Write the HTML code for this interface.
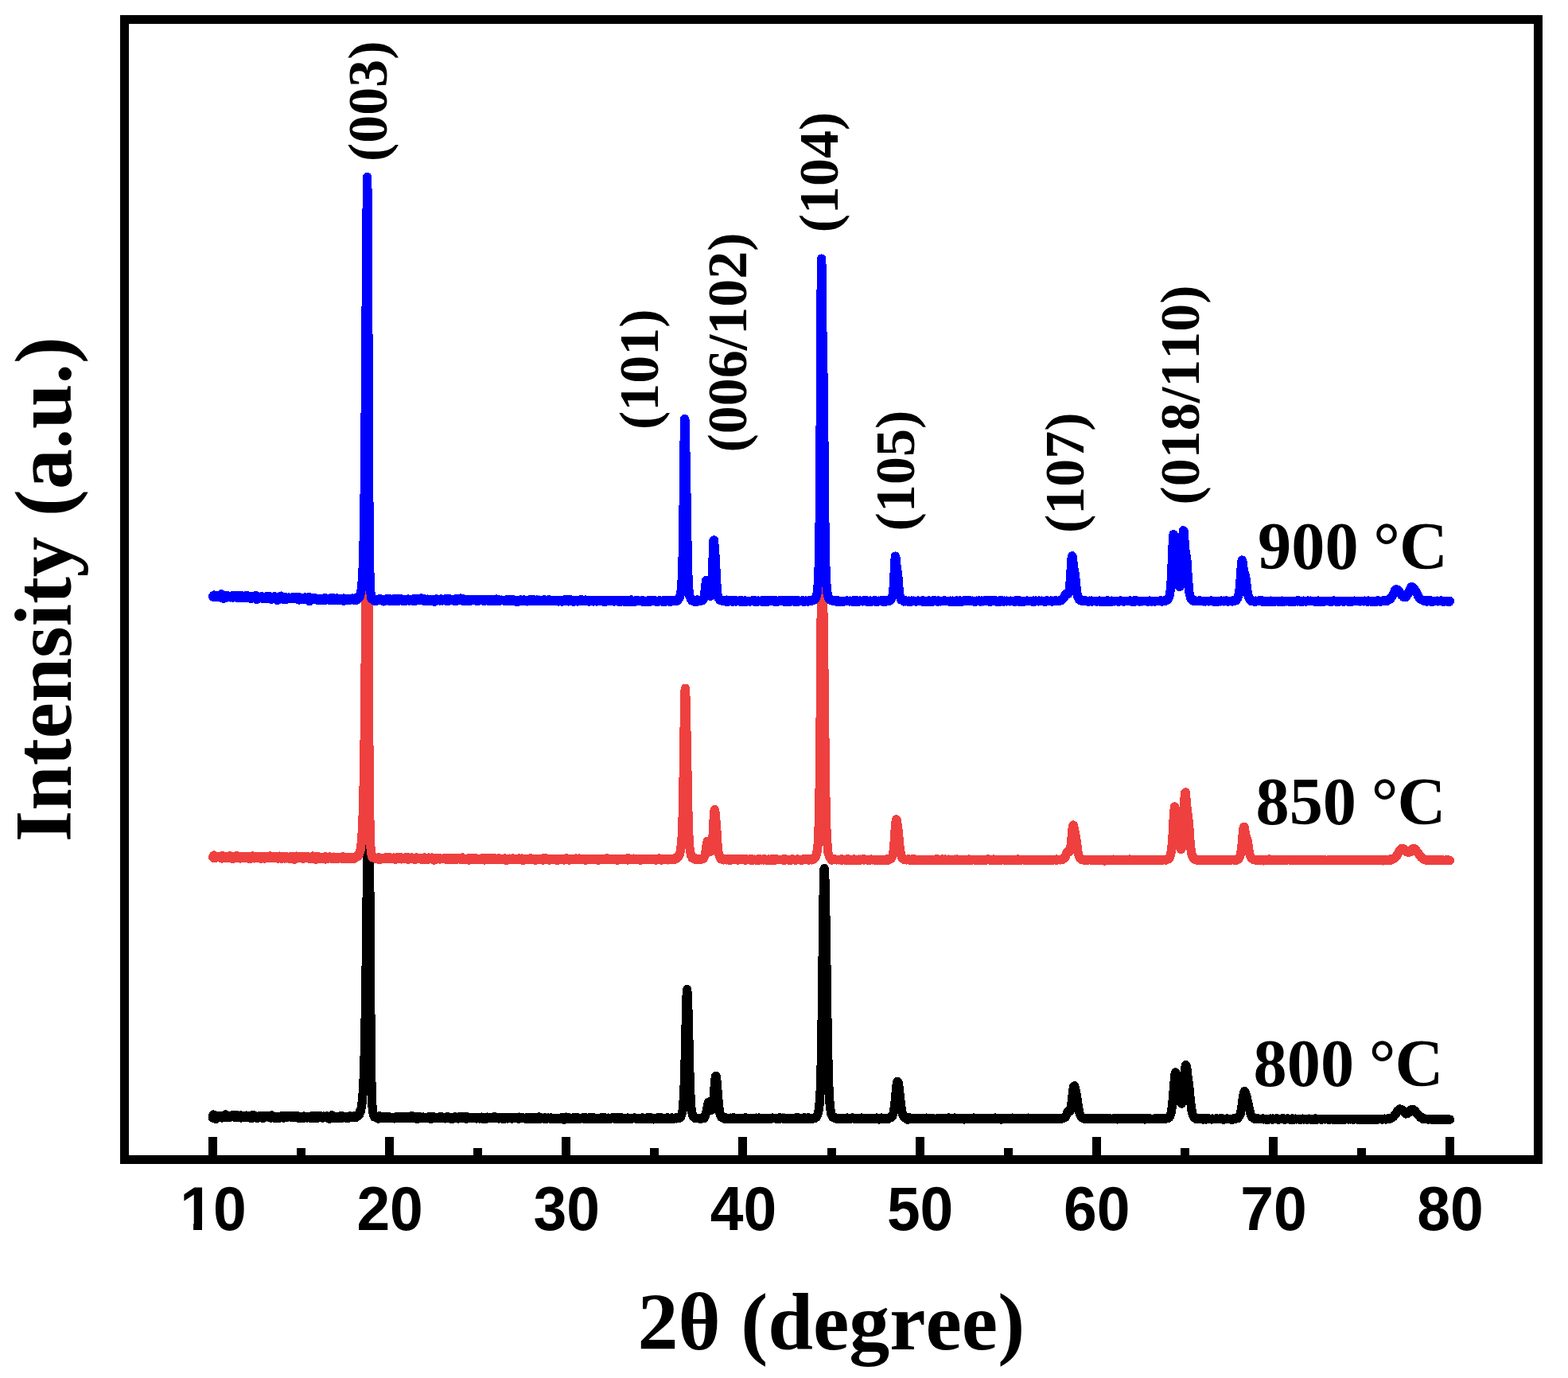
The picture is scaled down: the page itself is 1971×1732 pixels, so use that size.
<!DOCTYPE html>
<html lang="en">
<head>
<meta charset="utf-8">
<title>XRD patterns</title>
<style>
html,body{margin:0;padding:0;background:#fff;}
body{width:1971px;height:1732px;overflow:hidden;}
svg{display:block;}
.s{font-family:"Liberation Serif","Times New Roman",Times,serif;font-weight:bold;fill:#000;font-kerning:none;font-variant-ligatures:none;}
.a{font-family:"Liberation Sans",Arial,Helvetica,sans-serif;font-weight:bold;fill:#000;font-kerning:none;}
.c{fill:none;stroke-linejoin:round;stroke-linecap:round;shape-rendering:crispEdges;}
</style>
</head>
<body>
<svg width="1971" height="1732" viewBox="0 0 1971 1732">
<rect x="0" y="0" width="1971" height="1732" fill="#fff"/>
<defs>
<clipPath id="clip-black"><rect x="0" y="1079" width="1971" height="1732"/><rect x="456.1" y="1039" width="11" height="41"/></clipPath>
<clipPath id="clip-red"><rect x="0" y="754" width="1971" height="1732"/><rect x="455.3" y="714" width="11" height="41"/><rect x="1027.1" y="714" width="11" height="41"/></clipPath>
</defs>
<g clip-path="url(#clip-black)"><path class="c" stroke="#000000" stroke-width="11.2" d="M267.5,1405.1 267.9,1401.0 268.4,1403.7 268.8,1402.8 269.3,1402.9 269.7,1403.1 270.2,1401.5 270.6,1403.1 271.1,1402.5 271.5,1406.3 271.9,1403.5 272.4,1403.0 272.8,1403.1 273.3,1402.7 273.7,1402.4 274.2,1403.0 274.6,1403.8 275.1,1403.1 275.5,1404.2 275.9,1403.2 276.4,1403.4 276.8,1404.7 277.3,1403.8 277.7,1402.9 278.2,1403.2 278.6,1403.8 279.1,1405.1 279.5,1403.1 279.9,1403.2 280.4,1404.3 280.8,1402.6 281.3,1403.1 281.7,1404.2 282.2,1403.9 282.6,1403.5 283.1,1404.0 283.5,1400.9 283.9,1404.3 284.4,1402.5 284.8,1401.9 285.3,1403.6 285.7,1404.0 286.2,1403.0 286.6,1402.5 287.0,1403.4 287.5,1403.4 287.9,1404.7 288.4,1404.1 288.8,1403.6 289.3,1404.4 289.7,1403.2 290.2,1402.6 290.6,1403.9 291.0,1403.9 291.5,1403.2 291.9,1402.7 292.4,1403.6 292.8,1401.2 293.3,1404.0 293.7,1403.9 294.2,1402.0 294.6,1403.5 295.0,1402.6 295.5,1404.1 295.9,1401.7 296.4,1402.7 296.8,1404.1 297.3,1404.5 297.7,1401.6 298.2,1403.0 298.6,1403.8 299.0,1402.9 299.5,1404.9 299.9,1402.4 300.4,1403.8 300.8,1402.6 301.3,1404.7 301.7,1403.5 302.2,1403.2 302.6,1402.0 303.0,1405.0 303.5,1404.1 303.9,1404.2 304.4,1404.5 304.8,1403.8 305.3,1402.9 305.7,1402.8 306.2,1402.8 306.6,1404.7 307.0,1402.2 307.5,1403.0 307.9,1403.2 308.4,1403.7 308.8,1404.0 309.3,1402.4 309.7,1402.0 310.2,1403.5 310.6,1404.6 311.0,1404.2 311.5,1403.7 311.9,1403.3 312.4,1403.8 312.8,1403.3 313.3,1404.3 313.7,1402.9 314.2,1403.7 314.6,1403.5 315.0,1404.0 315.5,1403.8 315.9,1405.8 316.4,1404.9 316.8,1404.9 317.3,1401.8 317.7,1403.3 318.1,1403.0 318.6,1404.0 319.0,1401.6 319.5,1404.6 319.9,1404.5 320.4,1402.5 320.8,1402.7 321.3,1402.9 321.7,1403.6 322.1,1404.1 322.6,1405.3 323.0,1403.4 323.5,1404.3 323.9,1403.7 324.4,1405.1 324.8,1404.2 325.3,1404.8 325.7,1402.7 326.1,1403.4 326.6,1402.9 327.0,1404.9 327.5,1404.2 327.9,1403.4 328.4,1403.2 328.8,1404.0 329.3,1403.0 329.7,1402.8 330.1,1404.0 330.6,1405.7 331.0,1403.4 331.5,1403.2 331.9,1402.6 332.4,1402.5 332.8,1404.1 333.3,1404.4 333.7,1403.7 334.1,1403.9 334.6,1403.8 335.0,1403.8 335.5,1402.4 335.9,1403.3 336.4,1403.8 336.8,1403.0 337.3,1403.3 337.7,1403.0 338.1,1403.4 338.6,1404.4 339.0,1403.3 339.5,1403.6 339.9,1404.4 340.4,1404.2 340.8,1405.1 341.3,1401.9 341.7,1404.4 342.1,1403.3 342.6,1403.8 343.0,1404.4 343.5,1404.6 343.9,1404.6 344.4,1403.8 344.8,1405.1 345.3,1403.5 345.7,1403.6 346.1,1404.4 346.6,1403.3 347.0,1405.5 347.5,1404.6 347.9,1405.6 348.4,1403.7 348.8,1403.4 349.2,1403.9 349.7,1404.4 350.1,1403.3 350.6,1404.1 351.0,1403.7 351.5,1405.1 351.9,1403.2 352.4,1404.6 352.8,1403.2 353.2,1403.0 353.7,1403.2 354.1,1402.8 354.6,1403.9 355.0,1404.6 355.5,1403.9 355.9,1404.3 356.4,1405.1 356.8,1404.0 357.2,1403.9 357.7,1403.6 358.1,1402.5 358.6,1404.4 359.0,1402.3 359.5,1404.3 359.9,1403.8 360.4,1404.7 360.8,1403.7 361.2,1403.1 361.7,1404.1 362.1,1403.3 362.6,1403.7 363.0,1403.8 363.5,1403.7 363.9,1403.7 364.4,1403.1 364.8,1403.7 365.2,1402.1 365.7,1403.7 366.1,1402.8 366.6,1404.8 367.0,1404.9 367.5,1402.2 367.9,1404.0 368.4,1403.7 368.8,1403.0 369.2,1404.3 369.7,1403.5 370.1,1402.4 370.6,1403.6 371.0,1403.7 371.5,1403.9 371.9,1402.8 372.4,1404.4 372.8,1404.5 373.2,1402.9 373.7,1403.3 374.1,1403.8 374.6,1403.4 375.0,1405.3 375.5,1404.0 375.9,1403.1 376.4,1403.2 376.8,1403.8 377.2,1405.8 377.7,1403.7 378.1,1404.0 378.6,1404.3 379.0,1403.9 379.5,1405.8 379.9,1403.5 380.3,1404.5 380.8,1404.0 381.2,1404.4 381.7,1403.0 382.1,1405.3 382.6,1403.8 383.0,1403.9 383.5,1403.2 383.9,1403.3 384.3,1404.4 384.8,1404.7 385.2,1404.5 385.7,1404.9 386.1,1404.5 386.6,1404.0 387.0,1404.6 387.5,1404.4 387.9,1403.9 388.3,1404.5 388.8,1405.0 389.2,1404.1 389.7,1403.7 390.1,1404.5 390.6,1405.5 391.0,1403.8 391.5,1403.9 391.9,1403.9 392.3,1404.9 392.8,1402.5 393.2,1404.3 393.7,1404.9 394.1,1403.3 394.6,1405.2 395.0,1404.4 395.5,1403.5 395.9,1404.1 396.3,1402.8 396.8,1403.5 397.2,1405.5 397.7,1403.3 398.1,1405.5 398.6,1403.9 399.0,1404.8 399.5,1404.0 399.9,1402.2 400.3,1403.6 400.8,1404.2 401.2,1403.1 401.7,1402.9 402.1,1404.3 402.6,1403.5 403.0,1402.7 403.5,1403.5 403.9,1404.7 404.3,1403.7 404.8,1404.8 405.2,1405.2 405.7,1404.1 406.1,1403.1 406.6,1403.0 407.0,1404.0 407.5,1404.7 407.9,1404.3 408.3,1404.5 408.8,1403.7 409.2,1404.3 409.7,1403.7 410.1,1403.8 410.6,1403.0 411.0,1402.8 411.4,1403.7 411.9,1403.2 412.3,1403.3 412.8,1404.6 413.2,1404.0 413.7,1406.4 414.1,1404.8 414.6,1403.6 415.0,1404.7 415.4,1404.4 415.9,1403.6 416.3,1405.0 416.8,1403.5 417.2,1401.7 417.7,1404.7 418.1,1403.6 418.6,1405.3 419.0,1403.6 419.4,1403.2 419.9,1405.3 420.3,1403.3 420.8,1404.3 421.2,1405.2 421.7,1404.2 422.1,1404.1 422.6,1404.2 423.0,1404.8 423.4,1403.5 423.9,1404.6 424.3,1404.6 424.8,1405.9 425.2,1403.9 425.7,1403.4 426.1,1404.7 426.6,1403.8 427.0,1404.4 427.4,1404.2 427.9,1405.0 428.3,1403.6 428.8,1404.1 429.2,1402.2 429.7,1403.5 430.1,1405.3 430.6,1403.6 431.0,1403.6 431.4,1403.2 431.9,1404.6 432.3,1404.3 432.8,1403.2 433.2,1404.7 433.7,1404.4 434.1,1404.7 434.6,1403.7 435.0,1405.5 435.4,1404.5 435.9,1404.1 436.3,1403.7 436.8,1404.0 437.2,1404.8 437.7,1403.9 438.1,1405.0 438.6,1404.6 439.0,1405.1 439.4,1404.7 439.9,1404.0 440.3,1402.6 440.8,1404.3 441.2,1404.7 441.7,1404.2 442.1,1404.4 442.5,1403.6 443.0,1403.7 443.4,1403.2 443.9,1404.9 444.3,1404.0 444.8,1403.4 445.2,1402.7 445.7,1403.6 446.1,1404.7 446.5,1403.9 447.0,1402.9 447.4,1404.4 447.9,1404.2 448.3,1403.7 448.8,1403.4 449.2,1403.4 449.7,1402.6 450.1,1402.4 450.5,1400.8 451.0,1402.1 451.4,1400.5 451.9,1401.1 452.3,1397.1 452.8,1398.0 453.2,1396.9 453.7,1394.2 454.1,1392.7 454.5,1390.3 455.0,1386.9 455.4,1382.1 455.9,1377.4 456.3,1372.1 456.8,1364.6 457.2,1354.1 457.7,1342.2 458.1,1327.7 458.5,1310.5 459.0,1287.4 459.4,1261.5 459.9,1232.7 460.3,1197.6 460.8,1160.1 461.2,1120.4 461.7,1079.9 462.1,1040.0 462.5,1007.5 463.0,979.7 463.4,966.0 463.9,979.0 464.3,1030.7 464.8,1100.2 465.2,1176.6 465.7,1246.7 466.1,1301.7 466.5,1340.2 467.0,1364.3 467.4,1379.5 467.9,1389.5 468.3,1393.9 468.8,1397.5 469.2,1399.7 469.7,1402.3 470.1,1403.1 470.5,1403.9 471.0,1403.4 471.4,1403.5 471.9,1404.5 472.3,1403.7 472.8,1404.7 473.2,1404.7 473.6,1403.7 474.1,1404.2 474.5,1404.2 475.0,1405.6 475.4,1406.2 475.9,1404.3 476.3,1404.4 476.8,1402.7 477.2,1404.5 477.6,1404.4 478.1,1403.6 478.5,1405.0 479.0,1403.3 479.4,1404.3 479.9,1404.5 480.3,1403.5 480.8,1405.1 481.2,1405.2 481.6,1403.4 482.1,1403.4 482.5,1404.9 483.0,1404.4 483.4,1403.6 483.9,1404.2 484.3,1404.4 484.8,1404.4 485.2,1405.1 485.6,1404.7 486.1,1405.7 486.5,1405.5 487.0,1405.0 487.4,1405.2 487.9,1405.4 488.3,1405.0 488.8,1403.6 489.2,1405.1 489.6,1404.5 490.1,1405.6 490.5,1404.6 491.0,1404.9 491.4,1404.7 491.9,1405.7 492.3,1404.6 492.8,1404.3 493.2,1404.7 493.6,1404.2 494.1,1404.6 494.5,1404.5 495.0,1404.7 495.4,1405.9 495.9,1404.2 496.3,1404.5 496.8,1404.4 497.2,1405.0 497.6,1403.7 498.1,1404.0 498.5,1404.5 499.0,1404.9 499.4,1404.5 499.9,1404.2 500.3,1403.9 500.8,1404.9 501.2,1405.6 501.6,1404.8 502.1,1404.7 502.5,1404.9 503.0,1403.9 503.4,1404.3 503.9,1404.4 504.3,1404.8 504.7,1404.5 505.2,1403.7 505.6,1405.4 506.1,1405.8 506.5,1404.4 507.0,1404.9 507.4,1404.8 507.9,1405.1 508.3,1403.5 508.7,1405.7 509.2,1404.3 509.6,1405.5 510.1,1404.6 510.5,1404.3 511.0,1404.5 511.4,1405.2 511.9,1404.0 512.3,1404.3 512.7,1404.3 513.2,1403.4 513.6,1405.5 514.1,1405.0 514.5,1404.6 515.0,1405.4 515.4,1404.0 515.9,1404.6 516.3,1405.8 516.7,1405.3 517.2,1403.1 517.6,1402.3 518.1,1403.9 518.5,1405.4 519.0,1404.3 519.4,1404.5 519.9,1405.1 520.3,1404.0 520.7,1404.8 521.2,1405.2 521.6,1405.0 522.1,1404.9 522.5,1404.2 523.0,1405.0 523.4,1404.4 523.9,1405.6 524.3,1406.4 524.7,1404.2 525.2,1403.2 525.6,1404.4 526.1,1404.9 526.5,1405.4 527.0,1405.4 527.4,1404.2 527.9,1404.1 528.3,1405.5 528.7,1404.0 529.2,1405.4 529.6,1404.5 530.1,1405.2 530.5,1405.2 531.0,1405.2 531.4,1405.3 531.9,1404.0 532.3,1404.9 532.7,1404.7 533.2,1404.9 533.6,1405.5 534.1,1404.5 534.5,1404.2 535.0,1404.2 535.4,1404.5 535.8,1405.2 536.3,1404.2 536.7,1405.5 537.2,1404.9 537.6,1404.6 538.1,1403.9 538.5,1404.9 539.0,1405.2 539.4,1403.6 539.8,1405.5 540.3,1405.8 540.7,1405.0 541.2,1405.1 541.6,1406.4 542.1,1405.6 542.5,1404.2 543.0,1404.8 543.4,1404.7 543.8,1404.7 544.3,1403.2 544.7,1405.3 545.2,1404.4 545.6,1404.9 546.1,1404.7 546.5,1405.4 547.0,1404.6 547.4,1404.3 547.8,1405.1 548.3,1405.7 548.7,1404.6 549.2,1405.7 549.6,1405.0 550.1,1404.5 550.5,1405.8 551.0,1404.3 551.4,1405.5 551.8,1404.5 552.3,1405.1 552.7,1404.0 553.2,1404.3 553.6,1405.5 554.1,1404.9 554.5,1404.9 555.0,1404.5 555.4,1405.1 555.8,1403.9 556.3,1404.1 556.7,1404.7 557.2,1404.3 557.6,1404.4 558.1,1404.8 558.5,1404.8 559.0,1404.7 559.4,1405.9 559.8,1405.5 560.3,1405.7 560.7,1404.8 561.2,1404.5 561.6,1403.9 562.1,1404.6 562.5,1403.5 563.0,1404.5 563.4,1405.4 563.8,1405.9 564.3,1405.5 564.7,1404.3 565.2,1405.2 565.6,1404.4 566.1,1405.4 566.5,1404.8 566.9,1405.4 567.4,1406.5 567.8,1405.5 568.3,1406.4 568.7,1405.0 569.2,1404.7 569.6,1405.8 570.1,1406.0 570.5,1404.6 570.9,1405.0 571.4,1404.0 571.8,1404.8 572.3,1405.5 572.7,1404.9 573.2,1404.6 573.6,1404.0 574.1,1405.2 574.5,1405.4 574.9,1405.3 575.4,1405.1 575.8,1404.1 576.3,1406.0 576.7,1404.9 577.2,1404.9 577.6,1405.4 578.1,1403.6 578.5,1404.9 578.9,1404.9 579.4,1405.2 579.8,1405.8 580.3,1405.3 580.7,1403.8 581.2,1404.8 581.6,1405.1 582.1,1405.1 582.5,1404.2 582.9,1403.9 583.4,1405.3 583.8,1405.2 584.3,1405.0 584.7,1403.9 585.2,1406.1 585.6,1403.2 586.1,1404.8 586.5,1406.3 586.9,1404.9 587.4,1405.1 587.8,1404.3 588.3,1405.8 588.7,1404.2 589.2,1405.2 589.6,1405.1 590.1,1404.4 590.5,1405.6 590.9,1404.2 591.4,1404.6 591.8,1405.0 592.3,1404.8 592.7,1405.3 593.2,1405.6 593.6,1404.9 594.1,1404.7 594.5,1404.7 594.9,1404.8 595.4,1405.5 595.8,1404.9 596.3,1405.3 596.7,1405.0 597.2,1404.5 597.6,1405.6 598.0,1404.4 598.5,1405.1 598.9,1406.0 599.4,1404.4 599.8,1405.0 600.3,1404.1 600.7,1404.8 601.2,1404.2 601.6,1404.9 602.0,1404.8 602.5,1405.2 602.9,1406.0 603.4,1405.3 603.8,1405.5 604.3,1405.1 604.7,1404.9 605.2,1404.6 605.6,1404.0 606.0,1405.1 606.5,1406.1 606.9,1405.4 607.4,1404.8 607.8,1406.1 608.3,1404.9 608.7,1404.7 609.2,1404.4 609.6,1404.5 610.0,1405.0 610.5,1406.3 610.9,1405.0 611.4,1404.5 611.8,1404.8 612.3,1405.0 612.7,1404.1 613.2,1405.2 613.6,1405.6 614.0,1405.3 614.5,1405.5 614.9,1404.4 615.4,1404.2 615.8,1405.9 616.3,1405.8 616.7,1404.3 617.2,1405.3 617.6,1405.2 618.0,1405.5 618.5,1405.3 618.9,1404.9 619.4,1405.3 619.8,1405.3 620.3,1405.1 620.7,1404.1 621.2,1403.4 621.6,1404.7 622.0,1404.2 622.5,1405.3 622.9,1405.6 623.4,1405.3 623.8,1405.0 624.3,1405.2 624.7,1405.9 625.2,1404.8 625.6,1405.7 626.0,1405.6 626.5,1405.4 626.9,1406.0 627.4,1404.8 627.8,1405.8 628.3,1404.7 628.7,1404.8 629.1,1404.6 629.6,1405.5 630.0,1404.7 630.5,1405.3 630.9,1404.6 631.4,1405.8 631.8,1406.3 632.3,1405.4 632.7,1406.2 633.1,1405.6 633.6,1406.5 634.0,1405.3 634.5,1404.4 634.9,1406.1 635.4,1405.2 635.8,1404.7 636.3,1404.9 636.7,1404.3 637.1,1405.2 637.6,1404.7 638.0,1406.1 638.5,1405.6 638.9,1404.3 639.4,1404.4 639.8,1405.0 640.3,1404.2 640.7,1405.2 641.1,1405.3 641.6,1404.9 642.0,1405.0 642.5,1405.6 642.9,1406.1 643.4,1406.1 643.8,1405.3 644.3,1405.8 644.7,1404.9 645.1,1405.5 645.6,1404.8 646.0,1405.7 646.5,1404.6 646.9,1404.8 647.4,1405.3 647.8,1405.6 648.3,1404.5 648.7,1405.0 649.1,1405.4 649.6,1405.5 650.0,1404.9 650.5,1405.4 650.9,1405.2 651.4,1406.1 651.8,1405.7 652.3,1404.6 652.7,1404.1 653.1,1405.4 653.6,1406.0 654.0,1405.5 654.5,1405.8 654.9,1405.1 655.4,1404.6 655.8,1405.8 656.3,1405.4 656.7,1405.7 657.1,1404.6 657.6,1405.5 658.0,1405.0 658.5,1405.8 658.9,1405.1 659.4,1405.1 659.8,1405.1 660.2,1406.1 660.7,1405.4 661.1,1405.0 661.6,1404.8 662.0,1404.8 662.5,1406.2 662.9,1404.4 663.4,1404.9 663.8,1405.8 664.2,1406.1 664.7,1405.3 665.1,1405.8 665.6,1405.8 666.0,1406.0 666.5,1405.4 666.9,1406.3 667.4,1405.5 667.8,1406.3 668.2,1404.8 668.7,1406.0 669.1,1404.8 669.6,1404.6 670.0,1405.7 670.5,1405.0 670.9,1405.7 671.4,1404.9 671.8,1406.3 672.2,1405.5 672.7,1404.9 673.1,1405.6 673.6,1406.0 674.0,1405.1 674.5,1405.8 674.9,1406.6 675.4,1406.0 675.8,1405.5 676.2,1405.2 676.7,1405.8 677.1,1404.7 677.6,1403.9 678.0,1405.2 678.5,1404.9 678.9,1406.5 679.4,1405.6 679.8,1405.0 680.2,1404.9 680.7,1405.8 681.1,1405.1 681.6,1405.2 682.0,1405.5 682.5,1405.6 682.9,1405.6 683.4,1405.6 683.8,1406.3 684.2,1406.5 684.7,1404.7 685.1,1406.9 685.6,1405.6 686.0,1406.2 686.5,1405.2 686.9,1405.7 687.4,1405.7 687.8,1405.6 688.2,1406.0 688.7,1405.9 689.1,1405.0 689.6,1405.5 690.0,1406.0 690.5,1406.0 690.9,1405.4 691.3,1405.4 691.8,1405.5 692.2,1405.0 692.7,1404.9 693.1,1406.4 693.6,1405.4 694.0,1405.7 694.5,1405.2 694.9,1406.3 695.3,1406.6 695.8,1405.5 696.2,1405.9 696.7,1405.2 697.1,1406.6 697.6,1406.1 698.0,1405.2 698.5,1406.3 698.9,1405.8 699.3,1405.9 699.8,1405.8 700.2,1405.3 700.7,1405.4 701.1,1406.0 701.6,1405.6 702.0,1405.1 702.5,1406.7 702.9,1405.5 703.3,1405.3 703.8,1405.3 704.2,1406.0 704.7,1406.2 705.1,1405.8 705.6,1406.1 706.0,1404.8 706.5,1405.4 706.9,1405.4 707.3,1405.6 707.8,1405.9 708.2,1404.6 708.7,1407.3 709.1,1405.2 709.6,1405.8 710.0,1406.1 710.5,1406.1 710.9,1405.8 711.3,1404.1 711.8,1405.1 712.2,1406.0 712.7,1405.1 713.1,1405.1 713.6,1404.4 714.0,1406.3 714.5,1405.9 714.9,1405.2 715.3,1405.6 715.8,1405.6 716.2,1405.0 716.7,1405.5 717.1,1405.8 717.6,1405.9 718.0,1406.3 718.5,1405.6 718.9,1405.4 719.3,1405.8 719.8,1405.3 720.2,1405.0 720.7,1406.2 721.1,1405.4 721.6,1405.7 722.0,1406.0 722.4,1405.0 722.9,1406.0 723.3,1405.9 723.8,1405.6 724.2,1405.8 724.7,1405.2 725.1,1404.5 725.6,1405.5 726.0,1405.1 726.4,1406.1 726.9,1405.8 727.3,1405.3 727.8,1405.7 728.2,1406.3 728.7,1406.2 729.1,1405.8 729.6,1405.9 730.0,1405.5 730.4,1405.6 730.9,1405.9 731.3,1405.6 731.8,1405.8 732.2,1405.0 732.7,1404.8 733.1,1404.7 733.6,1405.4 734.0,1406.3 734.4,1406.3 734.9,1405.1 735.3,1404.8 735.8,1406.0 736.2,1405.9 736.7,1404.9 737.1,1406.2 737.6,1405.7 738.0,1406.3 738.4,1405.8 738.9,1406.1 739.3,1405.8 739.8,1405.1 740.2,1405.5 740.7,1405.3 741.1,1406.1 741.6,1405.1 742.0,1404.8 742.4,1406.0 742.9,1406.2 743.3,1406.4 743.8,1406.2 744.2,1404.8 744.7,1405.3 745.1,1405.4 745.6,1405.6 746.0,1404.5 746.4,1405.6 746.9,1405.8 747.3,1405.1 747.8,1405.7 748.2,1406.3 748.7,1405.7 749.1,1406.2 749.6,1406.2 750.0,1405.9 750.4,1405.8 750.9,1405.4 751.3,1406.3 751.8,1405.4 752.2,1405.3 752.7,1406.0 753.1,1405.3 753.5,1405.9 754.0,1406.2 754.4,1405.7 754.9,1405.7 755.3,1406.1 755.8,1406.0 756.2,1404.8 756.7,1405.0 757.1,1406.3 757.5,1405.8 758.0,1404.6 758.4,1404.9 758.9,1405.7 759.3,1405.1 759.8,1405.9 760.2,1405.7 760.7,1405.9 761.1,1405.0 761.5,1406.0 762.0,1406.7 762.4,1405.2 762.9,1406.3 763.3,1406.2 763.8,1406.0 764.2,1405.6 764.7,1405.1 765.1,1405.2 765.5,1406.1 766.0,1406.2 766.4,1406.3 766.9,1406.2 767.3,1406.1 767.8,1405.4 768.2,1405.0 768.7,1405.8 769.1,1405.9 769.5,1405.7 770.0,1404.9 770.4,1405.4 770.9,1404.9 771.3,1405.7 771.8,1405.1 772.2,1405.6 772.7,1405.8 773.1,1405.7 773.5,1406.4 774.0,1405.1 774.4,1404.5 774.9,1406.1 775.3,1406.4 775.8,1406.4 776.2,1405.8 776.7,1405.9 777.1,1405.7 777.5,1405.0 778.0,1405.4 778.4,1405.9 778.9,1405.4 779.3,1406.6 779.8,1404.9 780.2,1405.4 780.7,1406.2 781.1,1405.4 781.5,1405.1 782.0,1405.0 782.4,1405.3 782.9,1406.4 783.3,1405.9 783.8,1405.9 784.2,1405.4 784.6,1406.1 785.1,1405.7 785.5,1405.2 786.0,1405.4 786.4,1405.8 786.9,1406.3 787.3,1405.6 787.8,1405.9 788.2,1406.7 788.6,1405.3 789.1,1405.0 789.5,1406.2 790.0,1405.9 790.4,1405.6 790.9,1405.8 791.3,1405.5 791.8,1405.9 792.2,1405.5 792.6,1406.1 793.1,1405.1 793.5,1405.3 794.0,1405.7 794.4,1405.4 794.9,1406.0 795.3,1405.7 795.8,1405.4 796.2,1405.8 796.6,1405.4 797.1,1404.9 797.5,1405.1 798.0,1405.3 798.4,1405.4 798.9,1405.7 799.3,1406.1 799.8,1406.0 800.2,1406.6 800.6,1406.3 801.1,1405.6 801.5,1406.5 802.0,1406.3 802.4,1405.5 802.9,1405.8 803.3,1406.2 803.8,1405.8 804.2,1406.2 804.6,1405.9 805.1,1406.0 805.5,1405.5 806.0,1405.9 806.4,1405.5 806.9,1406.0 807.3,1404.8 807.8,1405.9 808.2,1406.3 808.6,1406.0 809.1,1405.7 809.5,1406.0 810.0,1405.3 810.4,1405.3 810.9,1405.5 811.3,1405.6 811.8,1406.2 812.2,1405.2 812.6,1406.2 813.1,1404.9 813.5,1405.3 814.0,1405.7 814.4,1406.3 814.9,1405.4 815.3,1404.6 815.7,1405.9 816.2,1405.7 816.6,1405.2 817.1,1405.2 817.5,1405.4 818.0,1405.8 818.4,1406.0 818.9,1405.0 819.3,1406.9 819.7,1405.7 820.2,1405.5 820.6,1406.0 821.1,1405.8 821.5,1406.9 822.0,1406.3 822.4,1405.5 822.9,1405.5 823.3,1405.5 823.7,1405.5 824.2,1406.0 824.6,1405.4 825.1,1406.5 825.5,1405.7 826.0,1405.6 826.4,1406.2 826.9,1404.7 827.3,1405.2 827.7,1406.0 828.2,1405.7 828.6,1405.7 829.1,1405.9 829.5,1405.4 830.0,1405.6 830.4,1405.0 830.9,1404.8 831.3,1406.3 831.7,1405.2 832.2,1405.4 832.6,1406.4 833.1,1406.2 833.5,1405.4 834.0,1405.4 834.4,1405.7 834.9,1405.2 835.3,1406.0 835.7,1405.8 836.2,1405.8 836.6,1406.1 837.1,1406.1 837.5,1406.6 838.0,1406.5 838.4,1404.9 838.9,1406.2 839.3,1405.2 839.7,1405.0 840.2,1406.1 840.6,1405.4 841.1,1405.5 841.5,1406.2 842.0,1405.4 842.4,1405.3 842.9,1405.9 843.3,1406.3 843.7,1406.0 844.2,1404.9 844.6,1405.4 845.1,1405.6 845.5,1406.6 846.0,1406.1 846.4,1406.1 846.8,1406.3 847.3,1405.5 847.7,1405.9 848.2,1405.9 848.6,1405.1 849.1,1405.6 849.5,1405.9 850.0,1405.0 850.4,1405.9 850.8,1405.9 851.3,1405.9 851.7,1405.0 852.2,1405.3 852.6,1405.9 853.1,1405.5 853.5,1404.5 854.0,1404.8 854.4,1405.2 854.8,1404.1 855.3,1403.9 855.7,1404.4 856.2,1402.3 856.6,1401.2 857.1,1399.4 857.5,1397.7 858.0,1396.2 858.4,1392.0 858.8,1386.8 859.3,1380.7 859.7,1372.8 860.2,1362.4 860.6,1348.1 861.1,1332.4 861.5,1312.9 862.0,1293.3 862.4,1274.1 862.8,1258.0 863.3,1246.5 863.7,1243.5 864.2,1249.2 864.6,1259.7 865.1,1275.3 865.5,1291.9 866.0,1310.0 866.4,1327.7 866.8,1344.9 867.3,1360.0 867.7,1371.8 868.2,1381.4 868.6,1388.7 869.1,1393.6 869.5,1396.5 870.0,1399.3 870.4,1400.2 870.8,1402.8 871.3,1403.0 871.7,1404.0 872.2,1403.8 872.6,1404.6 873.1,1405.1 873.5,1405.6 874.0,1404.6 874.4,1405.7 874.8,1405.3 875.3,1405.1 875.7,1405.7 876.2,1405.4 876.6,1405.4 877.1,1405.2 877.5,1405.7 877.9,1405.6 878.4,1405.5 878.8,1405.2 879.3,1405.4 879.7,1405.8 880.2,1406.2 880.6,1405.6 881.1,1406.2 881.5,1405.5 881.9,1405.0 882.4,1405.7 882.8,1404.9 883.3,1405.5 883.7,1405.7 884.2,1404.8 884.6,1404.7 885.1,1405.6 885.5,1404.1 885.9,1403.6 886.4,1403.1 886.8,1401.6 887.3,1400.3 887.7,1398.9 888.2,1395.5 888.6,1395.1 889.1,1391.4 889.5,1389.1 889.9,1387.9 890.4,1386.2 890.8,1385.0 891.3,1385.8 891.7,1385.9 892.2,1387.3 892.6,1388.3 893.1,1390.3 893.5,1392.4 893.9,1393.6 894.4,1394.5 894.8,1395.1 895.3,1394.1 895.7,1392.3 896.2,1389.9 896.6,1387.1 897.1,1381.5 897.5,1375.7 897.9,1368.9 898.4,1362.7 898.8,1357.4 899.3,1353.6 899.7,1352.2 900.2,1352.7 900.6,1355.3 901.1,1359.8 901.5,1364.8 901.9,1370.4 902.4,1375.7 902.8,1380.9 903.3,1386.7 903.7,1391.1 904.2,1393.8 904.6,1397.7 905.1,1399.8 905.5,1401.9 905.9,1401.8 906.4,1402.6 906.8,1404.2 907.3,1403.5 907.7,1404.3 908.2,1404.4 908.6,1404.6 909.0,1404.3 909.5,1405.2 909.9,1405.9 910.4,1405.7 910.8,1405.8 911.3,1405.4 911.7,1406.3 912.2,1405.9 912.6,1406.2 913.0,1404.9 913.5,1405.8 913.9,1405.1 914.4,1405.9 914.8,1405.8 915.3,1405.2 915.7,1405.8 916.2,1406.3 916.6,1406.0 917.0,1406.0 917.5,1405.3 917.9,1405.4 918.4,1405.2 918.8,1405.8 919.3,1406.3 919.7,1405.9 920.2,1405.7 920.6,1405.2 921.0,1406.0 921.5,1405.6 921.9,1404.8 922.4,1404.9 922.8,1405.6 923.3,1405.3 923.7,1406.5 924.2,1405.8 924.6,1405.3 925.0,1405.5 925.5,1406.5 925.9,1405.3 926.4,1406.1 926.8,1406.0 927.3,1406.4 927.7,1406.0 928.2,1405.6 928.6,1406.0 929.0,1405.8 929.5,1406.2 929.9,1405.7 930.4,1406.7 930.8,1405.7 931.3,1406.0 931.7,1405.5 932.2,1405.8 932.6,1405.8 933.0,1405.8 933.5,1406.2 933.9,1405.5 934.4,1405.4 934.8,1406.3 935.3,1405.6 935.7,1405.5 936.2,1406.3 936.6,1406.1 937.0,1404.5 937.5,1405.6 937.9,1406.1 938.4,1406.2 938.8,1405.5 939.3,1406.5 939.7,1405.4 940.1,1405.7 940.6,1405.8 941.0,1405.8 941.5,1406.1 941.9,1406.2 942.4,1405.8 942.8,1406.4 943.3,1405.5 943.7,1405.7 944.1,1406.6 944.6,1405.8 945.0,1406.3 945.5,1405.6 945.9,1405.7 946.4,1405.7 946.8,1405.9 947.3,1405.6 947.7,1405.8 948.1,1406.1 948.6,1406.3 949.0,1405.8 949.5,1406.1 949.9,1406.2 950.4,1405.3 950.8,1405.1 951.3,1406.5 951.7,1406.4 952.1,1405.8 952.6,1405.9 953.0,1405.3 953.5,1405.1 953.9,1405.9 954.4,1405.1 954.8,1406.2 955.3,1405.5 955.7,1405.9 956.1,1406.7 956.6,1406.7 957.0,1405.7 957.5,1406.3 957.9,1405.3 958.4,1405.5 958.8,1406.0 959.3,1406.4 959.7,1405.5 960.1,1406.0 960.6,1405.8 961.0,1405.2 961.5,1405.7 961.9,1406.5 962.4,1405.7 962.8,1406.0 963.3,1406.2 963.7,1405.5 964.1,1406.4 964.6,1406.5 965.0,1406.5 965.5,1406.4 965.9,1405.6 966.4,1405.5 966.8,1405.4 967.3,1405.4 967.7,1405.4 968.1,1406.2 968.6,1406.5 969.0,1405.5 969.5,1406.2 969.9,1405.2 970.4,1405.6 970.8,1405.3 971.2,1405.0 971.7,1405.8 972.1,1405.8 972.6,1405.6 973.0,1405.6 973.5,1405.3 973.9,1405.7 974.4,1405.5 974.8,1405.9 975.2,1405.2 975.7,1405.9 976.1,1406.0 976.6,1406.4 977.0,1406.3 977.5,1405.9 977.9,1405.5 978.4,1405.0 978.8,1405.8 979.2,1406.4 979.7,1406.5 980.1,1404.6 980.6,1405.4 981.0,1405.6 981.5,1405.3 981.9,1405.9 982.4,1405.8 982.8,1405.6 983.2,1405.8 983.7,1405.1 984.1,1405.4 984.6,1405.4 985.0,1406.2 985.5,1405.1 985.9,1405.7 986.4,1406.1 986.8,1405.8 987.2,1406.2 987.7,1405.5 988.1,1406.0 988.6,1406.2 989.0,1406.8 989.5,1406.1 989.9,1406.4 990.4,1405.8 990.8,1405.8 991.2,1406.5 991.7,1406.1 992.1,1406.4 992.6,1406.1 993.0,1406.8 993.5,1406.9 993.9,1405.4 994.4,1406.6 994.8,1406.0 995.2,1406.0 995.7,1405.8 996.1,1406.1 996.6,1405.3 997.0,1405.5 997.5,1405.5 997.9,1405.9 998.4,1406.2 998.8,1406.1 999.2,1406.0 999.7,1405.5 1000.1,1405.0 1000.6,1406.0 1001.0,1405.9 1001.5,1406.0 1001.9,1406.5 1002.3,1405.7 1002.8,1405.7 1003.2,1404.8 1003.7,1406.1 1004.1,1405.8 1004.6,1405.5 1005.0,1406.0 1005.5,1405.3 1005.9,1405.6 1006.3,1406.7 1006.8,1406.1 1007.2,1406.2 1007.7,1406.1 1008.1,1406.1 1008.6,1405.9 1009.0,1406.8 1009.5,1405.8 1009.9,1406.1 1010.3,1405.7 1010.8,1405.7 1011.2,1404.7 1011.7,1404.9 1012.1,1406.5 1012.6,1406.5 1013.0,1405.6 1013.5,1405.8 1013.9,1406.1 1014.3,1405.3 1014.8,1406.6 1015.2,1405.3 1015.7,1405.5 1016.1,1404.5 1016.6,1406.4 1017.0,1405.8 1017.5,1406.5 1017.9,1405.3 1018.3,1405.9 1018.8,1405.8 1019.2,1405.8 1019.7,1406.6 1020.1,1406.7 1020.6,1406.3 1021.0,1405.4 1021.5,1406.0 1021.9,1406.1 1022.3,1405.7 1022.8,1405.7 1023.2,1405.5 1023.7,1404.8 1024.1,1405.2 1024.6,1405.6 1025.0,1404.3 1025.5,1404.5 1025.9,1404.5 1026.3,1403.1 1026.8,1403.2 1027.2,1401.8 1027.7,1401.3 1028.1,1399.8 1028.6,1398.4 1029.0,1396.5 1029.5,1393.7 1029.9,1389.9 1030.3,1383.8 1030.8,1378.6 1031.2,1368.4 1031.7,1355.5 1032.1,1339.2 1032.6,1318.3 1033.0,1291.1 1033.4,1259.3 1033.9,1222.9 1034.3,1185.1 1034.8,1148.3 1035.2,1119.1 1035.7,1099.5 1036.1,1091.6 1036.6,1095.8 1037.0,1107.6 1037.4,1125.7 1037.9,1149.4 1038.3,1175.7 1038.8,1204.5 1039.2,1234.8 1039.7,1265.6 1040.1,1292.3 1040.6,1316.8 1041.0,1336.8 1041.4,1353.9 1041.9,1366.2 1042.3,1375.7 1042.8,1382.9 1043.2,1389.2 1043.7,1393.4 1044.1,1395.4 1044.6,1398.1 1045.0,1400.4 1045.4,1401.9 1045.9,1401.8 1046.3,1402.9 1046.8,1404.0 1047.2,1403.9 1047.7,1404.3 1048.1,1404.5 1048.6,1404.4 1049.0,1405.1 1049.4,1405.4 1049.9,1404.7 1050.3,1405.5 1050.8,1406.0 1051.2,1405.6 1051.7,1406.0 1052.1,1405.4 1052.6,1406.3 1053.0,1405.3 1053.4,1406.5 1053.9,1405.5 1054.3,1405.4 1054.8,1405.4 1055.2,1405.6 1055.7,1405.6 1056.1,1405.5 1056.6,1405.6 1057.0,1406.1 1057.4,1406.2 1057.9,1405.7 1058.3,1406.3 1058.8,1405.4 1059.2,1405.4 1059.7,1405.3 1060.1,1406.1 1060.6,1405.2 1061.0,1405.2 1061.4,1406.4 1061.9,1406.6 1062.3,1406.4 1062.8,1405.2 1063.2,1405.8 1063.7,1406.2 1064.1,1405.9 1064.5,1405.1 1065.0,1405.7 1065.4,1405.1 1065.9,1405.3 1066.3,1406.8 1066.8,1406.1 1067.2,1405.2 1067.7,1405.2 1068.1,1406.0 1068.5,1405.6 1069.0,1406.1 1069.4,1405.6 1069.9,1405.8 1070.3,1405.9 1070.8,1405.4 1071.2,1405.0 1071.7,1405.3 1072.1,1405.5 1072.5,1405.8 1073.0,1405.8 1073.4,1405.8 1073.9,1406.1 1074.3,1405.5 1074.8,1406.4 1075.2,1406.7 1075.7,1406.0 1076.1,1405.9 1076.5,1406.4 1077.0,1406.1 1077.4,1405.9 1077.9,1405.8 1078.3,1405.5 1078.8,1405.3 1079.2,1406.1 1079.7,1406.4 1080.1,1405.4 1080.5,1405.8 1081.0,1405.9 1081.4,1405.7 1081.9,1405.5 1082.3,1405.7 1082.8,1405.0 1083.2,1405.8 1083.7,1405.7 1084.1,1406.7 1084.5,1406.2 1085.0,1405.7 1085.4,1405.8 1085.9,1406.6 1086.3,1406.5 1086.8,1405.9 1087.2,1405.8 1087.7,1405.2 1088.1,1405.7 1088.5,1405.8 1089.0,1405.5 1089.4,1406.6 1089.9,1405.1 1090.3,1405.8 1090.8,1406.0 1091.2,1406.0 1091.7,1406.6 1092.1,1405.3 1092.5,1405.5 1093.0,1405.9 1093.4,1405.9 1093.9,1405.7 1094.3,1405.5 1094.8,1406.3 1095.2,1405.4 1095.6,1405.6 1096.1,1406.5 1096.5,1406.6 1097.0,1406.2 1097.4,1405.5 1097.9,1405.5 1098.3,1405.5 1098.8,1405.4 1099.2,1405.7 1099.6,1406.4 1100.1,1406.0 1100.5,1405.5 1101.0,1405.5 1101.4,1405.4 1101.9,1406.4 1102.3,1405.0 1102.8,1406.0 1103.2,1405.3 1103.6,1405.4 1104.1,1405.2 1104.5,1406.3 1105.0,1405.8 1105.4,1407.0 1105.9,1405.4 1106.3,1405.4 1106.8,1406.1 1107.2,1406.1 1107.6,1405.7 1108.1,1405.0 1108.5,1406.4 1109.0,1406.1 1109.4,1406.0 1109.9,1405.6 1110.3,1406.1 1110.8,1405.6 1111.2,1405.8 1111.6,1405.7 1112.1,1406.3 1112.5,1405.6 1113.0,1405.7 1113.4,1406.2 1113.9,1405.9 1114.3,1405.7 1114.8,1405.6 1115.2,1406.1 1115.6,1405.4 1116.1,1405.8 1116.5,1406.5 1117.0,1405.7 1117.4,1405.2 1117.9,1404.9 1118.3,1405.4 1118.8,1404.7 1119.2,1404.3 1119.6,1404.5 1120.1,1404.0 1120.5,1404.5 1121.0,1403.0 1121.4,1403.7 1121.9,1401.9 1122.3,1401.2 1122.8,1400.0 1123.2,1398.1 1123.6,1396.1 1124.1,1392.6 1124.5,1388.7 1125.0,1385.5 1125.4,1380.3 1125.9,1375.9 1126.3,1371.6 1126.7,1366.6 1127.2,1362.7 1127.6,1360.0 1128.1,1359.2 1128.5,1359.5 1129.0,1360.2 1129.4,1363.1 1129.9,1365.4 1130.3,1369.2 1130.7,1372.5 1131.2,1377.0 1131.6,1381.0 1132.1,1384.6 1132.5,1388.2 1133.0,1391.7 1133.4,1395.0 1133.9,1397.2 1134.3,1398.8 1134.7,1400.4 1135.2,1402.2 1135.6,1401.8 1136.1,1403.5 1136.5,1403.5 1137.0,1404.8 1137.4,1404.4 1137.9,1404.8 1138.3,1404.6 1138.7,1405.2 1139.2,1405.7 1139.6,1406.1 1140.1,1405.0 1140.5,1405.4 1141.0,1407.3 1141.4,1406.1 1141.9,1405.7 1142.3,1406.0 1142.7,1404.7 1143.2,1406.5 1143.6,1405.9 1144.1,1405.2 1144.5,1406.3 1145.0,1405.6 1145.4,1405.4 1145.9,1406.1 1146.3,1406.0 1146.7,1405.7 1147.2,1405.8 1147.6,1405.3 1148.1,1405.3 1148.5,1406.2 1149.0,1406.4 1149.4,1406.1 1149.9,1406.0 1150.3,1405.7 1150.7,1405.8 1151.2,1405.5 1151.6,1406.6 1152.1,1405.7 1152.5,1406.1 1153.0,1405.9 1153.4,1405.3 1153.9,1406.7 1154.3,1405.7 1154.7,1405.6 1155.2,1405.9 1155.6,1405.5 1156.1,1405.9 1156.5,1405.5 1157.0,1406.1 1157.4,1405.9 1157.8,1405.4 1158.3,1406.3 1158.7,1406.0 1159.2,1405.5 1159.6,1406.1 1160.1,1406.1 1160.5,1406.7 1161.0,1405.6 1161.4,1406.3 1161.8,1405.9 1162.3,1406.2 1162.7,1405.8 1163.2,1405.9 1163.6,1406.1 1164.1,1405.4 1164.5,1405.1 1165.0,1405.9 1165.4,1405.7 1165.8,1405.9 1166.3,1406.2 1166.7,1405.8 1167.2,1406.4 1167.6,1405.9 1168.1,1406.0 1168.5,1406.3 1169.0,1406.2 1169.4,1405.9 1169.8,1406.0 1170.3,1405.6 1170.7,1405.7 1171.2,1406.0 1171.6,1406.3 1172.1,1405.8 1172.5,1406.3 1173.0,1406.7 1173.4,1406.8 1173.8,1405.9 1174.3,1406.4 1174.7,1406.2 1175.2,1406.2 1175.6,1406.3 1176.1,1406.1 1176.5,1406.3 1177.0,1406.0 1177.4,1405.8 1177.8,1406.0 1178.3,1406.1 1178.7,1406.4 1179.2,1406.1 1179.6,1406.2 1180.1,1406.5 1180.5,1405.6 1181.0,1405.8 1181.4,1406.2 1181.8,1406.0 1182.3,1405.5 1182.7,1406.3 1183.2,1405.9 1183.6,1405.5 1184.1,1406.7 1184.5,1405.4 1185.0,1405.9 1185.4,1405.7 1185.8,1406.0 1186.3,1406.2 1186.7,1405.6 1187.2,1405.9 1187.6,1405.9 1188.1,1405.5 1188.5,1406.4 1188.9,1406.0 1189.4,1405.8 1189.8,1405.7 1190.3,1405.8 1190.7,1406.0 1191.2,1405.8 1191.6,1406.4 1192.1,1404.9 1192.5,1405.1 1192.9,1405.8 1193.4,1405.2 1193.8,1405.9 1194.3,1405.7 1194.7,1406.2 1195.2,1406.1 1195.6,1406.5 1196.1,1406.3 1196.5,1406.4 1196.9,1406.2 1197.4,1406.4 1197.8,1406.1 1198.3,1405.7 1198.7,1405.5 1199.2,1405.5 1199.6,1406.1 1200.1,1405.0 1200.5,1406.0 1200.9,1405.7 1201.4,1406.2 1201.8,1406.0 1202.3,1405.7 1202.7,1406.0 1203.2,1405.1 1203.6,1406.1 1204.1,1406.1 1204.5,1405.2 1204.9,1406.3 1205.4,1405.9 1205.8,1406.0 1206.3,1405.4 1206.7,1406.2 1207.2,1406.2 1207.6,1406.0 1208.1,1405.6 1208.5,1406.3 1208.9,1406.4 1209.4,1406.1 1209.8,1406.3 1210.3,1405.7 1210.7,1406.0 1211.2,1406.1 1211.6,1406.0 1212.1,1407.1 1212.5,1406.1 1212.9,1405.8 1213.4,1406.3 1213.8,1405.6 1214.3,1406.1 1214.7,1406.3 1215.2,1405.8 1215.6,1405.9 1216.1,1405.6 1216.5,1406.0 1216.9,1405.7 1217.4,1406.6 1217.8,1406.2 1218.3,1405.9 1218.7,1405.4 1219.2,1406.8 1219.6,1406.5 1220.0,1406.2 1220.5,1406.1 1220.9,1406.1 1221.4,1405.8 1221.8,1406.7 1222.3,1406.1 1222.7,1405.4 1223.2,1405.7 1223.6,1405.0 1224.0,1406.2 1224.5,1406.3 1224.9,1406.7 1225.4,1406.8 1225.8,1405.7 1226.3,1406.2 1226.7,1406.4 1227.2,1406.3 1227.6,1405.8 1228.0,1406.3 1228.5,1406.2 1228.9,1406.5 1229.4,1406.0 1229.8,1405.9 1230.3,1405.8 1230.7,1405.8 1231.2,1405.7 1231.6,1405.9 1232.0,1406.2 1232.5,1406.2 1232.9,1406.5 1233.4,1406.4 1233.8,1406.2 1234.3,1405.6 1234.7,1406.2 1235.2,1406.4 1235.6,1405.5 1236.0,1405.6 1236.5,1405.6 1236.9,1405.6 1237.4,1405.9 1237.8,1405.6 1238.3,1406.1 1238.7,1405.5 1239.2,1405.9 1239.6,1405.8 1240.0,1405.6 1240.5,1406.4 1240.9,1406.0 1241.4,1406.2 1241.8,1405.9 1242.3,1406.2 1242.7,1406.2 1243.2,1405.9 1243.6,1405.3 1244.0,1406.3 1244.5,1406.2 1244.9,1406.1 1245.4,1406.1 1245.8,1406.0 1246.3,1406.1 1246.7,1405.6 1247.2,1406.0 1247.6,1406.1 1248.0,1405.8 1248.5,1405.6 1248.9,1406.7 1249.4,1406.2 1249.8,1405.9 1250.3,1405.8 1250.7,1405.0 1251.1,1405.5 1251.6,1405.9 1252.0,1406.5 1252.5,1405.2 1252.9,1405.7 1253.4,1406.7 1253.8,1406.2 1254.3,1406.1 1254.7,1406.4 1255.1,1405.9 1255.6,1405.9 1256.0,1406.3 1256.5,1406.3 1256.9,1405.6 1257.4,1406.6 1257.8,1405.3 1258.3,1405.7 1258.7,1407.1 1259.1,1405.8 1259.6,1406.2 1260.0,1405.6 1260.5,1405.9 1260.9,1405.7 1261.4,1405.8 1261.8,1406.2 1262.3,1406.6 1262.7,1406.3 1263.1,1406.6 1263.6,1405.8 1264.0,1406.5 1264.5,1406.2 1264.9,1406.5 1265.4,1405.8 1265.8,1405.9 1266.3,1406.5 1266.7,1406.2 1267.1,1406.0 1267.6,1405.7 1268.0,1406.0 1268.5,1406.2 1268.9,1406.3 1269.4,1405.8 1269.8,1405.9 1270.3,1406.2 1270.7,1405.6 1271.1,1406.3 1271.6,1406.0 1272.0,1405.9 1272.5,1405.1 1272.9,1405.4 1273.4,1405.6 1273.8,1405.8 1274.3,1405.6 1274.7,1406.1 1275.1,1406.0 1275.6,1405.9 1276.0,1405.2 1276.5,1406.5 1276.9,1405.9 1277.4,1406.2 1277.8,1405.7 1278.3,1406.0 1278.7,1406.2 1279.1,1406.1 1279.6,1406.3 1280.0,1405.9 1280.5,1406.7 1280.9,1405.3 1281.4,1405.8 1281.8,1406.3 1282.2,1405.9 1282.7,1405.8 1283.1,1405.3 1283.6,1406.4 1284.0,1405.3 1284.5,1406.2 1284.9,1406.1 1285.4,1406.3 1285.8,1406.5 1286.2,1405.7 1286.7,1405.7 1287.1,1405.9 1287.6,1405.4 1288.0,1406.3 1288.5,1405.8 1288.9,1406.0 1289.4,1405.6 1289.8,1406.0 1290.2,1405.8 1290.7,1406.0 1291.1,1405.6 1291.6,1406.4 1292.0,1405.7 1292.5,1405.1 1292.9,1406.2 1293.4,1405.9 1293.8,1405.7 1294.2,1406.9 1294.7,1406.0 1295.1,1405.5 1295.6,1405.8 1296.0,1406.1 1296.5,1405.9 1296.9,1406.4 1297.4,1406.4 1297.8,1405.7 1298.2,1406.0 1298.7,1406.2 1299.1,1405.8 1299.6,1405.8 1300.0,1406.3 1300.5,1406.1 1300.9,1405.5 1301.4,1405.8 1301.8,1405.8 1302.2,1405.9 1302.7,1405.7 1303.1,1406.5 1303.6,1405.6 1304.0,1405.6 1304.5,1406.1 1304.9,1405.2 1305.4,1405.6 1305.8,1406.2 1306.2,1405.5 1306.7,1405.7 1307.1,1406.4 1307.6,1406.2 1308.0,1406.0 1308.5,1406.1 1308.9,1405.8 1309.4,1406.1 1309.8,1405.9 1310.2,1406.9 1310.7,1406.2 1311.1,1405.9 1311.6,1406.0 1312.0,1406.0 1312.5,1405.5 1312.9,1405.7 1313.3,1406.6 1313.8,1405.5 1314.2,1405.8 1314.7,1406.4 1315.1,1406.6 1315.6,1405.7 1316.0,1406.5 1316.5,1405.9 1316.9,1406.6 1317.3,1406.2 1317.8,1405.9 1318.2,1406.3 1318.7,1406.2 1319.1,1405.8 1319.6,1406.8 1320.0,1405.9 1320.5,1406.4 1320.9,1405.9 1321.3,1405.4 1321.8,1405.6 1322.2,1406.0 1322.7,1406.3 1323.1,1406.6 1323.6,1406.1 1324.0,1405.9 1324.5,1405.6 1324.9,1406.0 1325.3,1406.1 1325.8,1405.2 1326.2,1406.5 1326.7,1406.4 1327.1,1406.8 1327.6,1405.7 1328.0,1406.0 1328.5,1406.0 1328.9,1405.5 1329.3,1405.7 1329.8,1405.6 1330.2,1406.2 1330.7,1406.1 1331.1,1406.4 1331.6,1405.8 1332.0,1405.4 1332.5,1406.1 1332.9,1406.0 1333.3,1406.1 1333.8,1406.3 1334.2,1405.6 1334.7,1406.0 1335.1,1405.3 1335.6,1405.7 1336.0,1405.7 1336.5,1405.3 1336.9,1405.3 1337.3,1404.6 1337.8,1404.6 1338.2,1404.6 1338.7,1403.7 1339.1,1403.3 1339.6,1403.9 1340.0,1402.4 1340.5,1401.2 1340.9,1400.2 1341.3,1400.0 1341.8,1397.6 1342.2,1397.6 1342.7,1397.3 1343.1,1396.7 1343.6,1397.2 1344.0,1396.9 1344.4,1397.2 1344.9,1396.6 1345.3,1395.5 1345.8,1393.8 1346.2,1391.4 1346.7,1388.9 1347.1,1385.1 1347.6,1381.2 1348.0,1377.3 1348.4,1373.4 1348.9,1369.6 1349.3,1366.7 1349.8,1365.0 1350.2,1364.9 1350.7,1364.8 1351.1,1366.0 1351.6,1368.8 1352.0,1370.2 1352.4,1372.0 1352.9,1374.3 1353.3,1377.5 1353.8,1379.5 1354.2,1383.2 1354.7,1386.0 1355.1,1389.2 1355.6,1391.3 1356.0,1394.5 1356.4,1395.8 1356.9,1398.3 1357.3,1400.3 1357.8,1401.4 1358.2,1401.6 1358.7,1403.3 1359.1,1403.8 1359.6,1404.1 1360.0,1404.3 1360.4,1404.8 1360.9,1404.9 1361.3,1405.6 1361.8,1405.6 1362.2,1405.9 1362.7,1405.9 1363.1,1405.3 1363.6,1405.8 1364.0,1406.6 1364.4,1405.5 1364.9,1406.0 1365.3,1405.7 1365.8,1405.7 1366.2,1406.1 1366.7,1406.3 1367.1,1406.3 1367.6,1406.2 1368.0,1406.4 1368.4,1405.5 1368.9,1406.3 1369.3,1406.2 1369.8,1406.0 1370.2,1406.1 1370.7,1405.8 1371.1,1406.5 1371.6,1405.8 1372.0,1405.6 1372.4,1406.1 1372.9,1405.9 1373.3,1406.1 1373.8,1406.6 1374.2,1406.0 1374.7,1406.1 1375.1,1406.9 1375.5,1405.6 1376.0,1406.2 1376.4,1406.5 1376.9,1406.6 1377.3,1406.9 1377.8,1405.9 1378.2,1406.3 1378.7,1406.1 1379.1,1405.9 1379.5,1405.9 1380.0,1405.6 1380.4,1406.2 1380.9,1406.4 1381.3,1405.7 1381.8,1406.4 1382.2,1405.9 1382.7,1405.8 1383.1,1405.2 1383.5,1406.5 1384.0,1406.4 1384.4,1406.0 1384.9,1406.0 1385.3,1405.7 1385.8,1406.3 1386.2,1406.1 1386.7,1406.3 1387.1,1406.2 1387.5,1405.7 1388.0,1405.6 1388.4,1406.3 1388.9,1405.6 1389.3,1406.2 1389.8,1406.4 1390.2,1405.7 1390.7,1406.4 1391.1,1406.2 1391.5,1406.3 1392.0,1405.9 1392.4,1406.1 1392.9,1406.3 1393.3,1406.8 1393.8,1406.4 1394.2,1406.3 1394.7,1405.7 1395.1,1406.3 1395.5,1405.9 1396.0,1406.1 1396.4,1406.3 1396.9,1406.5 1397.3,1406.4 1397.8,1406.2 1398.2,1406.1 1398.7,1406.6 1399.1,1405.9 1399.5,1406.2 1400.0,1406.6 1400.4,1406.1 1400.9,1406.5 1401.3,1406.5 1401.8,1406.8 1402.2,1406.6 1402.7,1405.6 1403.1,1406.2 1403.5,1406.3 1404.0,1406.5 1404.4,1406.3 1404.9,1406.8 1405.3,1406.5 1405.8,1405.8 1406.2,1406.0 1406.6,1405.5 1407.1,1406.8 1407.5,1406.1 1408.0,1406.1 1408.4,1405.7 1408.9,1406.0 1409.3,1406.3 1409.8,1406.0 1410.2,1406.0 1410.6,1406.0 1411.1,1406.8 1411.5,1406.0 1412.0,1405.7 1412.4,1406.0 1412.9,1406.0 1413.3,1406.1 1413.8,1406.1 1414.2,1405.8 1414.6,1406.1 1415.1,1406.3 1415.5,1405.7 1416.0,1406.8 1416.4,1406.7 1416.9,1405.6 1417.3,1406.0 1417.8,1406.5 1418.2,1406.6 1418.6,1406.7 1419.1,1405.6 1419.5,1405.8 1420.0,1406.0 1420.4,1406.3 1420.9,1405.8 1421.3,1406.3 1421.8,1406.3 1422.2,1406.4 1422.6,1405.8 1423.1,1406.2 1423.5,1406.2 1424.0,1406.0 1424.4,1406.6 1424.9,1406.1 1425.3,1406.7 1425.8,1406.0 1426.2,1406.7 1426.6,1406.7 1427.1,1405.9 1427.5,1406.3 1428.0,1406.3 1428.4,1405.9 1428.9,1406.5 1429.3,1406.4 1429.8,1405.9 1430.2,1406.2 1430.6,1406.5 1431.1,1406.2 1431.5,1406.0 1432.0,1406.8 1432.4,1405.9 1432.9,1406.3 1433.3,1406.6 1433.8,1406.5 1434.2,1405.6 1434.6,1406.1 1435.1,1406.2 1435.5,1406.2 1436.0,1406.4 1436.4,1406.4 1436.9,1406.3 1437.3,1406.3 1437.7,1406.6 1438.2,1406.6 1438.6,1405.6 1439.1,1407.0 1439.5,1406.1 1440.0,1406.5 1440.4,1405.7 1440.9,1406.1 1441.3,1405.9 1441.7,1406.6 1442.2,1406.5 1442.6,1406.3 1443.1,1406.2 1443.5,1406.4 1444.0,1406.0 1444.4,1406.1 1444.9,1406.0 1445.3,1406.5 1445.7,1406.3 1446.2,1405.9 1446.6,1406.4 1447.1,1406.4 1447.5,1406.7 1448.0,1406.1 1448.4,1406.4 1448.9,1406.9 1449.3,1406.2 1449.7,1406.2 1450.2,1406.4 1450.6,1406.1 1451.1,1406.3 1451.5,1406.1 1452.0,1406.0 1452.4,1406.6 1452.9,1406.2 1453.3,1406.0 1453.7,1406.2 1454.2,1406.2 1454.6,1406.4 1455.1,1406.6 1455.5,1406.8 1456.0,1405.9 1456.4,1406.2 1456.9,1405.7 1457.3,1406.3 1457.7,1406.4 1458.2,1406.1 1458.6,1406.0 1459.1,1405.9 1459.5,1405.8 1460.0,1406.4 1460.4,1406.8 1460.9,1405.9 1461.3,1406.7 1461.7,1406.2 1462.2,1405.8 1462.6,1406.4 1463.1,1406.4 1463.5,1406.3 1464.0,1406.0 1464.4,1406.6 1464.9,1405.9 1465.3,1406.2 1465.7,1406.1 1466.2,1405.6 1466.6,1405.2 1467.1,1405.1 1467.5,1405.4 1468.0,1405.5 1468.4,1404.6 1468.8,1404.6 1469.3,1405.0 1469.7,1403.5 1470.2,1403.6 1470.6,1402.8 1471.1,1402.0 1471.5,1400.1 1472.0,1399.0 1472.4,1396.5 1472.8,1394.9 1473.3,1391.1 1473.7,1387.6 1474.2,1382.8 1474.6,1377.8 1475.1,1371.6 1475.5,1366.1 1476.0,1360.4 1476.4,1355.0 1476.8,1351.5 1477.3,1348.7 1477.7,1347.9 1478.2,1348.4 1478.6,1350.5 1479.1,1352.1 1479.5,1354.8 1480.0,1357.5 1480.4,1360.3 1480.8,1362.9 1481.3,1366.0 1481.7,1368.9 1482.2,1372.1 1482.6,1375.7 1483.1,1379.2 1483.5,1381.4 1484.0,1385.0 1484.4,1386.1 1484.8,1387.0 1485.3,1387.1 1485.7,1385.9 1486.2,1383.3 1486.6,1380.5 1487.1,1376.7 1487.5,1371.4 1488.0,1365.4 1488.4,1358.4 1488.8,1352.2 1489.3,1347.0 1489.7,1342.7 1490.2,1339.7 1490.6,1338.6 1491.1,1339.2 1491.5,1342.4 1492.0,1344.3 1492.4,1348.1 1492.8,1351.4 1493.3,1355.3 1493.7,1357.6 1494.2,1361.0 1494.6,1365.1 1495.1,1369.4 1495.5,1374.2 1496.0,1378.6 1496.4,1382.6 1496.8,1386.3 1497.3,1390.6 1497.7,1393.4 1498.2,1396.7 1498.6,1397.9 1499.1,1400.1 1499.5,1401.1 1499.9,1402.1 1500.4,1403.7 1500.8,1403.9 1501.3,1404.3 1501.7,1405.0 1502.2,1404.9 1502.6,1405.2 1503.1,1405.3 1503.5,1406.3 1503.9,1405.9 1504.4,1406.1 1504.8,1406.3 1505.3,1406.0 1505.7,1406.1 1506.2,1405.7 1506.6,1406.3 1507.1,1406.3 1507.5,1406.1 1507.9,1406.6 1508.4,1405.7 1508.8,1406.4 1509.3,1405.9 1509.7,1406.0 1510.2,1406.3 1510.6,1406.8 1511.1,1406.0 1511.5,1406.0 1511.9,1406.0 1512.4,1407.0 1512.8,1406.5 1513.3,1406.5 1513.7,1407.0 1514.2,1406.5 1514.6,1405.7 1515.1,1406.2 1515.5,1406.0 1515.9,1407.0 1516.4,1406.0 1516.8,1406.5 1517.3,1406.2 1517.7,1406.3 1518.2,1406.4 1518.6,1406.4 1519.1,1406.2 1519.5,1406.0 1519.9,1406.2 1520.4,1406.1 1520.8,1406.1 1521.3,1406.4 1521.7,1406.4 1522.2,1406.6 1522.6,1406.3 1523.1,1407.0 1523.5,1406.2 1523.9,1406.1 1524.4,1406.7 1524.8,1406.2 1525.3,1406.5 1525.7,1406.7 1526.2,1406.4 1526.6,1406.3 1527.1,1406.7 1527.5,1406.5 1527.9,1406.3 1528.4,1406.1 1528.8,1406.3 1529.3,1405.9 1529.7,1406.2 1530.2,1406.1 1530.6,1406.5 1531.0,1406.7 1531.5,1406.2 1531.9,1406.3 1532.4,1406.1 1532.8,1406.0 1533.3,1406.3 1533.7,1406.6 1534.2,1406.6 1534.6,1406.6 1535.0,1406.3 1535.5,1405.6 1535.9,1406.7 1536.4,1406.8 1536.8,1406.7 1537.3,1406.7 1537.7,1406.8 1538.2,1407.3 1538.6,1406.5 1539.0,1406.9 1539.5,1406.7 1539.9,1406.7 1540.4,1406.4 1540.8,1406.3 1541.3,1406.1 1541.7,1406.6 1542.2,1406.3 1542.6,1406.1 1543.0,1406.2 1543.5,1406.1 1543.9,1406.9 1544.4,1406.4 1544.8,1406.5 1545.3,1406.1 1545.7,1406.1 1546.2,1406.8 1546.6,1406.4 1547.0,1406.5 1547.5,1407.0 1547.9,1407.1 1548.4,1406.6 1548.8,1406.5 1549.3,1406.5 1549.7,1406.3 1550.2,1407.0 1550.6,1406.0 1551.0,1406.3 1551.5,1405.7 1551.9,1405.9 1552.4,1406.3 1552.8,1406.3 1553.3,1406.2 1553.7,1405.9 1554.2,1405.7 1554.6,1405.6 1555.0,1405.5 1555.5,1405.8 1555.9,1405.6 1556.4,1405.0 1556.8,1404.3 1557.3,1403.6 1557.7,1403.4 1558.2,1402.4 1558.6,1400.8 1559.0,1400.5 1559.5,1398.5 1559.9,1396.4 1560.4,1393.9 1560.8,1391.2 1561.3,1388.7 1561.7,1384.8 1562.1,1381.7 1562.6,1378.6 1563.0,1376.2 1563.5,1373.6 1563.9,1372.0 1564.4,1371.5 1564.8,1372.2 1565.3,1373.2 1565.7,1374.2 1566.1,1376.0 1566.6,1377.3 1567.0,1378.4 1567.5,1380.1 1567.9,1382.3 1568.4,1384.3 1568.8,1386.0 1569.3,1387.9 1569.7,1389.9 1570.1,1392.6 1570.6,1394.7 1571.0,1396.1 1571.5,1398.6 1571.9,1399.7 1572.4,1401.4 1572.8,1402.4 1573.3,1403.3 1573.7,1404.1 1574.1,1404.5 1574.6,1404.4 1575.0,1404.8 1575.5,1405.7 1575.9,1405.8 1576.4,1405.3 1576.8,1405.3 1577.3,1406.3 1577.7,1406.8 1578.1,1406.4 1578.6,1406.2 1579.0,1406.4 1579.5,1405.5 1579.9,1406.1 1580.4,1406.7 1580.8,1406.7 1581.3,1405.8 1581.7,1406.8 1582.1,1406.6 1582.6,1406.8 1583.0,1406.4 1583.5,1406.5 1583.9,1406.2 1584.4,1406.6 1584.8,1406.8 1585.3,1406.2 1585.7,1406.6 1586.1,1406.4 1586.6,1406.8 1587.0,1406.8 1587.5,1405.8 1587.9,1406.7 1588.4,1406.9 1588.8,1406.4 1589.3,1406.5 1589.7,1406.5 1590.1,1406.2 1590.6,1406.5 1591.0,1407.0 1591.5,1406.7 1591.9,1407.0 1592.4,1406.9 1592.8,1406.9 1593.2,1406.6 1593.7,1406.8 1594.1,1407.2 1594.6,1407.0 1595.0,1406.7 1595.5,1406.3 1595.9,1406.3 1596.4,1406.6 1596.8,1406.7 1597.2,1406.0 1597.7,1406.6 1598.1,1406.7 1598.6,1406.7 1599.0,1406.4 1599.5,1407.3 1599.9,1406.8 1600.4,1406.1 1600.8,1406.3 1601.2,1406.8 1601.7,1406.7 1602.1,1406.6 1602.6,1406.6 1603.0,1406.5 1603.5,1406.4 1603.9,1406.3 1604.4,1406.8 1604.8,1405.7 1605.2,1406.3 1605.7,1407.0 1606.1,1406.3 1606.6,1406.2 1607.0,1407.2 1607.5,1406.9 1607.9,1406.5 1608.4,1406.4 1608.8,1406.5 1609.2,1406.5 1609.7,1406.5 1610.1,1406.3 1610.6,1406.7 1611.0,1406.4 1611.5,1406.0 1611.9,1406.2 1612.4,1406.6 1612.8,1406.3 1613.2,1405.8 1613.7,1407.0 1614.1,1406.7 1614.6,1406.4 1615.0,1406.4 1615.5,1406.7 1615.9,1407.0 1616.4,1406.4 1616.8,1406.7 1617.2,1406.4 1617.7,1406.7 1618.1,1406.2 1618.6,1406.0 1619.0,1406.6 1619.5,1406.6 1619.9,1406.8 1620.4,1406.4 1620.8,1407.0 1621.2,1406.6 1621.7,1407.1 1622.1,1406.5 1622.6,1407.1 1623.0,1406.6 1623.5,1406.6 1623.9,1406.9 1624.3,1406.0 1624.8,1406.3 1625.2,1407.2 1625.7,1406.1 1626.1,1406.4 1626.6,1406.8 1627.0,1407.0 1627.5,1406.4 1627.9,1406.6 1628.3,1406.2 1628.8,1406.5 1629.2,1406.9 1629.7,1406.7 1630.1,1406.6 1630.6,1406.7 1631.0,1406.6 1631.5,1406.7 1631.9,1406.5 1632.3,1406.3 1632.8,1406.8 1633.2,1406.3 1633.7,1406.9 1634.1,1407.3 1634.6,1407.1 1635.0,1407.3 1635.5,1406.3 1635.9,1406.7 1636.3,1406.4 1636.8,1406.4 1637.2,1406.1 1637.7,1406.2 1638.1,1406.9 1638.6,1406.8 1639.0,1407.0 1639.5,1407.0 1639.9,1406.9 1640.3,1406.4 1640.8,1406.6 1641.2,1406.9 1641.7,1407.0 1642.1,1406.5 1642.6,1406.5 1643.0,1406.5 1643.5,1407.1 1643.9,1406.8 1644.3,1406.5 1644.8,1406.4 1645.2,1406.8 1645.7,1406.1 1646.1,1406.6 1646.6,1406.5 1647.0,1406.5 1647.5,1406.7 1647.9,1406.8 1648.3,1407.6 1648.8,1406.7 1649.2,1406.9 1649.7,1406.4 1650.1,1406.1 1650.6,1407.0 1651.0,1407.3 1651.5,1406.4 1651.9,1406.6 1652.3,1407.0 1652.8,1406.7 1653.2,1405.9 1653.7,1407.0 1654.1,1406.6 1654.6,1406.9 1655.0,1406.4 1655.4,1406.9 1655.9,1407.0 1656.3,1406.5 1656.8,1406.8 1657.2,1406.5 1657.7,1406.5 1658.1,1406.4 1658.6,1406.5 1659.0,1406.5 1659.4,1407.0 1659.9,1406.6 1660.3,1406.3 1660.8,1407.1 1661.2,1406.9 1661.7,1407.0 1662.1,1406.7 1662.6,1406.9 1663.0,1406.7 1663.4,1406.4 1663.9,1406.7 1664.3,1406.7 1664.8,1406.7 1665.2,1407.0 1665.7,1406.2 1666.1,1406.8 1666.6,1406.5 1667.0,1406.6 1667.4,1406.8 1667.9,1406.7 1668.3,1406.5 1668.8,1406.9 1669.2,1406.7 1669.7,1407.0 1670.1,1407.1 1670.6,1406.6 1671.0,1406.4 1671.4,1406.7 1671.9,1407.0 1672.3,1406.8 1672.8,1406.4 1673.2,1406.2 1673.7,1406.4 1674.1,1406.4 1674.6,1406.9 1675.0,1406.7 1675.4,1407.0 1675.9,1406.7 1676.3,1407.2 1676.8,1406.7 1677.2,1406.9 1677.7,1406.6 1678.1,1406.9 1678.6,1407.1 1679.0,1407.0 1679.4,1407.1 1679.9,1406.6 1680.3,1406.9 1680.8,1407.3 1681.2,1406.8 1681.7,1406.7 1682.1,1406.7 1682.6,1406.6 1683.0,1406.8 1683.4,1407.2 1683.9,1406.9 1684.3,1406.7 1684.8,1406.5 1685.2,1406.4 1685.7,1407.5 1686.1,1406.6 1686.5,1406.8 1687.0,1406.6 1687.4,1406.8 1687.9,1406.6 1688.3,1406.8 1688.8,1407.2 1689.2,1406.5 1689.7,1406.9 1690.1,1406.7 1690.5,1407.0 1691.0,1406.5 1691.4,1406.9 1691.9,1406.5 1692.3,1406.2 1692.8,1406.4 1693.2,1406.5 1693.7,1406.4 1694.1,1406.7 1694.5,1407.1 1695.0,1406.4 1695.4,1406.9 1695.9,1406.8 1696.3,1406.5 1696.8,1406.5 1697.2,1406.9 1697.7,1406.9 1698.1,1406.6 1698.5,1406.7 1699.0,1406.8 1699.4,1406.4 1699.9,1406.8 1700.3,1406.8 1700.8,1407.3 1701.2,1406.4 1701.7,1406.5 1702.1,1406.8 1702.5,1406.6 1703.0,1406.6 1703.4,1406.8 1703.9,1406.7 1704.3,1406.8 1704.8,1406.9 1705.2,1406.3 1705.7,1406.9 1706.1,1406.1 1706.5,1407.3 1707.0,1407.0 1707.4,1406.6 1707.9,1407.1 1708.3,1406.7 1708.8,1406.9 1709.2,1407.0 1709.7,1406.9 1710.1,1406.8 1710.5,1407.0 1711.0,1406.7 1711.4,1406.7 1711.9,1406.5 1712.3,1406.2 1712.8,1407.3 1713.2,1407.0 1713.7,1406.4 1714.1,1406.9 1714.5,1406.8 1715.0,1406.1 1715.4,1406.5 1715.9,1406.8 1716.3,1407.3 1716.8,1407.1 1717.2,1407.2 1717.6,1406.9 1718.1,1407.1 1718.5,1406.4 1719.0,1407.0 1719.4,1407.0 1719.9,1406.4 1720.3,1406.9 1720.8,1407.3 1721.2,1407.4 1721.6,1407.2 1722.1,1406.6 1722.5,1406.8 1723.0,1406.6 1723.4,1407.2 1723.9,1406.6 1724.3,1406.5 1724.8,1406.3 1725.2,1406.9 1725.6,1406.9 1726.1,1406.6 1726.5,1406.6 1727.0,1406.8 1727.4,1407.2 1727.9,1406.4 1728.3,1406.8 1728.8,1406.9 1729.2,1406.9 1729.6,1407.2 1730.1,1407.1 1730.5,1406.9 1731.0,1407.2 1731.4,1407.2 1731.9,1406.9 1732.3,1406.9 1732.8,1406.5 1733.2,1406.8 1733.6,1406.6 1734.1,1406.5 1734.5,1406.7 1735.0,1406.3 1735.4,1406.5 1735.9,1406.6 1736.3,1406.9 1736.8,1406.7 1737.2,1406.9 1737.6,1407.2 1738.1,1407.0 1738.5,1406.4 1739.0,1406.2 1739.4,1406.5 1739.9,1406.4 1740.3,1406.1 1740.8,1406.2 1741.2,1406.2 1741.6,1406.5 1742.1,1407.1 1742.5,1407.1 1743.0,1406.3 1743.4,1406.4 1743.9,1406.1 1744.3,1406.0 1744.8,1406.4 1745.2,1406.3 1745.6,1406.1 1746.1,1406.4 1746.5,1406.0 1747.0,1406.3 1747.4,1405.7 1747.9,1406.0 1748.3,1405.5 1748.7,1405.5 1749.2,1405.4 1749.6,1404.6 1750.1,1404.5 1750.5,1404.4 1751.0,1404.0 1751.4,1403.8 1751.9,1403.1 1752.3,1402.4 1752.7,1402.3 1753.2,1401.8 1753.6,1400.9 1754.1,1400.8 1754.5,1400.0 1755.0,1399.3 1755.4,1398.6 1755.9,1397.4 1756.3,1397.6 1756.7,1396.1 1757.2,1395.8 1757.6,1395.4 1758.1,1394.9 1758.5,1394.5 1759.0,1393.9 1759.4,1393.9 1759.9,1394.0 1760.3,1394.4 1760.7,1394.0 1761.2,1394.6 1761.6,1394.8 1762.1,1395.0 1762.5,1395.1 1763.0,1395.7 1763.4,1395.6 1763.9,1396.6 1764.3,1397.1 1764.7,1397.2 1765.2,1397.9 1765.6,1398.3 1766.1,1398.3 1766.5,1399.1 1767.0,1398.9 1767.4,1400.0 1767.9,1399.1 1768.3,1399.2 1768.7,1399.2 1769.2,1399.3 1769.6,1399.4 1770.1,1398.8 1770.5,1398.3 1771.0,1398.6 1771.4,1397.9 1771.9,1397.1 1772.3,1396.7 1772.7,1395.8 1773.2,1395.9 1773.6,1396.0 1774.1,1394.9 1774.5,1394.6 1775.0,1394.9 1775.4,1394.2 1775.9,1395.3 1776.3,1394.6 1776.7,1395.0 1777.2,1395.5 1777.6,1396.2 1778.1,1396.3 1778.5,1396.1 1779.0,1396.6 1779.4,1397.6 1779.8,1397.5 1780.3,1398.5 1780.7,1398.9 1781.2,1399.9 1781.6,1400.6 1782.1,1400.1 1782.5,1401.5 1783.0,1402.1 1783.4,1402.1 1783.8,1402.7 1784.3,1402.9 1784.7,1403.6 1785.2,1404.2 1785.6,1404.8 1786.1,1405.1 1786.5,1404.9 1787.0,1404.9 1787.4,1405.7 1787.8,1404.8 1788.3,1405.3 1788.7,1406.1 1789.2,1406.7 1789.6,1405.9 1790.1,1406.3 1790.5,1406.0 1791.0,1406.4 1791.4,1406.4 1791.8,1406.3 1792.3,1406.7 1792.7,1406.5 1793.2,1406.8 1793.6,1406.6 1794.1,1406.3 1794.5,1406.8 1795.0,1407.0 1795.4,1406.5 1795.8,1407.2 1796.3,1406.9 1796.7,1406.7 1797.2,1406.8 1797.6,1406.7 1798.1,1406.6 1798.5,1407.1 1799.0,1407.1 1799.4,1406.7 1799.8,1406.8 1800.3,1406.8 1800.7,1407.1 1801.2,1407.3 1801.6,1406.7 1802.1,1407.0 1802.5,1406.9 1803.0,1407.1 1803.4,1407.4 1803.8,1406.7 1804.3,1406.3 1804.7,1406.9 1805.2,1406.5 1805.6,1407.4 1806.1,1406.7 1806.5,1406.9 1807.0,1407.0 1807.4,1407.0 1807.8,1406.8 1808.3,1407.0 1808.7,1407.2 1809.2,1406.9 1809.6,1407.5 1810.1,1407.1 1810.5,1406.3 1810.9,1407.2 1811.4,1406.4 1811.8,1407.1 1812.3,1407.6 1812.7,1407.3 1813.2,1406.6 1813.6,1406.7 1814.1,1407.0 1814.5,1407.4 1814.9,1406.8 1815.4,1407.3 1815.8,1407.1 1816.3,1406.9 1816.7,1406.9 1817.2,1407.5 1817.6,1406.5 1818.1,1406.6 1818.5,1407.3 1818.9,1407.3 1819.4,1406.6 1819.8,1406.7 1820.3,1406.6 1820.7,1407.2 1821.2,1406.8 1821.6,1407.4 1822.1,1407.2 1822.5,1407.1"/></g>
<g clip-path="url(#clip-red)"><path class="c" stroke="#ef4040" stroke-width="11.2" d="M267.5,1077.4 267.9,1076.7 268.4,1076.8 268.8,1075.0 269.3,1078.8 269.7,1078.2 270.2,1076.9 270.6,1077.9 271.1,1077.5 271.5,1076.7 271.9,1078.1 272.4,1077.0 272.8,1076.9 273.3,1076.5 273.7,1077.7 274.2,1077.2 274.6,1077.7 275.1,1076.7 275.5,1077.4 275.9,1076.5 276.4,1078.0 276.8,1077.4 277.3,1077.6 277.7,1077.6 278.2,1076.4 278.6,1078.0 279.1,1079.1 279.5,1075.8 279.9,1075.8 280.4,1076.0 280.8,1078.0 281.3,1077.4 281.7,1078.3 282.2,1078.0 282.6,1077.5 283.1,1077.6 283.5,1077.2 283.9,1078.1 284.4,1076.3 284.8,1077.0 285.3,1077.5 285.7,1078.9 286.2,1076.7 286.6,1076.4 287.0,1076.8 287.5,1078.2 287.9,1077.1 288.4,1078.5 288.8,1075.7 289.3,1078.4 289.7,1078.3 290.2,1076.1 290.6,1077.5 291.0,1078.4 291.5,1077.5 291.9,1078.3 292.4,1079.5 292.8,1077.6 293.3,1077.1 293.7,1076.7 294.2,1078.0 294.6,1077.2 295.0,1077.2 295.5,1077.3 295.9,1078.0 296.4,1076.5 296.8,1076.1 297.3,1075.3 297.7,1078.5 298.2,1077.5 298.6,1078.8 299.0,1077.4 299.5,1076.8 299.9,1077.9 300.4,1077.4 300.8,1076.3 301.3,1076.7 301.7,1079.0 302.2,1077.8 302.6,1077.8 303.0,1077.2 303.5,1076.9 303.9,1078.2 304.4,1077.4 304.8,1076.8 305.3,1077.4 305.7,1076.7 306.2,1077.6 306.6,1078.5 307.0,1076.8 307.5,1078.7 307.9,1076.9 308.4,1077.6 308.8,1076.8 309.3,1077.3 309.7,1077.6 310.2,1077.1 310.6,1076.9 311.0,1076.9 311.5,1076.8 311.9,1076.2 312.4,1077.3 312.8,1077.9 313.3,1078.3 313.7,1078.1 314.2,1079.7 314.6,1077.8 315.0,1077.2 315.5,1079.2 315.9,1076.7 316.4,1078.4 316.8,1076.7 317.3,1077.9 317.7,1075.9 318.1,1078.3 318.6,1077.4 319.0,1076.7 319.5,1079.0 319.9,1078.2 320.4,1077.6 320.8,1076.9 321.3,1077.6 321.7,1077.5 322.1,1078.2 322.6,1078.3 323.0,1077.0 323.5,1077.1 323.9,1077.2 324.4,1076.5 324.8,1077.1 325.3,1077.5 325.7,1078.2 326.1,1078.8 326.6,1076.9 327.0,1078.1 327.5,1077.3 327.9,1079.4 328.4,1077.6 328.8,1078.1 329.3,1076.9 329.7,1077.0 330.1,1077.8 330.6,1077.3 331.0,1078.0 331.5,1076.3 331.9,1078.2 332.4,1076.9 332.8,1079.1 333.3,1077.4 333.7,1078.6 334.1,1076.5 334.6,1078.1 335.0,1076.9 335.5,1077.3 335.9,1077.7 336.4,1077.4 336.8,1077.9 337.3,1078.3 337.7,1078.3 338.1,1077.6 338.6,1076.6 339.0,1077.0 339.5,1077.6 339.9,1075.9 340.4,1078.4 340.8,1077.5 341.3,1077.5 341.7,1078.5 342.1,1078.3 342.6,1077.9 343.0,1076.9 343.5,1078.0 343.9,1078.0 344.4,1077.0 344.8,1078.6 345.3,1078.2 345.7,1076.1 346.1,1077.9 346.6,1076.7 347.0,1078.7 347.5,1078.5 347.9,1076.9 348.4,1077.0 348.8,1077.9 349.2,1077.6 349.7,1079.1 350.1,1078.4 350.6,1077.6 351.0,1078.3 351.5,1076.1 351.9,1078.1 352.4,1078.5 352.8,1077.7 353.2,1077.2 353.7,1078.3 354.1,1079.5 354.6,1078.0 355.0,1076.9 355.5,1079.0 355.9,1076.3 356.4,1078.3 356.8,1077.4 357.2,1078.6 357.7,1077.2 358.1,1079.0 358.6,1078.1 359.0,1076.4 359.5,1076.2 359.9,1077.6 360.4,1078.9 360.8,1078.0 361.2,1077.9 361.7,1077.7 362.1,1078.5 362.6,1078.2 363.0,1078.1 363.5,1077.1 363.9,1078.9 364.4,1079.0 364.8,1076.8 365.2,1079.8 365.7,1078.5 366.1,1077.5 366.6,1076.4 367.0,1078.5 367.5,1078.4 367.9,1077.4 368.4,1076.5 368.8,1078.9 369.2,1077.5 369.7,1077.6 370.1,1080.3 370.6,1079.7 371.0,1078.7 371.5,1077.6 371.9,1078.5 372.4,1076.1 372.8,1078.1 373.2,1077.3 373.7,1076.9 374.1,1076.7 374.6,1078.4 375.0,1078.1 375.5,1078.1 375.9,1078.7 376.4,1077.3 376.8,1077.0 377.2,1076.6 377.7,1077.7 378.1,1078.6 378.6,1077.9 379.0,1078.5 379.5,1077.1 379.9,1077.6 380.3,1077.4 380.8,1077.0 381.2,1079.5 381.7,1078.7 382.1,1077.4 382.6,1077.4 383.0,1078.0 383.5,1076.9 383.9,1078.4 384.3,1077.0 384.8,1077.8 385.2,1077.2 385.7,1077.7 386.1,1077.0 386.6,1076.8 387.0,1077.3 387.5,1077.5 387.9,1077.8 388.3,1078.1 388.8,1079.3 389.2,1078.7 389.7,1077.9 390.1,1078.7 390.6,1077.5 391.0,1079.3 391.5,1078.5 391.9,1077.0 392.3,1078.7 392.8,1078.8 393.2,1076.0 393.7,1077.5 394.1,1077.7 394.6,1076.6 395.0,1077.3 395.5,1077.4 395.9,1078.5 396.3,1078.4 396.8,1080.2 397.2,1077.8 397.7,1079.1 398.1,1078.2 398.6,1078.4 399.0,1077.2 399.5,1076.6 399.9,1077.6 400.3,1078.8 400.8,1079.4 401.2,1078.7 401.7,1078.6 402.1,1077.5 402.6,1079.4 403.0,1079.3 403.5,1077.8 403.9,1078.2 404.3,1077.4 404.8,1079.4 405.2,1078.5 405.7,1078.1 406.1,1078.5 406.6,1078.6 407.0,1077.9 407.5,1077.2 407.9,1077.2 408.3,1076.8 408.8,1078.6 409.2,1080.0 409.7,1076.9 410.1,1078.3 410.6,1078.6 411.0,1077.5 411.4,1078.4 411.9,1077.4 412.3,1079.2 412.8,1077.8 413.2,1078.3 413.7,1078.8 414.1,1077.9 414.6,1076.9 415.0,1077.9 415.4,1078.9 415.9,1078.2 416.3,1078.5 416.8,1077.4 417.2,1078.4 417.7,1078.9 418.1,1078.3 418.6,1079.8 419.0,1078.1 419.4,1077.5 419.9,1077.0 420.3,1079.2 420.8,1078.3 421.2,1079.1 421.7,1078.7 422.1,1079.6 422.6,1079.3 423.0,1078.0 423.4,1078.5 423.9,1079.2 424.3,1077.4 424.8,1079.5 425.2,1079.3 425.7,1079.1 426.1,1078.2 426.6,1078.6 427.0,1077.5 427.4,1078.4 427.9,1077.9 428.3,1078.4 428.8,1078.0 429.2,1078.6 429.7,1079.3 430.1,1077.4 430.6,1079.1 431.0,1076.8 431.4,1076.7 431.9,1078.3 432.3,1078.4 432.8,1078.7 433.2,1077.1 433.7,1078.3 434.1,1078.5 434.6,1079.4 435.0,1078.3 435.4,1078.8 435.9,1077.6 436.3,1078.2 436.8,1078.0 437.2,1078.9 437.7,1077.6 438.1,1077.7 438.6,1078.8 439.0,1079.7 439.4,1078.7 439.9,1078.6 440.3,1078.1 440.8,1079.2 441.2,1078.7 441.7,1079.6 442.1,1078.5 442.5,1077.5 443.0,1077.8 443.4,1077.5 443.9,1077.2 444.3,1079.1 444.8,1078.7 445.2,1077.1 445.7,1079.3 446.1,1078.1 446.5,1077.1 447.0,1078.0 447.4,1077.5 447.9,1076.8 448.3,1075.7 448.8,1076.9 449.2,1076.8 449.7,1074.3 450.1,1076.2 450.5,1075.7 451.0,1074.1 451.4,1073.7 451.9,1072.3 452.3,1070.5 452.8,1069.1 453.2,1068.2 453.7,1063.2 454.1,1060.9 454.5,1056.2 455.0,1049.6 455.4,1042.2 455.9,1031.7 456.3,1019.6 456.8,1004.3 457.2,984.3 457.7,958.2 458.1,930.3 458.5,890.6 459.0,848.1 459.4,799.7 459.9,748.6 460.3,699.3 460.8,652.5 461.2,618.1 461.7,596.5 462.1,614.6 462.5,683.1 463.0,765.2 463.4,858.1 463.9,934.0 464.3,989.9 464.8,1025.2 465.2,1047.2 465.7,1060.1 466.1,1067.0 466.5,1071.0 467.0,1073.9 467.4,1075.7 467.9,1077.9 468.3,1076.2 468.8,1077.4 469.2,1077.3 469.7,1077.1 470.1,1077.4 470.5,1077.8 471.0,1079.0 471.4,1078.4 471.9,1078.2 472.3,1079.1 472.8,1078.8 473.2,1078.5 473.6,1078.9 474.1,1078.1 474.5,1079.1 475.0,1079.0 475.4,1078.4 475.9,1077.8 476.3,1079.8 476.8,1078.8 477.2,1080.9 477.6,1078.2 478.1,1079.3 478.5,1078.4 479.0,1078.9 479.4,1079.3 479.9,1078.2 480.3,1078.7 480.8,1078.9 481.2,1078.8 481.6,1079.2 482.1,1079.5 482.5,1079.4 483.0,1079.0 483.4,1078.5 483.9,1077.9 484.3,1078.2 484.8,1078.4 485.2,1079.3 485.6,1078.5 486.1,1077.9 486.5,1079.2 487.0,1078.2 487.4,1078.2 487.9,1078.6 488.3,1079.1 488.8,1077.1 489.2,1078.0 489.6,1078.9 490.1,1078.6 490.5,1078.2 491.0,1078.4 491.4,1079.8 491.9,1078.5 492.3,1079.3 492.8,1079.4 493.2,1078.5 493.6,1079.2 494.1,1078.5 494.5,1078.4 495.0,1078.0 495.4,1079.5 495.9,1078.6 496.3,1078.5 496.8,1078.1 497.2,1080.2 497.6,1079.4 498.1,1078.8 498.5,1078.4 499.0,1077.8 499.4,1079.1 499.9,1079.1 500.3,1077.9 500.8,1079.7 501.2,1079.4 501.6,1078.2 502.1,1078.5 502.5,1078.6 503.0,1079.0 503.4,1078.8 503.9,1077.8 504.3,1080.0 504.7,1079.1 505.2,1079.8 505.6,1079.8 506.1,1078.8 506.5,1079.2 507.0,1079.5 507.4,1079.5 507.9,1078.8 508.3,1078.5 508.7,1079.0 509.2,1078.4 509.6,1078.6 510.1,1077.5 510.5,1079.0 511.0,1078.3 511.4,1078.6 511.9,1078.9 512.3,1079.2 512.7,1080.3 513.2,1079.1 513.6,1078.0 514.1,1079.1 514.5,1078.6 515.0,1079.3 515.4,1078.5 515.9,1078.5 516.3,1078.7 516.7,1078.6 517.2,1077.8 517.6,1078.6 518.1,1079.0 518.5,1079.8 519.0,1078.8 519.4,1078.8 519.9,1079.4 520.3,1079.4 520.7,1080.1 521.2,1079.4 521.6,1079.0 522.1,1080.0 522.5,1080.1 523.0,1078.7 523.4,1079.2 523.9,1077.9 524.3,1078.8 524.7,1078.5 525.2,1078.9 525.6,1078.7 526.1,1079.0 526.5,1079.0 527.0,1079.4 527.4,1079.2 527.9,1078.7 528.3,1078.2 528.7,1079.9 529.2,1080.1 529.6,1078.8 530.1,1079.5 530.5,1078.1 531.0,1078.1 531.4,1078.9 531.9,1080.1 532.3,1078.4 532.7,1078.6 533.2,1080.2 533.6,1077.9 534.1,1079.6 534.5,1079.5 535.0,1079.0 535.4,1079.3 535.8,1080.9 536.3,1078.4 536.7,1078.9 537.2,1079.0 537.6,1078.7 538.1,1078.3 538.5,1080.2 539.0,1079.3 539.4,1078.0 539.8,1078.7 540.3,1079.4 540.7,1079.4 541.2,1078.2 541.6,1079.1 542.1,1079.4 542.5,1079.5 543.0,1079.5 543.4,1078.0 543.8,1080.4 544.3,1079.3 544.7,1080.4 545.2,1081.1 545.6,1079.1 546.1,1078.4 546.5,1079.8 547.0,1079.1 547.4,1078.9 547.8,1078.6 548.3,1080.3 548.7,1078.9 549.2,1078.3 549.6,1079.0 550.1,1078.5 550.5,1079.4 551.0,1079.0 551.4,1078.6 551.8,1079.7 552.3,1078.8 552.7,1079.7 553.2,1080.1 553.6,1079.0 554.1,1078.9 554.5,1079.4 555.0,1079.9 555.4,1079.3 555.8,1079.4 556.3,1079.3 556.7,1079.5 557.2,1079.7 557.6,1078.8 558.1,1079.0 558.5,1079.3 559.0,1078.9 559.4,1079.4 559.8,1079.7 560.3,1079.3 560.7,1078.9 561.2,1078.8 561.6,1080.5 562.1,1079.9 562.5,1078.6 563.0,1078.8 563.4,1080.5 563.8,1080.3 564.3,1079.4 564.7,1080.1 565.2,1078.4 565.6,1079.4 566.1,1079.8 566.5,1078.2 566.9,1078.9 567.4,1079.9 567.8,1080.1 568.3,1079.0 568.7,1079.6 569.2,1080.4 569.6,1079.1 570.1,1078.5 570.5,1079.4 570.9,1079.2 571.4,1080.2 571.8,1079.5 572.3,1078.9 572.7,1080.9 573.2,1079.1 573.6,1079.7 574.1,1079.8 574.5,1079.9 574.9,1079.5 575.4,1079.8 575.8,1079.4 576.3,1078.5 576.7,1079.3 577.2,1079.3 577.6,1079.3 578.1,1079.5 578.5,1079.1 578.9,1080.3 579.4,1080.4 579.8,1078.1 580.3,1079.5 580.7,1079.0 581.2,1077.9 581.6,1079.7 582.1,1079.1 582.5,1079.3 582.9,1079.1 583.4,1080.2 583.8,1080.3 584.3,1079.7 584.7,1079.9 585.2,1079.4 585.6,1079.6 586.1,1079.1 586.5,1079.5 586.9,1079.1 587.4,1079.7 587.8,1080.0 588.3,1079.7 588.7,1080.3 589.2,1081.2 589.6,1078.2 590.1,1079.5 590.5,1079.2 590.9,1079.3 591.4,1078.7 591.8,1079.6 592.3,1079.4 592.7,1079.2 593.2,1079.4 593.6,1079.2 594.1,1078.1 594.5,1080.2 594.9,1079.4 595.4,1079.0 595.8,1079.8 596.3,1079.2 596.7,1078.3 597.2,1080.1 597.6,1078.6 598.0,1079.5 598.5,1079.7 598.9,1080.4 599.4,1080.3 599.8,1079.7 600.3,1079.2 600.7,1079.4 601.2,1080.3 601.6,1080.7 602.0,1080.0 602.5,1079.2 602.9,1080.2 603.4,1079.4 603.8,1079.4 604.3,1079.5 604.7,1080.0 605.2,1079.8 605.6,1080.2 606.0,1080.4 606.5,1080.0 606.9,1078.3 607.4,1078.7 607.8,1079.8 608.3,1079.6 608.7,1081.0 609.2,1079.7 609.6,1079.6 610.0,1080.2 610.5,1080.3 610.9,1079.6 611.4,1080.0 611.8,1079.0 612.3,1079.1 612.7,1080.4 613.2,1078.9 613.6,1080.3 614.0,1080.1 614.5,1080.2 614.9,1080.3 615.4,1080.1 615.8,1078.5 616.3,1079.1 616.7,1079.4 617.2,1080.3 617.6,1079.1 618.0,1079.3 618.5,1079.5 618.9,1080.5 619.4,1078.9 619.8,1079.0 620.3,1080.1 620.7,1078.5 621.2,1080.0 621.6,1079.5 622.0,1078.9 622.5,1079.5 622.9,1079.2 623.4,1079.9 623.8,1080.0 624.3,1080.6 624.7,1079.8 625.2,1079.9 625.6,1079.5 626.0,1079.8 626.5,1080.4 626.9,1078.7 627.4,1080.2 627.8,1079.5 628.3,1079.9 628.7,1080.0 629.1,1080.3 629.6,1080.0 630.0,1079.6 630.5,1080.0 630.9,1079.8 631.4,1079.7 631.8,1080.0 632.3,1080.3 632.7,1079.9 633.1,1079.9 633.6,1079.1 634.0,1079.8 634.5,1078.8 634.9,1080.3 635.4,1079.3 635.8,1080.6 636.3,1081.6 636.7,1079.7 637.1,1080.6 637.6,1080.1 638.0,1079.6 638.5,1079.4 638.9,1080.2 639.4,1080.7 639.8,1080.1 640.3,1079.1 640.7,1079.3 641.1,1079.8 641.6,1080.7 642.0,1080.1 642.5,1080.1 642.9,1080.6 643.4,1079.8 643.8,1079.9 644.3,1079.8 644.7,1078.9 645.1,1080.2 645.6,1080.1 646.0,1080.5 646.5,1079.3 646.9,1079.5 647.4,1080.4 647.8,1080.1 648.3,1080.7 648.7,1079.4 649.1,1080.0 649.6,1079.5 650.0,1080.1 650.5,1079.7 650.9,1080.2 651.4,1080.5 651.8,1080.3 652.3,1078.9 652.7,1080.4 653.1,1080.2 653.6,1079.4 654.0,1079.4 654.5,1079.9 654.9,1080.2 655.4,1079.7 655.8,1079.0 656.3,1080.1 656.7,1080.0 657.1,1081.3 657.6,1079.2 658.0,1081.3 658.5,1080.9 658.9,1080.1 659.4,1080.8 659.8,1080.0 660.2,1080.5 660.7,1079.5 661.1,1080.0 661.6,1079.4 662.0,1079.1 662.5,1079.8 662.9,1079.6 663.4,1080.3 663.8,1080.6 664.2,1079.9 664.7,1080.0 665.1,1080.1 665.6,1079.0 666.0,1080.1 666.5,1080.0 666.9,1079.9 667.4,1079.4 667.8,1078.9 668.2,1079.8 668.7,1080.1 669.1,1080.7 669.6,1080.6 670.0,1080.8 670.5,1080.2 670.9,1080.6 671.4,1079.8 671.8,1080.3 672.2,1080.5 672.7,1081.4 673.1,1080.1 673.6,1079.3 674.0,1080.7 674.5,1079.5 674.9,1079.9 675.4,1079.8 675.8,1079.5 676.2,1080.7 676.7,1080.3 677.1,1079.6 677.6,1080.0 678.0,1079.7 678.5,1080.3 678.9,1079.8 679.4,1079.6 679.8,1079.6 680.2,1079.7 680.7,1080.1 681.1,1079.5 681.6,1079.9 682.0,1080.2 682.5,1081.2 682.9,1080.4 683.4,1078.4 683.8,1079.7 684.2,1079.8 684.7,1080.2 685.1,1080.8 685.6,1080.4 686.0,1078.7 686.5,1080.2 686.9,1080.0 687.4,1080.2 687.8,1080.7 688.2,1079.4 688.7,1080.6 689.1,1079.1 689.6,1080.0 690.0,1080.2 690.5,1081.2 690.9,1079.6 691.3,1079.1 691.8,1080.4 692.2,1079.6 692.7,1080.8 693.1,1079.6 693.6,1079.5 694.0,1080.7 694.5,1080.1 694.9,1080.5 695.3,1079.2 695.8,1080.9 696.2,1079.7 696.7,1080.4 697.1,1079.5 697.6,1079.2 698.0,1079.9 698.5,1080.1 698.9,1080.9 699.3,1080.2 699.8,1080.4 700.2,1080.4 700.7,1081.7 701.1,1079.6 701.6,1080.7 702.0,1079.9 702.5,1080.2 702.9,1079.7 703.3,1080.6 703.8,1079.4 704.2,1079.3 704.7,1079.9 705.1,1079.4 705.6,1080.4 706.0,1080.5 706.5,1079.6 706.9,1080.4 707.3,1079.7 707.8,1080.0 708.2,1080.0 708.7,1081.0 709.1,1080.0 709.6,1079.5 710.0,1079.5 710.5,1080.7 710.9,1079.1 711.3,1079.8 711.8,1079.8 712.2,1078.7 712.7,1079.8 713.1,1080.6 713.6,1080.2 714.0,1079.6 714.5,1080.4 714.9,1080.3 715.3,1081.1 715.8,1079.7 716.2,1079.8 716.7,1080.1 717.1,1080.0 717.6,1080.1 718.0,1080.0 718.5,1079.7 718.9,1079.2 719.3,1079.8 719.8,1079.3 720.2,1079.5 720.7,1079.8 721.1,1080.3 721.6,1080.5 722.0,1079.5 722.4,1080.2 722.9,1080.5 723.3,1080.0 723.8,1079.2 724.2,1078.9 724.7,1080.5 725.1,1080.5 725.6,1080.2 726.0,1079.5 726.4,1080.8 726.9,1080.7 727.3,1080.0 727.8,1079.9 728.2,1079.0 728.7,1080.5 729.1,1079.2 729.6,1080.4 730.0,1080.4 730.4,1080.1 730.9,1080.9 731.3,1079.9 731.8,1080.4 732.2,1080.5 732.7,1080.2 733.1,1079.8 733.6,1080.7 734.0,1080.3 734.4,1080.0 734.9,1080.0 735.3,1080.1 735.8,1081.3 736.2,1080.1 736.7,1079.9 737.1,1079.5 737.6,1079.4 738.0,1079.1 738.4,1080.2 738.9,1080.1 739.3,1079.5 739.8,1079.3 740.2,1079.9 740.7,1079.8 741.1,1079.4 741.6,1080.2 742.0,1080.2 742.4,1080.1 742.9,1080.5 743.3,1079.7 743.8,1080.8 744.2,1079.6 744.7,1080.4 745.1,1080.4 745.6,1080.0 746.0,1080.3 746.4,1079.4 746.9,1079.3 747.3,1080.0 747.8,1079.7 748.2,1080.4 748.7,1080.1 749.1,1080.4 749.6,1080.3 750.0,1080.2 750.4,1080.1 750.9,1079.9 751.3,1079.9 751.8,1081.2 752.2,1079.2 752.7,1080.0 753.1,1080.6 753.5,1080.3 754.0,1080.8 754.4,1080.4 754.9,1079.4 755.3,1079.9 755.8,1079.4 756.2,1080.6 756.7,1080.9 757.1,1079.9 757.5,1080.4 758.0,1079.9 758.4,1079.4 758.9,1079.9 759.3,1079.3 759.8,1079.8 760.2,1080.2 760.7,1080.5 761.1,1080.8 761.5,1079.9 762.0,1080.2 762.4,1080.3 762.9,1080.4 763.3,1078.6 763.8,1079.7 764.2,1080.5 764.7,1079.5 765.1,1080.2 765.5,1080.5 766.0,1079.1 766.4,1080.0 766.9,1080.2 767.3,1080.1 767.8,1079.3 768.2,1080.3 768.7,1079.8 769.1,1080.5 769.5,1080.3 770.0,1079.8 770.4,1080.2 770.9,1079.8 771.3,1079.8 771.8,1079.3 772.2,1080.0 772.7,1080.5 773.1,1080.2 773.5,1080.1 774.0,1079.8 774.4,1079.9 774.9,1080.5 775.3,1079.4 775.8,1081.2 776.2,1080.1 776.7,1081.2 777.1,1080.7 777.5,1079.9 778.0,1080.5 778.4,1080.3 778.9,1080.4 779.3,1080.5 779.8,1079.8 780.2,1079.8 780.7,1079.9 781.1,1079.4 781.5,1080.0 782.0,1080.2 782.4,1080.2 782.9,1080.2 783.3,1079.9 783.8,1080.5 784.2,1079.1 784.6,1079.9 785.1,1079.9 785.5,1080.6 786.0,1080.5 786.4,1080.5 786.9,1080.1 787.3,1080.6 787.8,1079.6 788.2,1080.2 788.6,1079.0 789.1,1081.0 789.5,1080.9 790.0,1079.8 790.4,1079.7 790.9,1079.0 791.3,1079.3 791.8,1080.2 792.2,1080.0 792.6,1079.4 793.1,1079.9 793.5,1079.8 794.0,1080.4 794.4,1080.5 794.9,1080.0 795.3,1080.2 795.8,1080.1 796.2,1079.1 796.6,1080.2 797.1,1080.1 797.5,1080.5 798.0,1079.2 798.4,1080.5 798.9,1079.8 799.3,1080.3 799.8,1080.7 800.2,1079.4 800.6,1079.5 801.1,1080.6 801.5,1079.6 802.0,1079.7 802.4,1080.4 802.9,1080.0 803.3,1080.5 803.8,1080.3 804.2,1080.1 804.6,1080.6 805.1,1081.3 805.5,1080.1 806.0,1080.9 806.4,1080.7 806.9,1080.2 807.3,1080.4 807.8,1079.7 808.2,1079.8 808.6,1080.3 809.1,1080.1 809.5,1080.8 810.0,1079.5 810.4,1080.0 810.9,1079.8 811.3,1080.1 811.8,1080.7 812.2,1079.6 812.6,1080.6 813.1,1079.9 813.5,1080.0 814.0,1080.7 814.4,1080.0 814.9,1080.5 815.3,1080.2 815.7,1080.1 816.2,1080.0 816.6,1079.3 817.1,1079.8 817.5,1080.3 818.0,1080.3 818.4,1079.4 818.9,1080.7 819.3,1080.5 819.7,1079.5 820.2,1079.7 820.6,1080.4 821.1,1079.3 821.5,1079.8 822.0,1080.2 822.4,1080.1 822.9,1080.2 823.3,1080.4 823.7,1079.8 824.2,1079.9 824.6,1081.2 825.1,1079.5 825.5,1080.0 826.0,1080.2 826.4,1079.9 826.9,1080.8 827.3,1080.2 827.7,1080.6 828.2,1078.9 828.6,1080.8 829.1,1080.8 829.5,1079.8 830.0,1080.8 830.4,1080.3 830.9,1080.6 831.3,1081.1 831.7,1080.2 832.2,1079.7 832.6,1080.2 833.1,1079.5 833.5,1079.8 834.0,1079.8 834.4,1079.8 834.9,1080.7 835.3,1080.6 835.7,1079.7 836.2,1080.7 836.6,1079.3 837.1,1079.8 837.5,1080.1 838.0,1080.7 838.4,1080.5 838.9,1080.4 839.3,1080.8 839.7,1080.5 840.2,1080.8 840.6,1079.7 841.1,1079.2 841.5,1079.9 842.0,1080.5 842.4,1080.2 842.9,1080.5 843.3,1080.4 843.7,1080.2 844.2,1080.4 844.6,1079.6 845.1,1080.4 845.5,1079.4 846.0,1079.8 846.4,1079.1 846.8,1080.0 847.3,1078.9 847.7,1080.3 848.2,1078.8 848.6,1079.5 849.1,1079.2 849.5,1078.7 850.0,1079.5 850.4,1078.5 850.8,1079.2 851.3,1077.7 851.7,1077.5 852.2,1076.4 852.6,1077.2 853.1,1076.7 853.5,1075.6 854.0,1074.4 854.4,1072.7 854.8,1072.7 855.3,1069.7 855.7,1065.7 856.2,1062.7 856.6,1056.7 857.1,1052.1 857.5,1043.5 858.0,1031.4 858.4,1014.9 858.8,994.2 859.3,968.5 859.7,940.2 860.2,909.5 860.6,883.9 861.1,867.2 861.5,865.2 862.0,877.2 862.4,895.5 862.8,914.5 863.3,935.4 863.7,958.6 864.2,983.7 864.6,1006.9 865.1,1026.9 865.5,1041.1 866.0,1052.0 866.4,1059.3 866.8,1064.3 867.3,1067.7 867.7,1070.9 868.2,1072.5 868.6,1075.6 869.1,1075.9 869.5,1076.5 870.0,1078.3 870.4,1077.7 870.8,1078.5 871.3,1078.5 871.7,1079.0 872.2,1078.9 872.6,1079.5 873.1,1080.1 873.5,1078.9 874.0,1078.5 874.4,1080.3 874.8,1079.8 875.3,1080.2 875.7,1079.7 876.2,1080.6 876.6,1080.8 877.1,1079.4 877.5,1080.3 877.9,1079.7 878.4,1079.2 878.8,1079.8 879.3,1080.2 879.7,1079.3 880.2,1079.3 880.6,1080.5 881.1,1079.8 881.5,1080.0 881.9,1079.1 882.4,1079.2 882.8,1079.5 883.3,1079.3 883.7,1079.0 884.2,1079.4 884.6,1078.2 885.1,1076.8 885.5,1076.2 885.9,1075.4 886.4,1074.4 886.8,1071.3 887.3,1068.8 887.7,1065.7 888.2,1062.0 888.6,1059.1 889.1,1057.5 889.5,1057.5 889.9,1057.8 890.4,1058.6 890.8,1060.5 891.3,1061.4 891.7,1064.5 892.2,1066.3 892.6,1067.8 893.1,1068.1 893.5,1070.3 893.9,1067.5 894.4,1067.0 894.8,1064.5 895.3,1061.5 895.7,1055.0 896.2,1048.7 896.6,1040.0 897.1,1030.9 897.5,1023.7 897.9,1019.1 898.4,1017.6 898.8,1019.4 899.3,1022.4 899.7,1029.0 900.2,1033.8 900.6,1039.5 901.1,1047.5 901.5,1055.0 901.9,1060.2 902.4,1064.5 902.8,1069.9 903.3,1071.9 903.7,1073.9 904.2,1075.7 904.6,1075.3 905.1,1077.2 905.5,1077.8 905.9,1079.5 906.4,1078.5 906.8,1078.8 907.3,1078.6 907.7,1079.1 908.2,1079.5 908.6,1079.8 909.0,1079.7 909.5,1080.9 909.9,1080.2 910.4,1080.3 910.8,1080.7 911.3,1080.4 911.7,1079.9 912.2,1079.4 912.6,1080.4 913.0,1079.8 913.5,1080.9 913.9,1079.9 914.4,1079.2 914.8,1080.3 915.3,1080.8 915.7,1080.2 916.2,1080.4 916.6,1080.4 917.0,1081.2 917.5,1080.5 917.9,1080.3 918.4,1080.0 918.8,1079.6 919.3,1081.0 919.7,1080.9 920.2,1079.9 920.6,1080.7 921.0,1080.5 921.5,1080.2 921.9,1080.2 922.4,1080.7 922.8,1079.8 923.3,1080.1 923.7,1080.3 924.2,1080.4 924.6,1080.3 925.0,1080.5 925.5,1080.6 925.9,1080.0 926.4,1080.4 926.8,1080.1 927.3,1081.1 927.7,1079.7 928.2,1080.3 928.6,1080.7 929.0,1080.3 929.5,1080.2 929.9,1080.1 930.4,1080.6 930.8,1079.9 931.3,1080.4 931.7,1080.4 932.2,1079.7 932.6,1080.5 933.0,1080.2 933.5,1080.6 933.9,1080.8 934.4,1080.6 934.8,1079.9 935.3,1080.6 935.7,1079.7 936.2,1080.1 936.6,1081.2 937.0,1080.4 937.5,1081.2 937.9,1080.4 938.4,1080.4 938.8,1079.9 939.3,1080.9 939.7,1080.4 940.1,1080.7 940.6,1080.7 941.0,1080.7 941.5,1080.6 941.9,1080.4 942.4,1080.5 942.8,1080.1 943.3,1079.5 943.7,1080.7 944.1,1081.5 944.6,1081.0 945.0,1081.6 945.5,1080.7 945.9,1080.0 946.4,1080.0 946.8,1080.8 947.3,1080.6 947.7,1080.4 948.1,1080.8 948.6,1080.1 949.0,1080.7 949.5,1080.4 949.9,1080.6 950.4,1081.1 950.8,1080.4 951.3,1081.1 951.7,1081.1 952.1,1080.1 952.6,1081.6 953.0,1079.9 953.5,1080.5 953.9,1080.9 954.4,1079.4 954.8,1081.0 955.3,1081.0 955.7,1080.5 956.1,1080.6 956.6,1080.6 957.0,1080.4 957.5,1081.0 957.9,1080.3 958.4,1080.5 958.8,1080.7 959.3,1080.9 959.7,1081.0 960.1,1079.8 960.6,1079.6 961.0,1080.5 961.5,1080.5 961.9,1080.0 962.4,1080.7 962.8,1080.8 963.3,1080.7 963.7,1081.3 964.1,1080.1 964.6,1080.5 965.0,1081.4 965.5,1080.9 965.9,1080.0 966.4,1080.6 966.8,1081.1 967.3,1081.5 967.7,1080.8 968.1,1081.1 968.6,1080.0 969.0,1080.4 969.5,1081.1 969.9,1080.1 970.4,1080.5 970.8,1079.7 971.2,1081.2 971.7,1080.5 972.1,1080.8 972.6,1079.8 973.0,1079.9 973.5,1081.4 973.9,1080.4 974.4,1080.3 974.8,1080.8 975.2,1080.8 975.7,1079.6 976.1,1080.1 976.6,1080.6 977.0,1080.6 977.5,1080.7 977.9,1080.4 978.4,1080.4 978.8,1080.7 979.2,1080.2 979.7,1080.2 980.1,1080.3 980.6,1080.6 981.0,1080.5 981.5,1080.3 981.9,1080.4 982.4,1080.5 982.8,1080.7 983.2,1080.7 983.7,1080.0 984.1,1081.0 984.6,1079.8 985.0,1080.8 985.5,1080.2 985.9,1080.8 986.4,1081.1 986.8,1079.7 987.2,1080.8 987.7,1080.7 988.1,1080.4 988.6,1080.7 989.0,1080.3 989.5,1080.6 989.9,1080.1 990.4,1080.9 990.8,1080.8 991.2,1080.9 991.7,1080.3 992.1,1081.4 992.6,1081.5 993.0,1080.5 993.5,1080.4 993.9,1080.4 994.4,1080.9 994.8,1081.0 995.2,1080.2 995.7,1079.7 996.1,1080.8 996.6,1080.6 997.0,1080.7 997.5,1080.8 997.9,1080.1 998.4,1080.6 998.8,1080.5 999.2,1080.8 999.7,1081.1 1000.1,1080.6 1000.6,1080.2 1001.0,1081.1 1001.5,1080.9 1001.9,1080.5 1002.3,1079.8 1002.8,1080.2 1003.2,1080.6 1003.7,1080.8 1004.1,1080.3 1004.6,1080.8 1005.0,1080.3 1005.5,1080.4 1005.9,1080.8 1006.3,1080.5 1006.8,1080.6 1007.2,1081.0 1007.7,1081.1 1008.1,1080.3 1008.6,1080.5 1009.0,1080.0 1009.5,1080.0 1009.9,1080.7 1010.3,1080.3 1010.8,1079.7 1011.2,1080.8 1011.7,1080.2 1012.1,1080.4 1012.6,1080.7 1013.0,1080.7 1013.5,1080.5 1013.9,1079.6 1014.3,1080.8 1014.8,1080.2 1015.2,1079.9 1015.7,1079.5 1016.1,1081.1 1016.6,1080.5 1017.0,1080.5 1017.5,1080.7 1017.9,1080.4 1018.3,1079.7 1018.8,1080.6 1019.2,1080.8 1019.7,1080.5 1020.1,1080.9 1020.6,1081.0 1021.0,1079.7 1021.5,1079.8 1021.9,1080.2 1022.3,1079.8 1022.8,1079.6 1023.2,1079.7 1023.7,1079.3 1024.1,1078.4 1024.6,1078.2 1025.0,1077.2 1025.5,1076.6 1025.9,1075.1 1026.3,1073.2 1026.8,1071.9 1027.2,1069.1 1027.7,1066.0 1028.1,1061.0 1028.6,1053.0 1029.0,1042.7 1029.5,1027.5 1029.9,1006.7 1030.3,978.3 1030.8,940.0 1031.2,891.7 1031.7,835.0 1032.1,777.8 1032.6,728.5 1033.0,699.3 1033.4,695.6 1033.9,710.2 1034.3,735.1 1034.8,762.4 1035.2,789.3 1035.7,820.9 1036.1,857.7 1036.6,897.2 1037.0,937.2 1037.4,972.4 1037.9,1001.0 1038.3,1022.9 1038.8,1038.8 1039.2,1050.3 1039.7,1057.8 1040.1,1063.1 1040.6,1068.0 1041.0,1072.1 1041.4,1073.7 1041.9,1074.3 1042.3,1076.3 1042.8,1077.5 1043.2,1077.2 1043.7,1078.8 1044.1,1078.5 1044.6,1079.7 1045.0,1079.5 1045.4,1081.1 1045.9,1079.3 1046.3,1080.1 1046.8,1079.4 1047.2,1080.7 1047.7,1080.3 1048.1,1080.7 1048.6,1080.4 1049.0,1079.9 1049.4,1080.1 1049.9,1079.9 1050.3,1080.0 1050.8,1080.6 1051.2,1081.0 1051.7,1080.9 1052.1,1080.8 1052.6,1080.3 1053.0,1080.8 1053.4,1080.2 1053.9,1080.7 1054.3,1080.9 1054.8,1080.5 1055.2,1080.4 1055.7,1080.4 1056.1,1080.9 1056.6,1080.5 1057.0,1080.0 1057.4,1080.4 1057.9,1080.2 1058.3,1081.3 1058.8,1080.6 1059.2,1080.0 1059.7,1080.7 1060.1,1080.9 1060.6,1080.8 1061.0,1080.5 1061.4,1080.7 1061.9,1080.8 1062.3,1081.1 1062.8,1080.8 1063.2,1081.6 1063.7,1080.5 1064.1,1081.3 1064.5,1080.6 1065.0,1079.9 1065.4,1080.1 1065.9,1079.9 1066.3,1079.9 1066.8,1081.2 1067.2,1080.4 1067.7,1080.9 1068.1,1080.3 1068.5,1080.6 1069.0,1080.2 1069.4,1081.0 1069.9,1080.5 1070.3,1080.5 1070.8,1080.6 1071.2,1081.6 1071.7,1080.8 1072.1,1081.0 1072.5,1080.1 1073.0,1080.4 1073.4,1080.8 1073.9,1079.9 1074.3,1081.2 1074.8,1080.8 1075.2,1080.6 1075.7,1080.6 1076.1,1080.6 1076.5,1080.4 1077.0,1081.2 1077.4,1080.9 1077.9,1081.2 1078.3,1080.5 1078.8,1080.3 1079.2,1081.2 1079.7,1080.1 1080.1,1080.4 1080.5,1081.0 1081.0,1081.1 1081.4,1080.1 1081.9,1080.5 1082.3,1080.7 1082.8,1080.6 1083.2,1080.3 1083.7,1080.9 1084.1,1080.4 1084.5,1080.6 1085.0,1079.7 1085.4,1080.6 1085.9,1079.8 1086.3,1081.0 1086.8,1080.9 1087.2,1080.4 1087.7,1080.7 1088.1,1080.7 1088.5,1080.6 1089.0,1080.8 1089.4,1080.6 1089.9,1080.5 1090.3,1080.3 1090.8,1081.4 1091.2,1080.7 1091.7,1080.7 1092.1,1081.0 1092.5,1080.5 1093.0,1080.5 1093.4,1080.9 1093.9,1081.1 1094.3,1080.9 1094.8,1080.0 1095.2,1080.7 1095.6,1080.7 1096.1,1080.9 1096.5,1080.3 1097.0,1080.2 1097.4,1080.6 1097.9,1080.3 1098.3,1080.2 1098.8,1080.6 1099.2,1081.1 1099.6,1080.7 1100.1,1081.1 1100.5,1080.3 1101.0,1081.0 1101.4,1080.7 1101.9,1080.3 1102.3,1080.5 1102.8,1080.3 1103.2,1080.6 1103.6,1080.4 1104.1,1081.2 1104.5,1080.5 1105.0,1080.1 1105.4,1080.6 1105.9,1080.8 1106.3,1080.5 1106.8,1081.0 1107.2,1080.3 1107.6,1080.3 1108.1,1081.3 1108.5,1080.7 1109.0,1080.9 1109.4,1080.9 1109.9,1080.9 1110.3,1080.7 1110.8,1080.6 1111.2,1081.1 1111.6,1080.4 1112.1,1080.7 1112.5,1080.9 1113.0,1080.4 1113.4,1080.0 1113.9,1080.8 1114.3,1081.0 1114.8,1080.6 1115.2,1079.8 1115.6,1080.7 1116.1,1081.2 1116.5,1079.8 1117.0,1079.2 1117.4,1080.1 1117.9,1080.2 1118.3,1080.3 1118.8,1080.2 1119.2,1079.6 1119.6,1079.5 1120.1,1079.1 1120.5,1078.4 1121.0,1077.7 1121.4,1076.7 1121.9,1075.7 1122.3,1073.8 1122.8,1071.1 1123.2,1068.6 1123.6,1063.7 1124.1,1058.7 1124.5,1052.7 1125.0,1045.2 1125.4,1039.3 1125.9,1034.5 1126.3,1031.3 1126.7,1029.7 1127.2,1031.2 1127.6,1033.7 1128.1,1037.1 1128.5,1040.4 1129.0,1043.3 1129.4,1048.0 1129.9,1052.3 1130.3,1057.0 1130.7,1061.4 1131.2,1065.7 1131.6,1068.6 1132.1,1072.1 1132.5,1074.3 1133.0,1075.8 1133.4,1076.5 1133.9,1078.4 1134.3,1079.0 1134.7,1078.3 1135.2,1079.6 1135.6,1079.8 1136.1,1078.9 1136.5,1080.3 1137.0,1080.5 1137.4,1080.6 1137.9,1080.4 1138.3,1080.2 1138.7,1080.3 1139.2,1080.7 1139.6,1081.0 1140.1,1080.4 1140.5,1080.5 1141.0,1080.9 1141.4,1079.8 1141.9,1080.8 1142.3,1080.6 1142.7,1079.8 1143.2,1081.0 1143.6,1080.3 1144.1,1081.0 1144.5,1081.2 1145.0,1080.2 1145.4,1080.2 1145.9,1080.7 1146.3,1080.0 1146.7,1081.0 1147.2,1080.8 1147.6,1081.1 1148.1,1080.0 1148.5,1080.8 1149.0,1080.9 1149.4,1080.0 1149.9,1081.1 1150.3,1080.2 1150.7,1080.8 1151.2,1080.2 1151.6,1081.0 1152.1,1081.4 1152.5,1080.7 1153.0,1080.7 1153.4,1081.2 1153.9,1080.5 1154.3,1080.7 1154.7,1081.0 1155.2,1080.9 1155.6,1081.3 1156.1,1081.2 1156.5,1081.5 1157.0,1080.7 1157.4,1081.2 1157.8,1080.4 1158.3,1081.1 1158.7,1081.4 1159.2,1081.7 1159.6,1080.3 1160.1,1080.7 1160.5,1081.0 1161.0,1080.4 1161.4,1081.0 1161.8,1081.0 1162.3,1080.6 1162.7,1080.5 1163.2,1080.4 1163.6,1080.9 1164.1,1081.3 1164.5,1080.9 1165.0,1081.8 1165.4,1080.2 1165.8,1080.5 1166.3,1081.0 1166.7,1080.3 1167.2,1080.9 1167.6,1081.1 1168.1,1080.8 1168.5,1080.7 1169.0,1081.1 1169.4,1080.9 1169.8,1081.0 1170.3,1081.0 1170.7,1080.5 1171.2,1080.3 1171.6,1080.6 1172.1,1080.8 1172.5,1080.7 1173.0,1081.1 1173.4,1080.9 1173.8,1081.1 1174.3,1080.8 1174.7,1080.5 1175.2,1081.1 1175.6,1081.0 1176.1,1080.4 1176.5,1080.6 1177.0,1081.8 1177.4,1079.4 1177.8,1081.2 1178.3,1080.8 1178.7,1080.7 1179.2,1080.6 1179.6,1080.6 1180.1,1081.7 1180.5,1080.6 1181.0,1080.6 1181.4,1081.1 1181.8,1080.9 1182.3,1080.7 1182.7,1080.6 1183.2,1080.2 1183.6,1081.2 1184.1,1080.3 1184.5,1079.8 1185.0,1081.2 1185.4,1081.0 1185.8,1080.9 1186.3,1080.5 1186.7,1081.2 1187.2,1080.3 1187.6,1079.9 1188.1,1080.8 1188.5,1081.1 1188.9,1081.0 1189.4,1081.6 1189.8,1081.1 1190.3,1080.7 1190.7,1080.7 1191.2,1081.1 1191.6,1080.7 1192.1,1080.7 1192.5,1080.1 1192.9,1080.6 1193.4,1080.2 1193.8,1080.8 1194.3,1080.8 1194.7,1081.0 1195.2,1081.4 1195.6,1080.7 1196.1,1081.3 1196.5,1080.3 1196.9,1080.8 1197.4,1081.1 1197.8,1081.5 1198.3,1080.3 1198.7,1080.7 1199.2,1080.8 1199.6,1080.7 1200.1,1080.4 1200.5,1080.1 1200.9,1080.3 1201.4,1080.7 1201.8,1080.2 1202.3,1081.4 1202.7,1081.2 1203.2,1080.0 1203.6,1080.6 1204.1,1081.3 1204.5,1081.3 1204.9,1081.2 1205.4,1080.2 1205.8,1080.6 1206.3,1081.3 1206.7,1080.8 1207.2,1080.6 1207.6,1081.0 1208.1,1081.1 1208.5,1080.8 1208.9,1080.9 1209.4,1081.2 1209.8,1080.5 1210.3,1080.4 1210.7,1081.1 1211.2,1080.3 1211.6,1081.0 1212.1,1080.5 1212.5,1081.1 1212.9,1080.3 1213.4,1081.2 1213.8,1080.9 1214.3,1080.6 1214.7,1080.4 1215.2,1080.7 1215.6,1080.4 1216.1,1080.3 1216.5,1081.2 1216.9,1081.0 1217.4,1081.2 1217.8,1080.2 1218.3,1080.0 1218.7,1080.2 1219.2,1081.0 1219.6,1081.1 1220.0,1080.1 1220.5,1081.2 1220.9,1080.6 1221.4,1080.3 1221.8,1080.7 1222.3,1081.0 1222.7,1080.7 1223.2,1080.7 1223.6,1080.4 1224.0,1080.2 1224.5,1080.6 1224.9,1080.1 1225.4,1081.0 1225.8,1080.4 1226.3,1081.3 1226.7,1080.2 1227.2,1081.3 1227.6,1080.4 1228.0,1080.4 1228.5,1080.9 1228.9,1081.1 1229.4,1080.7 1229.8,1080.6 1230.3,1081.5 1230.7,1081.0 1231.2,1080.3 1231.6,1080.7 1232.0,1081.4 1232.5,1080.9 1232.9,1081.1 1233.4,1081.5 1233.8,1080.5 1234.3,1080.9 1234.7,1080.5 1235.2,1080.8 1235.6,1081.0 1236.0,1080.3 1236.5,1080.8 1236.9,1080.8 1237.4,1081.2 1237.8,1080.5 1238.3,1080.3 1238.7,1080.9 1239.2,1080.3 1239.6,1080.8 1240.0,1081.0 1240.5,1080.4 1240.9,1080.7 1241.4,1080.4 1241.8,1079.7 1242.3,1080.2 1242.7,1080.0 1243.2,1080.8 1243.6,1080.4 1244.0,1080.7 1244.5,1080.8 1244.9,1081.2 1245.4,1080.6 1245.8,1080.6 1246.3,1081.0 1246.7,1081.4 1247.2,1080.7 1247.6,1080.9 1248.0,1080.7 1248.5,1080.5 1248.9,1080.2 1249.4,1080.7 1249.8,1080.7 1250.3,1080.7 1250.7,1081.5 1251.1,1080.7 1251.6,1080.9 1252.0,1080.6 1252.5,1081.2 1252.9,1080.7 1253.4,1081.5 1253.8,1080.7 1254.3,1081.1 1254.7,1081.2 1255.1,1080.7 1255.6,1081.1 1256.0,1080.8 1256.5,1080.5 1256.9,1080.5 1257.4,1080.9 1257.8,1081.5 1258.3,1080.6 1258.7,1081.0 1259.1,1080.5 1259.6,1080.9 1260.0,1080.3 1260.5,1080.5 1260.9,1080.8 1261.4,1080.5 1261.8,1080.7 1262.3,1081.2 1262.7,1080.7 1263.1,1080.5 1263.6,1080.3 1264.0,1080.6 1264.5,1081.2 1264.9,1080.8 1265.4,1080.7 1265.8,1081.1 1266.3,1081.1 1266.7,1081.2 1267.1,1080.7 1267.6,1080.5 1268.0,1080.2 1268.5,1080.5 1268.9,1080.7 1269.4,1081.1 1269.8,1080.9 1270.3,1080.6 1270.7,1081.1 1271.1,1080.3 1271.6,1080.4 1272.0,1080.4 1272.5,1080.4 1272.9,1080.7 1273.4,1080.5 1273.8,1080.5 1274.3,1081.3 1274.7,1080.3 1275.1,1080.4 1275.6,1080.7 1276.0,1081.0 1276.5,1081.0 1276.9,1080.7 1277.4,1080.7 1277.8,1080.7 1278.3,1081.1 1278.7,1080.5 1279.1,1079.9 1279.6,1080.9 1280.0,1080.4 1280.5,1080.8 1280.9,1081.3 1281.4,1080.8 1281.8,1081.5 1282.2,1080.2 1282.7,1080.9 1283.1,1080.9 1283.6,1081.1 1284.0,1080.5 1284.5,1080.9 1284.9,1080.8 1285.4,1080.8 1285.8,1080.3 1286.2,1080.2 1286.7,1081.0 1287.1,1080.9 1287.6,1080.8 1288.0,1081.0 1288.5,1081.2 1288.9,1080.4 1289.4,1081.1 1289.8,1081.4 1290.2,1081.2 1290.7,1081.0 1291.1,1081.1 1291.6,1080.3 1292.0,1080.6 1292.5,1081.2 1292.9,1081.4 1293.4,1081.0 1293.8,1080.7 1294.2,1080.8 1294.7,1081.1 1295.1,1081.6 1295.6,1081.1 1296.0,1080.6 1296.5,1081.1 1296.9,1081.0 1297.4,1081.7 1297.8,1081.0 1298.2,1080.8 1298.7,1080.8 1299.1,1080.4 1299.6,1080.5 1300.0,1080.7 1300.5,1080.5 1300.9,1080.9 1301.4,1080.9 1301.8,1081.2 1302.2,1081.4 1302.7,1080.9 1303.1,1080.8 1303.6,1080.2 1304.0,1081.0 1304.5,1081.1 1304.9,1080.6 1305.4,1080.7 1305.8,1080.6 1306.2,1081.2 1306.7,1081.1 1307.1,1081.3 1307.6,1080.4 1308.0,1081.8 1308.5,1080.5 1308.9,1080.5 1309.4,1080.9 1309.8,1080.6 1310.2,1081.5 1310.7,1080.7 1311.1,1080.6 1311.6,1081.2 1312.0,1081.3 1312.5,1080.5 1312.9,1080.7 1313.3,1080.7 1313.8,1080.8 1314.2,1081.4 1314.7,1081.3 1315.1,1081.2 1315.6,1081.3 1316.0,1080.8 1316.5,1081.1 1316.9,1080.8 1317.3,1080.6 1317.8,1081.4 1318.2,1080.2 1318.7,1080.8 1319.1,1080.6 1319.6,1080.2 1320.0,1080.7 1320.5,1080.8 1320.9,1081.0 1321.3,1080.5 1321.8,1081.1 1322.2,1080.9 1322.7,1081.1 1323.1,1080.1 1323.6,1080.6 1324.0,1080.6 1324.5,1081.0 1324.9,1080.5 1325.3,1080.6 1325.8,1080.4 1326.2,1080.4 1326.7,1080.5 1327.1,1081.1 1327.6,1080.4 1328.0,1079.9 1328.5,1080.9 1328.9,1080.6 1329.3,1080.9 1329.8,1080.9 1330.2,1080.6 1330.7,1080.5 1331.1,1080.5 1331.6,1080.6 1332.0,1080.3 1332.5,1080.6 1332.9,1081.0 1333.3,1080.2 1333.8,1080.2 1334.2,1080.1 1334.7,1080.4 1335.1,1080.3 1335.6,1080.5 1336.0,1080.0 1336.5,1079.6 1336.9,1079.5 1337.3,1078.5 1337.8,1078.7 1338.2,1078.1 1338.7,1078.1 1339.1,1077.1 1339.6,1075.4 1340.0,1074.5 1340.5,1073.9 1340.9,1071.8 1341.3,1071.2 1341.8,1070.8 1342.2,1070.3 1342.7,1070.0 1343.1,1070.6 1343.6,1070.5 1344.0,1070.8 1344.4,1070.4 1344.9,1069.2 1345.3,1067.8 1345.8,1065.1 1346.2,1061.8 1346.7,1056.7 1347.1,1052.8 1347.6,1047.5 1348.0,1042.8 1348.4,1039.3 1348.9,1037.0 1349.3,1037.2 1349.8,1038.7 1350.2,1040.9 1350.7,1043.5 1351.1,1045.8 1351.6,1047.9 1352.0,1049.6 1352.4,1052.2 1352.9,1055.6 1353.3,1058.7 1353.8,1061.7 1354.2,1065.4 1354.7,1068.8 1355.1,1071.1 1355.6,1073.9 1356.0,1074.8 1356.4,1076.7 1356.9,1077.7 1357.3,1078.3 1357.8,1078.9 1358.2,1079.4 1358.7,1078.8 1359.1,1080.0 1359.6,1080.4 1360.0,1080.3 1360.4,1080.7 1360.9,1080.0 1361.3,1080.5 1361.8,1080.7 1362.2,1080.5 1362.7,1081.1 1363.1,1080.9 1363.6,1080.5 1364.0,1081.0 1364.4,1081.0 1364.9,1080.6 1365.3,1081.0 1365.8,1080.9 1366.2,1080.9 1366.7,1080.4 1367.1,1081.3 1367.6,1081.0 1368.0,1080.8 1368.4,1081.0 1368.9,1081.0 1369.3,1080.7 1369.8,1080.6 1370.2,1080.9 1370.7,1080.6 1371.1,1080.7 1371.6,1080.5 1372.0,1080.8 1372.4,1081.2 1372.9,1080.9 1373.3,1080.9 1373.8,1080.8 1374.2,1080.7 1374.7,1080.4 1375.1,1081.4 1375.5,1080.6 1376.0,1080.4 1376.4,1081.0 1376.9,1081.0 1377.3,1080.7 1377.8,1080.4 1378.2,1080.4 1378.7,1081.4 1379.1,1080.8 1379.5,1080.7 1380.0,1081.5 1380.4,1080.7 1380.9,1080.6 1381.3,1081.1 1381.8,1081.0 1382.2,1081.4 1382.7,1080.4 1383.1,1081.0 1383.5,1080.3 1384.0,1081.0 1384.4,1080.7 1384.9,1080.7 1385.3,1080.6 1385.8,1081.2 1386.2,1081.4 1386.7,1080.8 1387.1,1080.8 1387.5,1080.7 1388.0,1081.1 1388.4,1080.5 1388.9,1082.1 1389.3,1080.8 1389.8,1081.5 1390.2,1080.9 1390.7,1080.4 1391.1,1080.4 1391.5,1080.7 1392.0,1080.6 1392.4,1080.8 1392.9,1080.5 1393.3,1081.7 1393.8,1081.6 1394.2,1080.3 1394.7,1081.0 1395.1,1081.3 1395.5,1080.8 1396.0,1080.8 1396.4,1081.2 1396.9,1081.1 1397.3,1080.5 1397.8,1081.3 1398.2,1080.7 1398.7,1081.5 1399.1,1080.6 1399.5,1080.1 1400.0,1080.9 1400.4,1081.3 1400.9,1081.1 1401.3,1080.9 1401.8,1080.6 1402.2,1081.2 1402.7,1080.3 1403.1,1081.1 1403.5,1080.5 1404.0,1080.7 1404.4,1080.4 1404.9,1080.6 1405.3,1081.4 1405.8,1080.5 1406.2,1080.9 1406.6,1080.6 1407.1,1081.2 1407.5,1080.4 1408.0,1080.9 1408.4,1081.2 1408.9,1081.6 1409.3,1080.5 1409.8,1080.6 1410.2,1080.9 1410.6,1081.4 1411.1,1080.5 1411.5,1081.1 1412.0,1080.7 1412.4,1080.5 1412.9,1080.4 1413.3,1080.9 1413.8,1081.2 1414.2,1080.8 1414.6,1080.2 1415.1,1080.7 1415.5,1081.2 1416.0,1081.2 1416.4,1081.0 1416.9,1081.4 1417.3,1080.5 1417.8,1080.5 1418.2,1081.7 1418.6,1081.1 1419.1,1080.8 1419.5,1080.7 1420.0,1080.0 1420.4,1081.2 1420.9,1080.2 1421.3,1080.2 1421.8,1080.9 1422.2,1081.4 1422.6,1080.7 1423.1,1081.0 1423.5,1080.7 1424.0,1081.0 1424.4,1080.3 1424.9,1081.6 1425.3,1080.6 1425.8,1081.1 1426.2,1080.2 1426.6,1081.5 1427.1,1081.0 1427.5,1081.5 1428.0,1080.7 1428.4,1081.2 1428.9,1080.8 1429.3,1080.9 1429.8,1081.3 1430.2,1080.6 1430.6,1081.1 1431.1,1081.5 1431.5,1081.5 1432.0,1081.2 1432.4,1081.0 1432.9,1080.6 1433.3,1081.4 1433.8,1080.7 1434.2,1081.3 1434.6,1080.8 1435.1,1080.9 1435.5,1080.9 1436.0,1081.1 1436.4,1080.8 1436.9,1081.0 1437.3,1080.7 1437.7,1081.1 1438.2,1081.0 1438.6,1081.0 1439.1,1080.6 1439.5,1081.0 1440.0,1080.9 1440.4,1081.1 1440.9,1080.9 1441.3,1080.6 1441.7,1081.1 1442.2,1080.7 1442.6,1081.0 1443.1,1080.2 1443.5,1081.1 1444.0,1081.1 1444.4,1080.6 1444.9,1081.1 1445.3,1080.8 1445.7,1081.3 1446.2,1081.1 1446.6,1080.5 1447.1,1080.8 1447.5,1080.3 1448.0,1080.8 1448.4,1081.1 1448.9,1081.2 1449.3,1080.9 1449.7,1080.8 1450.2,1081.0 1450.6,1080.7 1451.1,1081.0 1451.5,1081.3 1452.0,1081.0 1452.4,1081.2 1452.9,1080.7 1453.3,1080.7 1453.7,1081.0 1454.2,1081.5 1454.6,1081.2 1455.1,1081.4 1455.5,1080.9 1456.0,1081.3 1456.4,1080.4 1456.9,1081.1 1457.3,1080.2 1457.7,1081.3 1458.2,1081.0 1458.6,1081.3 1459.1,1081.0 1459.5,1080.7 1460.0,1080.6 1460.4,1080.9 1460.9,1081.3 1461.3,1081.0 1461.7,1080.7 1462.2,1080.6 1462.6,1080.6 1463.1,1080.7 1463.5,1080.7 1464.0,1080.6 1464.4,1080.7 1464.9,1080.2 1465.3,1081.1 1465.7,1080.6 1466.2,1080.9 1466.6,1080.4 1467.1,1080.2 1467.5,1080.1 1468.0,1080.0 1468.4,1079.4 1468.8,1079.2 1469.3,1079.5 1469.7,1078.7 1470.2,1077.5 1470.6,1076.9 1471.1,1075.3 1471.5,1074.4 1472.0,1071.5 1472.4,1069.3 1472.8,1065.4 1473.3,1060.6 1473.7,1054.4 1474.2,1047.5 1474.6,1039.2 1475.1,1030.7 1475.5,1023.3 1476.0,1018.0 1476.4,1013.9 1476.8,1014.3 1477.3,1016.6 1477.7,1020.5 1478.2,1025.5 1478.6,1029.0 1479.1,1032.0 1479.5,1033.8 1480.0,1035.8 1480.4,1038.1 1480.8,1041.7 1481.3,1046.6 1481.7,1050.2 1482.2,1055.7 1482.6,1060.2 1483.1,1063.3 1483.5,1065.8 1484.0,1066.9 1484.4,1067.8 1484.8,1067.3 1485.3,1065.5 1485.7,1063.3 1486.2,1058.7 1486.6,1052.6 1487.1,1046.2 1487.5,1037.4 1488.0,1027.1 1488.4,1016.7 1488.8,1006.9 1489.3,999.1 1489.7,996.2 1490.2,995.9 1490.6,1000.2 1491.1,1004.8 1491.5,1010.7 1492.0,1015.1 1492.4,1019.5 1492.8,1021.6 1493.3,1024.6 1493.7,1028.0 1494.2,1032.4 1494.6,1037.5 1495.1,1043.9 1495.5,1050.8 1496.0,1057.0 1496.4,1062.3 1496.8,1066.1 1497.3,1069.5 1497.7,1072.7 1498.2,1074.0 1498.6,1076.0 1499.1,1076.8 1499.5,1077.4 1499.9,1078.1 1500.4,1079.1 1500.8,1079.5 1501.3,1079.8 1501.7,1079.8 1502.2,1080.0 1502.6,1080.4 1503.1,1080.3 1503.5,1080.0 1503.9,1080.4 1504.4,1081.1 1504.8,1080.5 1505.3,1080.9 1505.7,1080.7 1506.2,1081.0 1506.6,1080.6 1507.1,1080.5 1507.5,1081.0 1507.9,1080.7 1508.4,1080.9 1508.8,1080.8 1509.3,1081.2 1509.7,1081.0 1510.2,1081.0 1510.6,1080.6 1511.1,1080.5 1511.5,1080.7 1511.9,1081.2 1512.4,1081.1 1512.8,1081.1 1513.3,1080.8 1513.7,1080.6 1514.2,1081.3 1514.6,1081.0 1515.1,1081.1 1515.5,1080.7 1515.9,1080.8 1516.4,1081.2 1516.8,1081.2 1517.3,1080.7 1517.7,1081.1 1518.2,1080.6 1518.6,1081.3 1519.1,1081.2 1519.5,1081.7 1519.9,1081.4 1520.4,1080.8 1520.8,1081.0 1521.3,1080.8 1521.7,1081.0 1522.2,1081.2 1522.6,1081.0 1523.1,1081.0 1523.5,1080.6 1523.9,1081.1 1524.4,1081.0 1524.8,1081.2 1525.3,1081.3 1525.7,1081.0 1526.2,1081.2 1526.6,1080.8 1527.1,1081.3 1527.5,1081.0 1527.9,1080.8 1528.4,1080.9 1528.8,1080.6 1529.3,1080.8 1529.7,1080.9 1530.2,1081.0 1530.6,1081.0 1531.0,1080.8 1531.5,1080.9 1531.9,1080.3 1532.4,1081.0 1532.8,1081.1 1533.3,1081.2 1533.7,1081.3 1534.2,1080.9 1534.6,1081.0 1535.0,1080.8 1535.5,1080.8 1535.9,1081.0 1536.4,1081.4 1536.8,1080.5 1537.3,1080.8 1537.7,1081.1 1538.2,1080.7 1538.6,1081.1 1539.0,1080.6 1539.5,1080.9 1539.9,1080.5 1540.4,1081.1 1540.8,1080.7 1541.3,1081.2 1541.7,1080.9 1542.2,1080.7 1542.6,1080.8 1543.0,1081.0 1543.5,1081.0 1543.9,1080.9 1544.4,1080.9 1544.8,1081.0 1545.3,1081.2 1545.7,1080.8 1546.2,1081.1 1546.6,1080.6 1547.0,1081.2 1547.5,1081.0 1547.9,1080.8 1548.4,1080.8 1548.8,1080.4 1549.3,1080.9 1549.7,1080.8 1550.2,1080.5 1550.6,1080.7 1551.0,1081.0 1551.5,1080.9 1551.9,1080.9 1552.4,1080.6 1552.8,1080.9 1553.3,1080.6 1553.7,1080.8 1554.2,1081.1 1554.6,1079.8 1555.0,1080.1 1555.5,1080.1 1555.9,1079.6 1556.4,1079.9 1556.8,1079.1 1557.3,1079.2 1557.7,1078.3 1558.2,1077.3 1558.6,1076.1 1559.0,1074.9 1559.5,1073.0 1559.9,1070.9 1560.4,1067.5 1560.8,1064.0 1561.3,1059.4 1561.7,1054.5 1562.1,1048.9 1562.6,1044.8 1563.0,1041.5 1563.5,1039.3 1563.9,1039.2 1564.4,1041.1 1564.8,1043.9 1565.3,1046.0 1565.7,1049.1 1566.1,1051.1 1566.6,1052.1 1567.0,1053.3 1567.5,1054.5 1567.9,1055.8 1568.4,1058.4 1568.8,1061.1 1569.3,1063.6 1569.7,1067.1 1570.1,1069.9 1570.6,1071.7 1571.0,1074.2 1571.5,1075.5 1571.9,1076.4 1572.4,1077.4 1572.8,1078.2 1573.3,1079.2 1573.7,1079.3 1574.1,1079.6 1574.6,1079.6 1575.0,1080.2 1575.5,1080.0 1575.9,1080.3 1576.4,1080.8 1576.8,1080.9 1577.3,1080.6 1577.7,1080.8 1578.1,1081.0 1578.6,1080.8 1579.0,1081.2 1579.5,1081.3 1579.9,1080.9 1580.4,1080.6 1580.8,1080.9 1581.3,1081.3 1581.7,1081.3 1582.1,1081.3 1582.6,1081.3 1583.0,1080.8 1583.5,1081.1 1583.9,1081.3 1584.4,1081.1 1584.8,1081.3 1585.3,1080.7 1585.7,1080.6 1586.1,1081.6 1586.6,1081.2 1587.0,1081.2 1587.5,1081.5 1587.9,1081.7 1588.4,1081.9 1588.8,1080.3 1589.3,1081.1 1589.7,1081.3 1590.1,1080.5 1590.6,1080.5 1591.0,1081.0 1591.5,1081.6 1591.9,1081.3 1592.4,1081.7 1592.8,1081.1 1593.2,1081.4 1593.7,1081.5 1594.1,1081.2 1594.6,1081.0 1595.0,1081.1 1595.5,1079.9 1595.9,1081.1 1596.4,1080.5 1596.8,1080.8 1597.2,1081.2 1597.7,1081.2 1598.1,1080.4 1598.6,1081.2 1599.0,1081.3 1599.5,1081.1 1599.9,1081.2 1600.4,1081.2 1600.8,1080.5 1601.2,1081.0 1601.7,1080.9 1602.1,1080.7 1602.6,1081.0 1603.0,1080.8 1603.5,1081.0 1603.9,1080.8 1604.4,1081.3 1604.8,1081.7 1605.2,1080.9 1605.7,1081.0 1606.1,1081.1 1606.6,1081.2 1607.0,1081.0 1607.5,1080.4 1607.9,1081.1 1608.4,1081.0 1608.8,1080.7 1609.2,1081.0 1609.7,1080.9 1610.1,1081.1 1610.6,1080.9 1611.0,1081.0 1611.5,1081.1 1611.9,1081.1 1612.4,1081.0 1612.8,1081.4 1613.2,1081.1 1613.7,1080.8 1614.1,1081.6 1614.6,1081.1 1615.0,1081.5 1615.5,1080.7 1615.9,1081.2 1616.4,1081.6 1616.8,1081.4 1617.2,1081.1 1617.7,1080.9 1618.1,1080.9 1618.6,1081.0 1619.0,1080.7 1619.5,1080.8 1619.9,1080.7 1620.4,1080.7 1620.8,1081.1 1621.2,1080.5 1621.7,1081.1 1622.1,1081.2 1622.6,1080.8 1623.0,1080.8 1623.5,1081.1 1623.9,1081.0 1624.3,1081.3 1624.8,1080.4 1625.2,1081.0 1625.7,1081.5 1626.1,1081.1 1626.6,1081.6 1627.0,1081.7 1627.5,1080.9 1627.9,1081.5 1628.3,1081.2 1628.8,1081.0 1629.2,1081.0 1629.7,1081.0 1630.1,1080.8 1630.6,1081.0 1631.0,1081.3 1631.5,1081.4 1631.9,1080.9 1632.3,1081.2 1632.8,1081.2 1633.2,1080.3 1633.7,1081.3 1634.1,1080.7 1634.6,1080.7 1635.0,1081.3 1635.5,1081.6 1635.9,1080.7 1636.3,1080.8 1636.8,1080.8 1637.2,1080.9 1637.7,1080.9 1638.1,1080.8 1638.6,1080.6 1639.0,1081.6 1639.5,1080.9 1639.9,1080.8 1640.3,1081.3 1640.8,1080.9 1641.2,1081.4 1641.7,1081.3 1642.1,1081.4 1642.6,1080.9 1643.0,1081.2 1643.5,1080.6 1643.9,1080.6 1644.3,1081.1 1644.8,1081.0 1645.2,1081.5 1645.7,1081.0 1646.1,1080.5 1646.6,1081.1 1647.0,1081.0 1647.5,1081.1 1647.9,1080.7 1648.3,1080.8 1648.8,1081.1 1649.2,1081.3 1649.7,1081.2 1650.1,1081.3 1650.6,1080.6 1651.0,1081.0 1651.5,1081.1 1651.9,1081.4 1652.3,1081.1 1652.8,1081.0 1653.2,1081.0 1653.7,1081.0 1654.1,1080.6 1654.6,1081.1 1655.0,1081.3 1655.4,1081.3 1655.9,1080.5 1656.3,1081.1 1656.8,1080.6 1657.2,1081.4 1657.7,1081.2 1658.1,1081.3 1658.6,1080.9 1659.0,1080.5 1659.4,1080.8 1659.9,1081.0 1660.3,1080.6 1660.8,1080.8 1661.2,1081.6 1661.7,1080.7 1662.1,1081.2 1662.6,1080.5 1663.0,1081.2 1663.4,1081.3 1663.9,1081.2 1664.3,1081.4 1664.8,1081.6 1665.2,1080.7 1665.7,1081.2 1666.1,1081.2 1666.6,1081.2 1667.0,1081.6 1667.4,1081.2 1667.9,1081.4 1668.3,1081.4 1668.8,1081.1 1669.2,1081.3 1669.7,1080.9 1670.1,1081.2 1670.6,1081.1 1671.0,1081.0 1671.4,1081.0 1671.9,1081.4 1672.3,1081.1 1672.8,1081.8 1673.2,1081.5 1673.7,1081.3 1674.1,1080.9 1674.6,1081.4 1675.0,1081.1 1675.4,1081.1 1675.9,1080.8 1676.3,1081.3 1676.8,1081.2 1677.2,1081.0 1677.7,1080.9 1678.1,1081.0 1678.6,1080.7 1679.0,1080.9 1679.4,1081.5 1679.9,1080.9 1680.3,1081.8 1680.8,1080.7 1681.2,1081.4 1681.7,1081.4 1682.1,1081.5 1682.6,1081.3 1683.0,1080.6 1683.4,1081.5 1683.9,1081.4 1684.3,1081.1 1684.8,1080.4 1685.2,1081.4 1685.7,1080.8 1686.1,1081.0 1686.5,1081.5 1687.0,1081.5 1687.4,1081.2 1687.9,1080.9 1688.3,1081.6 1688.8,1081.5 1689.2,1081.1 1689.7,1080.8 1690.1,1081.2 1690.5,1080.7 1691.0,1081.6 1691.4,1081.3 1691.9,1081.0 1692.3,1081.2 1692.8,1080.6 1693.2,1081.1 1693.7,1080.9 1694.1,1080.6 1694.5,1080.9 1695.0,1081.2 1695.4,1080.7 1695.9,1081.1 1696.3,1080.7 1696.8,1081.2 1697.2,1080.6 1697.7,1081.3 1698.1,1081.3 1698.5,1081.4 1699.0,1081.7 1699.4,1081.2 1699.9,1081.1 1700.3,1081.3 1700.8,1081.0 1701.2,1080.5 1701.7,1080.7 1702.1,1080.7 1702.5,1081.2 1703.0,1080.9 1703.4,1081.0 1703.9,1081.3 1704.3,1081.2 1704.8,1081.7 1705.2,1081.1 1705.7,1080.8 1706.1,1081.5 1706.5,1081.0 1707.0,1081.1 1707.4,1081.4 1707.9,1081.2 1708.3,1081.3 1708.8,1080.9 1709.2,1081.0 1709.7,1081.3 1710.1,1081.0 1710.5,1081.0 1711.0,1081.1 1711.4,1081.6 1711.9,1081.6 1712.3,1081.2 1712.8,1081.1 1713.2,1080.9 1713.7,1081.5 1714.1,1081.3 1714.5,1081.4 1715.0,1080.7 1715.4,1081.4 1715.9,1081.2 1716.3,1081.4 1716.8,1081.4 1717.2,1081.1 1717.6,1081.0 1718.1,1081.3 1718.5,1080.8 1719.0,1081.6 1719.4,1081.2 1719.9,1080.8 1720.3,1081.5 1720.8,1081.4 1721.2,1081.6 1721.6,1081.4 1722.1,1081.3 1722.5,1081.1 1723.0,1080.8 1723.4,1081.4 1723.9,1081.3 1724.3,1081.0 1724.8,1081.3 1725.2,1080.9 1725.6,1081.5 1726.1,1081.2 1726.5,1081.2 1727.0,1080.9 1727.4,1081.4 1727.9,1081.2 1728.3,1081.0 1728.8,1081.3 1729.2,1081.1 1729.6,1081.5 1730.1,1080.7 1730.5,1080.8 1731.0,1081.7 1731.4,1081.0 1731.9,1081.3 1732.3,1081.0 1732.8,1081.2 1733.2,1081.9 1733.6,1080.5 1734.1,1081.3 1734.5,1081.1 1735.0,1081.1 1735.4,1080.9 1735.9,1080.8 1736.3,1081.5 1736.8,1081.2 1737.2,1080.7 1737.6,1081.1 1738.1,1080.7 1738.5,1081.9 1739.0,1081.2 1739.4,1080.5 1739.9,1081.3 1740.3,1081.2 1740.8,1081.1 1741.2,1081.1 1741.6,1080.8 1742.1,1080.9 1742.5,1080.4 1743.0,1081.3 1743.4,1081.5 1743.9,1081.0 1744.3,1081.1 1744.8,1080.4 1745.2,1080.7 1745.6,1080.3 1746.1,1080.3 1746.5,1080.8 1747.0,1081.0 1747.4,1080.5 1747.9,1081.2 1748.3,1080.6 1748.7,1079.6 1749.2,1080.1 1749.6,1080.5 1750.1,1080.0 1750.5,1080.1 1751.0,1079.1 1751.4,1079.8 1751.9,1078.8 1752.3,1079.0 1752.7,1079.3 1753.2,1078.3 1753.6,1077.9 1754.1,1077.8 1754.5,1076.8 1755.0,1076.2 1755.4,1076.3 1755.9,1074.9 1756.3,1074.3 1756.7,1074.5 1757.2,1072.8 1757.6,1072.5 1758.1,1071.9 1758.5,1070.7 1759.0,1069.6 1759.4,1069.5 1759.9,1068.3 1760.3,1068.6 1760.7,1068.1 1761.2,1066.7 1761.6,1066.9 1762.1,1066.4 1762.5,1066.7 1763.0,1066.5 1763.4,1066.5 1763.9,1067.1 1764.3,1066.7 1764.7,1067.6 1765.2,1067.9 1765.6,1068.1 1766.1,1069.0 1766.5,1069.1 1767.0,1069.4 1767.4,1069.9 1767.9,1070.3 1768.3,1071.0 1768.7,1071.0 1769.2,1070.4 1769.6,1070.5 1770.1,1071.3 1770.5,1071.2 1771.0,1071.4 1771.4,1070.9 1771.9,1070.8 1772.3,1071.1 1772.7,1069.8 1773.2,1070.0 1773.6,1069.2 1774.1,1069.1 1774.5,1068.4 1775.0,1067.7 1775.4,1067.6 1775.9,1067.0 1776.3,1066.4 1776.7,1066.8 1777.2,1066.8 1777.6,1066.7 1778.1,1067.0 1778.5,1067.1 1779.0,1067.7 1779.4,1068.0 1779.8,1068.0 1780.3,1068.9 1780.7,1070.1 1781.2,1070.4 1781.6,1071.2 1782.1,1071.4 1782.5,1072.0 1783.0,1072.4 1783.4,1073.5 1783.8,1074.4 1784.3,1075.0 1784.7,1075.6 1785.2,1075.8 1785.6,1076.5 1786.1,1076.8 1786.5,1077.7 1787.0,1078.1 1787.4,1078.1 1787.8,1078.7 1788.3,1078.2 1788.7,1079.4 1789.2,1079.2 1789.6,1079.5 1790.1,1080.0 1790.5,1080.2 1791.0,1079.9 1791.4,1080.7 1791.8,1081.0 1792.3,1080.9 1792.7,1080.9 1793.2,1080.6 1793.6,1081.1 1794.1,1080.5 1794.5,1080.4 1795.0,1080.9 1795.4,1080.9 1795.8,1080.6 1796.3,1081.5 1796.7,1080.5 1797.2,1080.3 1797.6,1080.9 1798.1,1081.5 1798.5,1081.3 1799.0,1081.1 1799.4,1081.1 1799.8,1081.2 1800.3,1081.2 1800.7,1081.1 1801.2,1081.1 1801.6,1080.6 1802.1,1081.4 1802.5,1081.0 1803.0,1081.2 1803.4,1081.3 1803.8,1081.4 1804.3,1080.9 1804.7,1081.4 1805.2,1081.4 1805.6,1081.1 1806.1,1081.1 1806.5,1081.2 1807.0,1080.9 1807.4,1081.0 1807.8,1080.8 1808.3,1081.5 1808.7,1080.9 1809.2,1080.8 1809.6,1081.2 1810.1,1081.3 1810.5,1081.1 1810.9,1080.9 1811.4,1081.3 1811.8,1081.4 1812.3,1080.7 1812.7,1081.5 1813.2,1080.6 1813.6,1081.4 1814.1,1081.1 1814.5,1081.1 1814.9,1081.4 1815.4,1081.6 1815.8,1081.8 1816.3,1081.6 1816.7,1081.4 1817.2,1080.8 1817.6,1081.1 1818.1,1081.2 1818.5,1081.0 1818.9,1081.4 1819.4,1081.1 1819.8,1081.7 1820.3,1081.1 1820.7,1080.8 1821.2,1081.0 1821.6,1081.0 1822.1,1081.4 1822.5,1081.6"/></g>
<g><path class="c" stroke="#0000ff" stroke-width="11.2" d="M267.5,749.8 267.9,750.3 268.4,749.8 268.8,748.0 269.3,750.5 269.7,750.0 270.2,748.9 270.6,750.1 271.1,749.9 271.5,749.8 271.9,749.6 272.4,750.1 272.8,748.8 273.3,749.4 273.7,749.1 274.2,750.2 274.6,749.6 275.1,749.3 275.5,748.8 275.9,749.4 276.4,749.7 276.8,749.4 277.3,751.1 277.7,750.8 278.2,746.8 278.6,747.7 279.1,749.5 279.5,749.3 279.9,750.0 280.4,750.0 280.8,752.1 281.3,748.6 281.7,749.4 282.2,752.0 282.6,750.5 283.1,750.6 283.5,749.3 283.9,748.1 284.4,750.1 284.8,750.0 285.3,748.6 285.7,749.2 286.2,749.8 286.6,748.9 287.0,749.8 287.5,750.1 287.9,750.0 288.4,749.4 288.8,750.6 289.3,751.0 289.7,750.4 290.2,749.2 290.6,750.8 291.0,749.5 291.5,751.0 291.9,748.9 292.4,751.1 292.8,750.1 293.3,748.8 293.7,749.8 294.2,750.2 294.6,750.4 295.0,749.1 295.5,749.0 295.9,750.4 296.4,749.7 296.8,750.5 297.3,751.0 297.7,748.5 298.2,750.5 298.6,751.6 299.0,750.0 299.5,749.4 299.9,751.1 300.4,750.6 300.8,751.3 301.3,750.0 301.7,748.8 302.2,750.2 302.6,749.9 303.0,751.2 303.5,750.6 303.9,748.7 304.4,749.2 304.8,751.4 305.3,751.1 305.7,749.8 306.2,750.5 306.6,750.9 307.0,751.0 307.5,751.4 307.9,750.8 308.4,750.4 308.8,750.3 309.3,751.6 309.7,748.2 310.2,750.4 310.6,750.6 311.0,749.1 311.5,751.0 311.9,749.9 312.4,751.5 312.8,750.5 313.3,751.3 313.7,751.9 314.2,751.1 314.6,749.8 315.0,749.1 315.5,752.5 315.9,750.6 316.4,750.0 316.8,750.9 317.3,750.6 317.7,751.7 318.1,750.8 318.6,750.8 319.0,750.1 319.5,751.3 319.9,749.8 320.4,751.5 320.8,752.4 321.3,749.3 321.7,748.3 322.1,751.5 322.6,753.5 323.0,749.9 323.5,749.6 323.9,751.5 324.4,750.1 324.8,750.4 325.3,750.6 325.7,751.5 326.1,750.6 326.6,751.3 327.0,750.8 327.5,750.2 327.9,750.7 328.4,750.1 328.8,751.1 329.3,749.9 329.7,750.0 330.1,752.6 330.6,751.1 331.0,751.1 331.5,751.7 331.9,750.7 332.4,750.9 332.8,751.6 333.3,751.5 333.7,750.0 334.1,752.1 334.6,750.6 335.0,750.2 335.5,750.3 335.9,750.9 336.4,752.9 336.8,750.1 337.3,751.5 337.7,749.2 338.1,751.3 338.6,752.2 339.0,751.1 339.5,750.7 339.9,751.6 340.4,752.1 340.8,752.1 341.3,753.4 341.7,751.6 342.1,750.8 342.6,751.3 343.0,751.4 343.5,751.6 343.9,751.5 344.4,751.7 344.8,749.8 345.3,752.3 345.7,751.0 346.1,750.4 346.6,752.2 347.0,752.9 347.5,752.1 347.9,751.8 348.4,750.7 348.8,754.5 349.2,752.5 349.7,750.5 350.1,750.9 350.6,751.7 351.0,750.1 351.5,751.9 351.9,751.2 352.4,752.9 352.8,752.7 353.2,749.1 353.7,751.8 354.1,750.2 354.6,752.9 355.0,751.9 355.5,752.3 355.9,750.8 356.4,753.6 356.8,753.8 357.2,750.8 357.7,752.2 358.1,751.2 358.6,751.9 359.0,750.6 359.5,753.7 359.9,751.0 360.4,751.6 360.8,752.4 361.2,751.3 361.7,751.7 362.1,751.4 362.6,751.9 363.0,750.9 363.5,751.6 363.9,751.8 364.4,751.7 364.8,752.1 365.2,751.8 365.7,752.8 366.1,751.8 366.6,752.0 367.0,751.5 367.5,751.6 367.9,750.9 368.4,752.6 368.8,751.0 369.2,751.4 369.7,752.5 370.1,752.6 370.6,751.8 371.0,750.3 371.5,752.6 371.9,752.5 372.4,750.9 372.8,753.0 373.2,751.6 373.7,751.2 374.1,752.4 374.6,752.1 375.0,752.5 375.5,750.8 375.9,754.1 376.4,751.8 376.8,750.9 377.2,753.0 377.7,752.1 378.1,752.7 378.6,752.1 379.0,752.4 379.5,752.7 379.9,751.7 380.3,753.1 380.8,752.0 381.2,751.7 381.7,752.6 382.1,752.9 382.6,752.3 383.0,751.7 383.5,753.1 383.9,750.9 384.3,751.6 384.8,752.6 385.2,751.3 385.7,752.6 386.1,752.6 386.6,753.5 387.0,751.8 387.5,752.1 387.9,753.0 388.3,750.4 388.8,755.6 389.2,752.1 389.7,752.0 390.1,753.5 390.6,752.7 391.0,751.1 391.5,753.4 391.9,753.6 392.3,752.4 392.8,752.5 393.2,753.3 393.7,752.0 394.1,753.3 394.6,753.0 395.0,752.2 395.5,751.6 395.9,752.7 396.3,752.1 396.8,753.8 397.2,753.1 397.7,753.7 398.1,753.1 398.6,753.2 399.0,752.2 399.5,753.6 399.9,754.7 400.3,752.7 400.8,752.5 401.2,752.9 401.7,752.6 402.1,752.4 402.6,753.2 403.0,752.8 403.5,754.4 403.9,753.1 404.3,753.4 404.8,753.9 405.2,752.8 405.7,754.4 406.1,752.5 406.6,752.3 407.0,752.8 407.5,753.0 407.9,751.8 408.3,753.1 408.8,751.6 409.2,754.4 409.7,753.1 410.1,752.5 410.6,752.3 411.0,752.8 411.4,752.9 411.9,752.2 412.3,752.3 412.8,753.0 413.2,752.7 413.7,754.0 414.1,754.2 414.6,753.2 415.0,753.6 415.4,752.0 415.9,753.8 416.3,753.2 416.8,753.7 417.2,754.7 417.7,751.2 418.1,753.5 418.6,752.3 419.0,753.8 419.4,752.1 419.9,752.8 420.3,753.5 420.8,753.8 421.2,753.3 421.7,752.6 422.1,752.8 422.6,754.1 423.0,753.3 423.4,751.8 423.9,754.1 424.3,753.7 424.8,754.1 425.2,753.0 425.7,754.1 426.1,752.4 426.6,753.9 427.0,752.9 427.4,754.0 427.9,754.3 428.3,752.7 428.8,753.3 429.2,753.4 429.7,754.4 430.1,754.0 430.6,752.3 431.0,753.8 431.4,754.1 431.9,755.3 432.3,751.9 432.8,753.0 433.2,754.6 433.7,752.2 434.1,752.4 434.6,753.9 435.0,754.3 435.4,752.9 435.9,753.9 436.3,753.6 436.8,754.8 437.2,753.5 437.7,754.3 438.1,752.7 438.6,753.3 439.0,753.4 439.4,754.5 439.9,754.0 440.3,752.8 440.8,754.1 441.2,754.1 441.7,753.4 442.1,753.2 442.5,753.3 443.0,752.0 443.4,753.6 443.9,753.6 444.3,752.6 444.8,754.0 445.2,752.1 445.7,752.8 446.1,752.8 446.5,754.9 447.0,751.7 447.4,753.5 447.9,753.7 448.3,753.1 448.8,753.7 449.2,751.6 449.7,750.3 450.1,752.6 450.5,750.5 451.0,750.8 451.4,749.5 451.9,750.7 452.3,749.6 452.8,747.0 453.2,746.8 453.7,744.1 454.1,741.2 454.5,737.9 455.0,733.1 455.4,727.8 455.9,719.5 456.3,708.4 456.8,695.6 457.2,675.8 457.7,652.7 458.1,622.1 458.5,584.5 459.0,535.8 459.4,482.7 459.9,420.3 460.3,357.0 460.8,297.9 461.2,251.7 461.7,222.4 462.1,249.8 462.5,337.7 463.0,438.2 463.4,542.2 463.9,628.2 464.3,684.0 464.8,715.7 465.2,732.8 465.7,741.5 466.1,746.9 466.5,750.4 467.0,753.1 467.4,753.0 467.9,752.5 468.3,753.2 468.8,753.0 469.2,752.9 469.7,753.5 470.1,753.8 470.5,755.3 471.0,753.8 471.4,754.9 471.9,755.3 472.3,753.9 472.8,755.2 473.2,754.4 473.6,753.5 474.1,754.1 474.5,753.9 475.0,753.7 475.4,753.7 475.9,754.0 476.3,754.2 476.8,753.1 477.2,753.9 477.6,752.6 478.1,754.1 478.5,754.4 479.0,754.0 479.4,754.1 479.9,754.4 480.3,753.4 480.8,753.7 481.2,754.3 481.6,754.7 482.1,754.2 482.5,756.0 483.0,753.8 483.4,754.7 483.9,754.9 484.3,753.8 484.8,753.3 485.2,753.0 485.6,754.1 486.1,754.8 486.5,754.1 487.0,754.1 487.4,753.6 487.9,754.4 488.3,752.2 488.8,754.1 489.2,754.0 489.6,752.8 490.1,755.7 490.5,752.8 491.0,753.1 491.4,753.0 491.9,754.8 492.3,753.2 492.8,754.5 493.2,754.4 493.6,754.2 494.1,752.9 494.5,753.5 495.0,755.3 495.4,752.9 495.9,753.3 496.3,753.8 496.8,754.6 497.2,754.2 497.6,754.6 498.1,753.1 498.5,754.7 499.0,754.4 499.4,752.7 499.9,755.2 500.3,755.8 500.8,753.4 501.2,754.0 501.6,755.1 502.1,752.8 502.5,752.4 503.0,753.0 503.4,753.6 503.9,753.6 504.3,754.5 504.7,754.2 505.2,753.0 505.6,754.5 506.1,755.5 506.5,754.9 507.0,754.8 507.4,754.0 507.9,754.8 508.3,753.3 508.7,754.6 509.2,754.0 509.6,754.9 510.1,754.4 510.5,753.2 511.0,754.1 511.4,755.0 511.9,753.2 512.3,753.6 512.7,753.5 513.2,752.9 513.6,754.8 514.1,755.1 514.5,754.7 515.0,754.2 515.4,754.0 515.9,754.2 516.3,753.5 516.7,754.7 517.2,754.9 517.6,754.8 518.1,753.7 518.5,754.1 519.0,754.0 519.4,755.4 519.9,754.2 520.3,752.7 520.7,754.4 521.2,755.5 521.6,754.6 522.1,754.8 522.5,754.1 523.0,752.6 523.4,752.7 523.9,753.2 524.3,754.0 524.7,754.3 525.2,754.6 525.6,753.9 526.1,754.8 526.5,753.9 527.0,753.6 527.4,754.8 527.9,753.4 528.3,752.1 528.7,753.3 529.2,754.2 529.6,751.8 530.1,753.9 530.5,753.9 531.0,753.1 531.4,753.0 531.9,753.8 532.3,753.7 532.7,755.1 533.2,754.4 533.6,753.0 534.1,753.5 534.5,754.7 535.0,755.5 535.4,754.4 535.8,754.4 536.3,755.5 536.7,754.1 537.2,753.9 537.6,753.1 538.1,753.8 538.5,755.8 539.0,753.1 539.4,754.2 539.8,753.2 540.3,754.3 540.7,754.8 541.2,754.0 541.6,754.7 542.1,754.7 542.5,754.5 543.0,755.4 543.4,754.8 543.8,754.0 544.3,753.7 544.7,753.6 545.2,754.5 545.6,754.0 546.1,756.2 546.5,755.5 547.0,754.1 547.4,754.0 547.8,755.4 548.3,752.9 548.7,753.9 549.2,754.9 549.6,753.6 550.1,753.9 550.5,754.0 551.0,754.7 551.4,754.3 551.8,754.5 552.3,754.7 552.7,754.3 553.2,755.0 553.6,753.7 554.1,753.2 554.5,753.0 555.0,753.1 555.4,753.9 555.8,755.0 556.3,754.4 556.7,753.8 557.2,753.5 557.6,753.9 558.1,754.0 558.5,753.9 559.0,753.3 559.4,753.9 559.8,755.0 560.3,752.8 560.7,754.1 561.2,752.8 561.6,754.4 562.1,753.8 562.5,752.8 563.0,754.4 563.4,755.5 563.8,754.4 564.3,755.1 564.7,754.2 565.2,752.8 565.6,754.6 566.1,754.0 566.5,753.3 566.9,754.8 567.4,754.5 567.8,754.0 568.3,754.9 568.7,753.7 569.2,754.7 569.6,753.7 570.1,754.7 570.5,753.6 570.9,755.3 571.4,754.5 571.8,755.3 572.3,753.8 572.7,754.0 573.2,754.9 573.6,752.5 574.1,753.6 574.5,755.0 574.9,754.7 575.4,755.0 575.8,754.1 576.3,754.7 576.7,753.9 577.2,753.4 577.6,753.2 578.1,754.0 578.5,754.0 578.9,753.9 579.4,752.0 579.8,753.0 580.3,754.0 580.7,754.6 581.2,754.0 581.6,753.8 582.1,752.9 582.5,755.7 582.9,753.7 583.4,755.5 583.8,755.4 584.3,754.6 584.7,754.0 585.2,754.5 585.6,753.6 586.1,754.6 586.5,754.4 586.9,754.7 587.4,755.0 587.8,755.5 588.3,754.2 588.7,755.1 589.2,753.9 589.6,753.8 590.1,754.0 590.5,753.8 590.9,755.0 591.4,755.0 591.8,755.2 592.3,754.4 592.7,754.6 593.2,754.1 593.6,753.7 594.1,754.7 594.5,754.6 594.9,753.7 595.4,754.8 595.8,753.3 596.3,754.3 596.7,754.0 597.2,754.1 597.6,753.8 598.0,755.1 598.5,754.8 598.9,755.2 599.4,754.5 599.8,753.6 600.3,754.2 600.7,753.7 601.2,754.7 601.6,755.2 602.0,754.7 602.5,754.1 602.9,754.2 603.4,754.6 603.8,753.6 604.3,754.6 604.7,754.6 605.2,754.1 605.6,754.2 606.0,754.6 606.5,754.0 606.9,754.0 607.4,755.0 607.8,754.6 608.3,755.5 608.7,753.9 609.2,753.4 609.6,755.1 610.0,755.1 610.5,754.0 610.9,753.6 611.4,754.5 611.8,753.4 612.3,754.3 612.7,753.2 613.2,754.4 613.6,753.2 614.0,754.4 614.5,755.4 614.9,754.3 615.4,755.0 615.8,754.1 616.3,754.0 616.7,753.6 617.2,755.1 617.6,754.5 618.0,755.5 618.5,753.8 618.9,754.4 619.4,754.6 619.8,755.4 620.3,755.6 620.7,754.1 621.2,753.9 621.6,753.5 622.0,755.3 622.5,754.5 622.9,754.2 623.4,754.5 623.8,753.0 624.3,753.5 624.7,755.1 625.2,754.8 625.6,754.6 626.0,754.0 626.5,754.9 626.9,755.6 627.4,753.8 627.8,754.6 628.3,754.3 628.7,754.8 629.1,754.6 629.6,754.5 630.0,754.1 630.5,754.6 630.9,754.2 631.4,754.5 631.8,754.5 632.3,755.0 632.7,754.2 633.1,754.4 633.6,755.2 634.0,754.5 634.5,754.4 634.9,755.1 635.4,754.8 635.8,754.6 636.3,754.7 636.7,753.9 637.1,754.9 637.6,755.4 638.0,754.9 638.5,753.7 638.9,754.8 639.4,754.1 639.8,754.5 640.3,754.7 640.7,754.0 641.1,755.4 641.6,754.6 642.0,755.1 642.5,755.0 642.9,755.4 643.4,755.3 643.8,753.8 644.3,754.7 644.7,753.5 645.1,754.4 645.6,755.1 646.0,755.2 646.5,755.4 646.9,754.5 647.4,754.8 647.8,754.7 648.3,755.4 648.7,755.5 649.1,754.5 649.6,756.8 650.0,754.7 650.5,754.5 650.9,755.0 651.4,755.1 651.8,755.0 652.3,754.3 652.7,755.5 653.1,754.7 653.6,755.5 654.0,755.5 654.5,754.0 654.9,754.2 655.4,754.2 655.8,754.8 656.3,754.7 656.7,754.9 657.1,754.3 657.6,755.0 658.0,755.5 658.5,754.0 658.9,754.6 659.4,754.9 659.8,754.7 660.2,754.6 660.7,755.7 661.1,755.4 661.6,755.2 662.0,754.3 662.5,756.0 662.9,754.9 663.4,754.4 663.8,754.6 664.2,754.5 664.7,755.9 665.1,754.9 665.6,754.8 666.0,753.6 666.5,755.2 666.9,754.2 667.4,754.2 667.8,755.1 668.2,754.3 668.7,755.2 669.1,755.4 669.6,753.8 670.0,754.7 670.5,753.9 670.9,754.8 671.4,755.3 671.8,754.0 672.2,755.8 672.7,754.6 673.1,754.2 673.6,754.7 674.0,755.2 674.5,754.1 674.9,754.8 675.4,754.1 675.8,755.5 676.2,754.9 676.7,754.6 677.1,755.4 677.6,754.1 678.0,754.6 678.5,755.8 678.9,754.8 679.4,755.6 679.8,754.9 680.2,754.4 680.7,754.7 681.1,754.9 681.6,754.6 682.0,754.4 682.5,754.4 682.9,754.0 683.4,754.9 683.8,755.1 684.2,755.2 684.7,753.9 685.1,755.3 685.6,754.8 686.0,754.1 686.5,754.9 686.9,755.3 687.4,755.1 687.8,755.3 688.2,755.4 688.7,755.3 689.1,754.8 689.6,753.7 690.0,754.5 690.5,755.1 690.9,754.6 691.3,755.2 691.8,755.3 692.2,754.9 692.7,755.9 693.1,754.4 693.6,755.4 694.0,754.6 694.5,754.5 694.9,755.2 695.3,754.6 695.8,755.4 696.2,754.3 696.7,754.9 697.1,754.5 697.6,754.8 698.0,754.7 698.5,754.3 698.9,755.3 699.3,754.2 699.8,754.4 700.2,755.4 700.7,755.4 701.1,755.3 701.6,755.1 702.0,756.1 702.5,754.3 702.9,754.5 703.3,754.4 703.8,755.4 704.2,755.1 704.7,755.5 705.1,755.5 705.6,754.8 706.0,754.5 706.5,754.4 706.9,756.1 707.3,755.5 707.8,755.3 708.2,754.8 708.7,754.9 709.1,754.8 709.6,754.8 710.0,753.7 710.5,754.9 710.9,754.8 711.3,755.1 711.8,755.1 712.2,755.4 712.7,755.0 713.1,755.4 713.6,753.6 714.0,754.4 714.5,755.9 714.9,754.3 715.3,754.8 715.8,755.4 716.2,754.5 716.7,755.4 717.1,754.2 717.6,754.0 718.0,754.3 718.5,754.1 718.9,755.0 719.3,754.8 719.8,755.2 720.2,754.5 720.7,756.4 721.1,755.0 721.6,755.0 722.0,755.3 722.4,754.9 722.9,754.7 723.3,755.1 723.8,755.5 724.2,755.4 724.7,755.5 725.1,754.7 725.6,754.6 726.0,756.1 726.4,754.9 726.9,755.3 727.3,755.4 727.8,755.8 728.2,754.3 728.7,754.8 729.1,754.8 729.6,754.9 730.0,753.8 730.4,755.0 730.9,753.5 731.3,755.2 731.8,755.4 732.2,755.4 732.7,754.4 733.1,755.6 733.6,754.6 734.0,754.4 734.4,754.6 734.9,754.6 735.3,755.2 735.8,755.5 736.2,754.0 736.7,754.8 737.1,755.6 737.6,755.2 738.0,755.4 738.4,754.3 738.9,755.6 739.3,754.3 739.8,755.2 740.2,755.8 740.7,756.1 741.1,755.4 741.6,755.6 742.0,754.8 742.4,754.9 742.9,755.7 743.3,755.1 743.8,755.1 744.2,754.4 744.7,755.2 745.1,755.5 745.6,754.7 746.0,754.9 746.4,756.0 746.9,755.2 747.3,755.0 747.8,754.6 748.2,754.8 748.7,755.0 749.1,755.9 749.6,754.8 750.0,756.1 750.4,754.7 750.9,755.0 751.3,755.6 751.8,755.0 752.2,754.7 752.7,755.1 753.1,755.4 753.5,754.3 754.0,755.1 754.4,755.1 754.9,755.0 755.3,755.6 755.8,754.9 756.2,755.0 756.7,755.2 757.1,755.6 757.5,755.1 758.0,756.0 758.4,754.7 758.9,755.9 759.3,754.8 759.8,755.1 760.2,755.4 760.7,756.3 761.1,755.7 761.5,755.0 762.0,755.9 762.4,755.1 762.9,754.8 763.3,755.5 763.8,755.3 764.2,755.7 764.7,754.9 765.1,755.4 765.5,755.6 766.0,755.4 766.4,755.2 766.9,754.9 767.3,755.7 767.8,755.3 768.2,755.5 768.7,755.1 769.1,755.3 769.5,754.7 770.0,755.3 770.4,755.7 770.9,755.3 771.3,755.7 771.8,755.4 772.2,756.0 772.7,755.2 773.1,754.4 773.5,755.5 774.0,755.2 774.4,754.8 774.9,755.6 775.3,755.4 775.8,755.5 776.2,755.1 776.7,755.4 777.1,755.4 777.5,756.2 778.0,754.9 778.4,755.3 778.9,755.5 779.3,754.4 779.8,754.5 780.2,756.4 780.7,754.4 781.1,755.6 781.5,754.9 782.0,754.9 782.4,754.3 782.9,754.9 783.3,755.7 783.8,754.6 784.2,755.6 784.6,755.5 785.1,756.4 785.5,755.1 786.0,756.0 786.4,755.8 786.9,755.2 787.3,754.5 787.8,756.1 788.2,754.6 788.6,755.1 789.1,755.8 789.5,755.9 790.0,754.9 790.4,755.3 790.9,755.2 791.3,756.0 791.8,756.6 792.2,754.4 792.6,755.8 793.1,753.9 793.5,755.4 794.0,754.8 794.4,756.4 794.9,755.5 795.3,755.0 795.8,755.1 796.2,755.1 796.6,755.5 797.1,755.3 797.5,755.7 798.0,756.2 798.4,755.7 798.9,754.8 799.3,754.6 799.8,755.0 800.2,755.9 800.6,755.2 801.1,755.1 801.5,755.5 802.0,754.7 802.4,754.8 802.9,755.7 803.3,755.2 803.8,755.2 804.2,755.6 804.6,755.1 805.1,755.1 805.5,755.2 806.0,755.7 806.4,755.4 806.9,754.8 807.3,755.2 807.8,755.7 808.2,756.3 808.6,754.8 809.1,755.6 809.5,755.3 810.0,755.8 810.4,755.6 810.9,756.1 811.3,755.7 811.8,755.1 812.2,755.1 812.6,755.6 813.1,755.6 813.5,756.6 814.0,756.2 814.4,754.8 814.9,755.6 815.3,754.7 815.7,754.6 816.2,755.8 816.6,755.7 817.1,754.9 817.5,756.2 818.0,754.9 818.4,754.8 818.9,755.7 819.3,755.5 819.7,755.3 820.2,755.4 820.6,755.5 821.1,755.3 821.5,755.3 822.0,754.5 822.4,754.7 822.9,755.7 823.3,755.0 823.7,755.7 824.2,756.0 824.6,755.2 825.1,755.5 825.5,756.4 826.0,755.7 826.4,756.3 826.9,756.2 827.3,755.8 827.7,755.3 828.2,755.0 828.6,754.8 829.1,755.6 829.5,755.6 830.0,755.3 830.4,755.8 830.9,755.1 831.3,755.9 831.7,755.4 832.2,755.4 832.6,755.4 833.1,755.3 833.5,756.6 834.0,754.6 834.4,755.5 834.9,756.0 835.3,755.7 835.7,755.2 836.2,756.2 836.6,754.8 837.1,754.7 837.5,755.7 838.0,754.6 838.4,754.2 838.9,755.8 839.3,755.7 839.7,755.7 840.2,755.1 840.6,755.4 841.1,754.9 841.5,756.2 842.0,755.7 842.4,755.7 842.9,754.3 843.3,755.7 843.7,756.0 844.2,755.9 844.6,755.6 845.1,755.2 845.5,755.0 846.0,755.5 846.4,755.4 846.8,755.3 847.3,754.9 847.7,755.9 848.2,754.4 848.6,754.9 849.1,754.6 849.5,755.3 850.0,755.4 850.4,755.2 850.8,754.8 851.3,753.5 851.7,755.0 852.2,754.0 852.6,753.3 853.1,752.9 853.5,752.2 854.0,751.8 854.4,750.8 854.8,749.1 855.3,746.2 855.7,745.0 856.2,741.9 856.6,737.1 857.1,729.9 857.5,720.3 858.0,706.5 858.4,685.6 858.8,659.1 859.3,622.4 859.7,583.5 860.2,548.4 860.6,526.4 861.1,528.7 861.5,549.5 862.0,572.4 862.4,592.4 862.8,614.1 863.3,640.2 863.7,669.3 864.2,695.3 864.6,714.3 865.1,728.0 865.5,735.6 866.0,742.6 866.4,745.7 866.8,749.0 867.3,749.6 867.7,751.4 868.2,752.5 868.6,753.6 869.1,753.0 869.5,754.8 870.0,754.5 870.4,754.2 870.8,755.2 871.3,754.8 871.7,755.4 872.2,756.1 872.6,755.4 873.1,754.8 873.5,754.9 874.0,755.4 874.4,755.3 874.8,754.8 875.3,754.9 875.7,755.5 876.2,756.4 876.6,753.9 877.1,755.6 877.5,755.1 877.9,755.6 878.4,755.6 878.8,755.2 879.3,754.7 879.7,754.5 880.2,754.2 880.6,755.6 881.1,754.9 881.5,754.6 881.9,754.6 882.4,753.9 882.8,754.4 883.3,754.6 883.7,754.0 884.2,751.9 884.6,752.3 885.1,749.7 885.5,747.0 885.9,744.2 886.4,740.4 886.8,736.3 887.3,731.7 887.7,729.1 888.2,729.5 888.6,731.9 889.1,732.6 889.5,735.0 889.9,737.0 890.4,740.9 890.8,741.5 891.3,745.6 891.7,746.3 892.2,747.8 892.6,748.3 893.1,749.4 893.5,746.1 893.9,743.0 894.4,740.4 894.8,733.2 895.3,724.5 895.7,712.6 896.2,698.8 896.6,686.0 897.1,678.9 897.5,679.0 897.9,684.3 898.4,690.0 898.8,695.7 899.3,702.2 899.7,711.4 900.2,720.6 900.6,729.9 901.1,737.3 901.5,743.3 901.9,746.4 902.4,749.3 902.8,750.1 903.3,751.4 903.7,752.7 904.2,752.9 904.6,754.2 905.1,753.6 905.5,754.5 905.9,753.5 906.4,754.3 906.8,754.8 907.3,754.9 907.7,754.2 908.2,755.2 908.6,755.6 909.0,755.5 909.5,754.9 909.9,755.0 910.4,754.7 910.8,755.6 911.3,756.0 911.7,755.1 912.2,754.5 912.6,755.5 913.0,755.7 913.5,754.1 913.9,755.4 914.4,756.4 914.8,755.8 915.3,755.7 915.7,755.6 916.2,755.9 916.6,755.0 917.0,755.0 917.5,755.6 917.9,755.1 918.4,755.5 918.8,754.5 919.3,755.8 919.7,755.8 920.2,755.4 920.6,755.5 921.0,756.2 921.5,754.9 921.9,755.0 922.4,754.9 922.8,755.2 923.3,754.9 923.7,755.4 924.2,755.1 924.6,754.7 925.0,754.7 925.5,756.0 925.9,755.4 926.4,755.3 926.8,755.4 927.3,755.4 927.7,755.8 928.2,755.7 928.6,755.2 929.0,755.0 929.5,754.9 929.9,754.8 930.4,756.1 930.8,755.0 931.3,754.5 931.7,755.0 932.2,755.1 932.6,755.6 933.0,755.0 933.5,755.7 933.9,755.6 934.4,756.0 934.8,756.5 935.3,756.8 935.7,756.1 936.2,754.9 936.6,755.2 937.0,755.6 937.5,756.4 937.9,755.8 938.4,756.0 938.8,755.4 939.3,755.7 939.7,755.8 940.1,755.2 940.6,755.8 941.0,755.9 941.5,755.4 941.9,755.9 942.4,756.2 942.8,755.5 943.3,755.4 943.7,755.3 944.1,755.2 944.6,755.5 945.0,755.2 945.5,755.3 945.9,755.1 946.4,754.7 946.8,755.0 947.3,755.6 947.7,754.9 948.1,755.1 948.6,756.2 949.0,756.0 949.5,755.1 949.9,755.7 950.4,755.1 950.8,756.2 951.3,755.2 951.7,755.5 952.1,756.1 952.6,755.1 953.0,756.0 953.5,755.1 953.9,755.6 954.4,755.3 954.8,755.4 955.3,755.5 955.7,755.4 956.1,755.0 956.6,755.8 957.0,755.8 957.5,756.0 957.9,756.1 958.4,754.8 958.8,756.0 959.3,756.0 959.7,755.2 960.1,755.9 960.6,756.1 961.0,755.2 961.5,754.8 961.9,755.3 962.4,756.7 962.8,755.6 963.3,754.9 963.7,755.3 964.1,755.0 964.6,755.3 965.0,755.5 965.5,754.3 965.9,755.6 966.4,756.1 966.8,755.4 967.3,755.3 967.7,755.9 968.1,754.9 968.6,754.9 969.0,754.8 969.5,755.4 969.9,755.6 970.4,755.4 970.8,755.7 971.2,755.8 971.7,755.7 972.1,755.1 972.6,755.3 973.0,756.0 973.5,755.0 973.9,755.3 974.4,755.3 974.8,755.4 975.2,755.0 975.7,754.8 976.1,756.6 976.6,755.9 977.0,755.1 977.5,755.4 977.9,755.8 978.4,755.3 978.8,755.7 979.2,755.2 979.7,755.3 980.1,755.4 980.6,755.2 981.0,754.3 981.5,755.5 981.9,755.6 982.4,755.7 982.8,755.0 983.2,755.6 983.7,755.5 984.1,754.6 984.6,754.5 985.0,755.7 985.5,755.0 985.9,755.9 986.4,756.4 986.8,755.2 987.2,755.1 987.7,755.4 988.1,755.8 988.6,754.9 989.0,756.0 989.5,755.9 989.9,755.7 990.4,755.2 990.8,755.9 991.2,755.8 991.7,754.9 992.1,756.4 992.6,755.3 993.0,755.6 993.5,755.2 993.9,755.6 994.4,756.0 994.8,755.1 995.2,754.7 995.7,755.2 996.1,754.9 996.6,755.1 997.0,755.4 997.5,755.4 997.9,756.0 998.4,755.0 998.8,755.6 999.2,755.2 999.7,756.1 1000.1,756.6 1000.6,755.6 1001.0,756.2 1001.5,755.2 1001.9,754.7 1002.3,754.9 1002.8,754.7 1003.2,755.0 1003.7,755.3 1004.1,756.0 1004.6,755.7 1005.0,755.6 1005.5,755.2 1005.9,755.1 1006.3,755.4 1006.8,755.5 1007.2,755.5 1007.7,755.6 1008.1,755.4 1008.6,754.6 1009.0,754.9 1009.5,755.0 1009.9,756.2 1010.3,755.2 1010.8,755.7 1011.2,756.0 1011.7,755.5 1012.1,755.2 1012.6,755.2 1013.0,754.9 1013.5,755.5 1013.9,755.8 1014.3,755.6 1014.8,755.7 1015.2,755.6 1015.7,756.2 1016.1,755.0 1016.6,755.3 1017.0,755.5 1017.5,755.7 1017.9,754.1 1018.3,754.9 1018.8,755.0 1019.2,754.6 1019.7,755.4 1020.1,755.0 1020.6,754.6 1021.0,754.0 1021.5,754.0 1021.9,754.0 1022.3,754.5 1022.8,753.6 1023.2,752.9 1023.7,752.9 1024.1,752.9 1024.6,753.4 1025.0,753.1 1025.5,751.0 1025.9,750.5 1026.3,749.3 1026.8,747.4 1027.2,744.1 1027.7,739.9 1028.1,735.1 1028.6,727.1 1029.0,717.1 1029.5,701.2 1029.9,676.0 1030.3,641.1 1030.8,589.7 1031.2,520.8 1031.7,439.3 1032.1,364.9 1032.6,325.0 1033.0,333.8 1033.4,374.3 1033.9,415.2 1034.3,443.0 1034.8,462.4 1035.2,487.4 1035.7,527.8 1036.1,578.6 1036.6,626.7 1037.0,664.5 1037.4,692.8 1037.9,711.9 1038.3,724.0 1038.8,732.8 1039.2,739.0 1039.7,742.7 1040.1,746.4 1040.6,748.2 1041.0,750.2 1041.4,750.8 1041.9,751.5 1042.3,753.4 1042.8,752.7 1043.2,753.3 1043.7,753.5 1044.1,754.0 1044.6,753.9 1045.0,754.5 1045.4,754.3 1045.9,754.6 1046.3,755.0 1046.8,755.2 1047.2,755.2 1047.7,754.7 1048.1,755.3 1048.6,755.1 1049.0,755.1 1049.4,754.5 1049.9,755.5 1050.3,755.2 1050.8,756.0 1051.2,755.6 1051.7,754.8 1052.1,754.7 1052.6,755.8 1053.0,755.0 1053.4,755.7 1053.9,755.2 1054.3,756.3 1054.8,755.4 1055.2,756.1 1055.7,756.0 1056.1,755.2 1056.6,755.3 1057.0,756.1 1057.4,755.4 1057.9,755.1 1058.3,756.0 1058.8,756.6 1059.2,755.4 1059.7,756.1 1060.1,755.4 1060.6,756.0 1061.0,755.4 1061.4,756.0 1061.9,755.7 1062.3,755.4 1062.8,755.6 1063.2,755.2 1063.7,755.0 1064.1,755.0 1064.5,755.5 1065.0,755.0 1065.4,755.7 1065.9,755.7 1066.3,755.7 1066.8,755.3 1067.2,755.5 1067.7,755.5 1068.1,756.1 1068.5,755.1 1069.0,755.3 1069.4,755.4 1069.9,755.4 1070.3,755.2 1070.8,755.2 1071.2,755.9 1071.7,755.2 1072.1,755.9 1072.5,756.4 1073.0,756.0 1073.4,754.7 1073.9,755.8 1074.3,755.7 1074.8,755.7 1075.2,754.8 1075.7,755.8 1076.1,755.0 1076.5,756.1 1077.0,756.0 1077.4,756.6 1077.9,755.3 1078.3,754.9 1078.8,756.0 1079.2,755.9 1079.7,755.3 1080.1,756.1 1080.5,755.8 1081.0,755.0 1081.4,755.4 1081.9,755.3 1082.3,755.5 1082.8,755.6 1083.2,755.2 1083.7,755.4 1084.1,755.8 1084.5,755.5 1085.0,755.4 1085.4,755.4 1085.9,755.5 1086.3,754.7 1086.8,755.6 1087.2,755.1 1087.7,755.6 1088.1,754.9 1088.5,755.9 1089.0,755.6 1089.4,754.9 1089.9,755.6 1090.3,755.2 1090.8,756.3 1091.2,755.7 1091.7,755.2 1092.1,755.6 1092.5,755.5 1093.0,756.0 1093.4,755.7 1093.9,755.7 1094.3,755.0 1094.8,755.8 1095.2,756.4 1095.6,755.8 1096.1,755.5 1096.5,755.6 1097.0,755.1 1097.4,755.6 1097.9,755.0 1098.3,755.5 1098.8,755.3 1099.2,755.2 1099.6,755.8 1100.1,754.9 1100.5,755.5 1101.0,755.0 1101.4,756.3 1101.9,756.3 1102.3,755.9 1102.8,756.3 1103.2,755.8 1103.6,755.7 1104.1,755.3 1104.5,755.1 1105.0,755.6 1105.4,755.3 1105.9,755.3 1106.3,755.8 1106.8,755.4 1107.2,754.8 1107.6,755.4 1108.1,755.2 1108.5,755.4 1109.0,755.0 1109.4,756.0 1109.9,756.3 1110.3,755.0 1110.8,755.7 1111.2,755.7 1111.6,755.0 1112.1,755.5 1112.5,756.0 1113.0,755.8 1113.4,756.1 1113.9,754.9 1114.3,755.0 1114.8,755.4 1115.2,755.4 1115.6,755.2 1116.1,755.0 1116.5,755.0 1117.0,754.8 1117.4,755.1 1117.9,753.7 1118.3,755.3 1118.8,754.2 1119.2,753.6 1119.6,754.0 1120.1,752.7 1120.5,752.8 1121.0,751.6 1121.4,750.7 1121.9,748.9 1122.3,746.5 1122.8,742.0 1123.2,736.9 1123.6,730.0 1124.1,720.8 1124.5,712.2 1125.0,703.9 1125.4,699.1 1125.9,700.7 1126.3,704.8 1126.7,708.6 1127.2,713.2 1127.6,716.1 1128.1,718.5 1128.5,721.5 1129.0,726.5 1129.4,732.9 1129.9,738.3 1130.3,743.0 1130.7,746.4 1131.2,749.1 1131.6,750.4 1132.1,751.9 1132.5,754.0 1133.0,753.4 1133.4,754.2 1133.9,754.4 1134.3,754.6 1134.7,754.3 1135.2,755.1 1135.6,755.0 1136.1,755.4 1136.5,756.0 1137.0,755.3 1137.4,755.6 1137.9,754.9 1138.3,755.4 1138.7,756.0 1139.2,755.3 1139.6,755.1 1140.1,755.5 1140.5,755.3 1141.0,755.3 1141.4,755.3 1141.9,756.3 1142.3,755.1 1142.7,755.3 1143.2,755.2 1143.6,756.0 1144.1,755.4 1144.5,756.0 1145.0,755.5 1145.4,755.5 1145.9,754.9 1146.3,756.0 1146.7,755.7 1147.2,755.7 1147.6,755.4 1148.1,755.3 1148.5,755.0 1149.0,755.9 1149.4,755.6 1149.9,755.4 1150.3,755.2 1150.7,755.5 1151.2,755.5 1151.6,756.2 1152.1,755.8 1152.5,755.3 1153.0,755.1 1153.4,755.4 1153.9,755.1 1154.3,755.5 1154.7,755.7 1155.2,755.8 1155.6,755.7 1156.1,755.4 1156.5,755.8 1157.0,755.2 1157.4,755.5 1157.8,755.8 1158.3,755.6 1158.7,755.0 1159.2,755.0 1159.6,754.9 1160.1,756.2 1160.5,754.9 1161.0,755.5 1161.4,756.3 1161.8,755.9 1162.3,756.0 1162.7,755.3 1163.2,755.8 1163.6,756.7 1164.1,755.5 1164.5,755.7 1165.0,755.4 1165.4,755.5 1165.8,755.7 1166.3,756.1 1166.7,755.2 1167.2,754.9 1167.6,755.5 1168.1,755.6 1168.5,756.1 1169.0,755.8 1169.4,755.3 1169.8,755.7 1170.3,756.0 1170.7,755.6 1171.2,755.4 1171.6,755.8 1172.1,755.4 1172.5,754.8 1173.0,756.1 1173.4,755.0 1173.8,755.4 1174.3,755.4 1174.7,755.4 1175.2,755.4 1175.6,754.9 1176.1,755.7 1176.5,755.5 1177.0,755.5 1177.4,755.9 1177.8,756.0 1178.3,756.1 1178.7,756.3 1179.2,755.7 1179.6,754.9 1180.1,755.6 1180.5,755.5 1181.0,755.5 1181.4,755.3 1181.8,755.2 1182.3,755.8 1182.7,755.9 1183.2,755.1 1183.6,755.7 1184.1,755.5 1184.5,755.4 1185.0,755.8 1185.4,755.5 1185.8,755.3 1186.3,755.5 1186.7,754.7 1187.2,755.3 1187.6,755.3 1188.1,755.0 1188.5,755.6 1188.9,755.6 1189.4,755.3 1189.8,755.5 1190.3,755.8 1190.7,755.9 1191.2,755.2 1191.6,755.7 1192.1,755.9 1192.5,755.5 1192.9,755.2 1193.4,755.2 1193.8,755.4 1194.3,755.1 1194.7,756.3 1195.2,755.3 1195.6,755.7 1196.1,755.6 1196.5,755.8 1196.9,755.4 1197.4,755.0 1197.8,756.2 1198.3,755.5 1198.7,755.6 1199.2,755.6 1199.6,756.0 1200.1,755.8 1200.5,756.0 1200.9,755.8 1201.4,755.6 1201.8,755.6 1202.3,755.2 1202.7,754.8 1203.2,755.4 1203.6,755.1 1204.1,756.5 1204.5,756.1 1204.9,756.0 1205.4,755.3 1205.8,756.3 1206.3,754.9 1206.7,755.1 1207.2,755.2 1207.6,755.1 1208.1,755.6 1208.5,755.6 1208.9,756.3 1209.4,755.9 1209.8,756.0 1210.3,755.7 1210.7,755.5 1211.2,755.3 1211.6,754.9 1212.1,755.2 1212.5,755.4 1212.9,755.8 1213.4,754.9 1213.8,755.0 1214.3,755.6 1214.7,755.1 1215.2,755.7 1215.6,755.4 1216.1,755.2 1216.5,755.0 1216.9,755.5 1217.4,755.2 1217.8,755.3 1218.3,755.3 1218.7,755.6 1219.2,755.6 1219.6,754.9 1220.0,755.5 1220.5,755.7 1220.9,755.9 1221.4,755.8 1221.8,755.6 1222.3,755.1 1222.7,755.2 1223.2,755.9 1223.6,755.3 1224.0,755.9 1224.5,756.0 1224.9,755.1 1225.4,755.7 1225.8,755.5 1226.3,756.3 1226.7,755.8 1227.2,755.3 1227.6,755.7 1228.0,755.2 1228.5,755.5 1228.9,755.6 1229.4,755.6 1229.8,755.6 1230.3,755.2 1230.7,754.8 1231.2,755.4 1231.6,755.2 1232.0,755.3 1232.5,756.3 1232.9,756.0 1233.4,755.5 1233.8,755.0 1234.3,755.0 1234.7,755.7 1235.2,755.9 1235.6,755.4 1236.0,755.6 1236.5,755.6 1236.9,755.9 1237.4,754.8 1237.8,755.6 1238.3,755.7 1238.7,755.9 1239.2,755.7 1239.6,755.1 1240.0,755.3 1240.5,755.0 1240.9,755.6 1241.4,755.6 1241.8,755.7 1242.3,755.2 1242.7,755.1 1243.2,756.1 1243.6,755.6 1244.0,756.2 1244.5,755.7 1244.9,755.0 1245.4,755.8 1245.8,756.0 1246.3,755.4 1246.7,754.8 1247.2,755.8 1247.6,755.5 1248.0,755.6 1248.5,754.5 1248.9,755.7 1249.4,754.5 1249.8,755.2 1250.3,755.9 1250.7,754.8 1251.1,754.8 1251.6,755.4 1252.0,756.1 1252.5,756.1 1252.9,755.3 1253.4,755.9 1253.8,755.7 1254.3,755.6 1254.7,755.7 1255.1,755.3 1255.6,755.8 1256.0,755.9 1256.5,756.5 1256.9,755.9 1257.4,754.6 1257.8,755.1 1258.3,755.7 1258.7,755.6 1259.1,754.8 1259.6,755.5 1260.0,755.4 1260.5,755.5 1260.9,755.5 1261.4,755.9 1261.8,756.1 1262.3,755.8 1262.7,755.1 1263.1,755.2 1263.6,755.3 1264.0,755.5 1264.5,755.4 1264.9,755.4 1265.4,755.2 1265.8,755.9 1266.3,755.8 1266.7,755.9 1267.1,755.5 1267.6,755.7 1268.0,755.2 1268.5,755.2 1268.9,755.3 1269.4,755.8 1269.8,755.5 1270.3,755.1 1270.7,755.6 1271.1,755.7 1271.6,755.6 1272.0,755.3 1272.5,755.6 1272.9,755.4 1273.4,755.4 1273.8,755.5 1274.3,755.8 1274.7,756.2 1275.1,756.1 1275.6,755.8 1276.0,755.4 1276.5,755.4 1276.9,755.4 1277.4,756.0 1277.8,754.5 1278.3,755.6 1278.7,754.8 1279.1,755.5 1279.6,756.0 1280.0,755.2 1280.5,754.7 1280.9,756.0 1281.4,756.1 1281.8,755.7 1282.2,756.0 1282.7,755.2 1283.1,756.0 1283.6,756.2 1284.0,755.8 1284.5,755.6 1284.9,756.0 1285.4,756.0 1285.8,755.3 1286.2,756.0 1286.7,755.8 1287.1,755.6 1287.6,756.0 1288.0,755.9 1288.5,755.8 1288.9,755.4 1289.4,755.8 1289.8,755.1 1290.2,755.5 1290.7,754.9 1291.1,754.9 1291.6,755.7 1292.0,755.5 1292.5,755.6 1292.9,755.8 1293.4,755.7 1293.8,755.2 1294.2,755.6 1294.7,755.5 1295.1,755.4 1295.6,755.5 1296.0,755.4 1296.5,755.3 1296.9,755.4 1297.4,755.6 1297.8,756.3 1298.2,755.2 1298.7,755.7 1299.1,755.0 1299.6,756.1 1300.0,755.4 1300.5,755.6 1300.9,756.0 1301.4,755.9 1301.8,755.0 1302.2,755.7 1302.7,755.5 1303.1,755.8 1303.6,755.6 1304.0,755.8 1304.5,755.6 1304.9,755.5 1305.4,756.0 1305.8,755.0 1306.2,755.4 1306.7,755.2 1307.1,755.5 1307.6,755.4 1308.0,755.5 1308.5,755.4 1308.9,755.4 1309.4,755.0 1309.8,755.5 1310.2,755.7 1310.7,755.3 1311.1,755.3 1311.6,755.3 1312.0,756.1 1312.5,755.6 1312.9,755.7 1313.3,755.4 1313.8,755.4 1314.2,755.2 1314.7,756.1 1315.1,754.9 1315.6,755.6 1316.0,755.5 1316.5,755.4 1316.9,755.0 1317.3,755.1 1317.8,755.9 1318.2,755.3 1318.7,755.8 1319.1,755.8 1319.6,755.7 1320.0,755.8 1320.5,755.1 1320.9,755.3 1321.3,755.8 1321.8,755.1 1322.2,756.1 1322.7,755.3 1323.1,755.5 1323.6,755.1 1324.0,755.6 1324.5,755.2 1324.9,755.4 1325.3,755.1 1325.8,755.9 1326.2,754.9 1326.7,755.6 1327.1,755.5 1327.6,755.6 1328.0,755.0 1328.5,755.7 1328.9,755.7 1329.3,755.4 1329.8,755.4 1330.2,755.2 1330.7,755.4 1331.1,754.9 1331.6,755.3 1332.0,755.2 1332.5,754.4 1332.9,753.9 1333.3,754.7 1333.8,754.5 1334.2,754.8 1334.7,754.2 1335.1,753.7 1335.6,753.0 1336.0,753.1 1336.5,752.4 1336.9,751.6 1337.3,751.3 1337.8,750.9 1338.2,749.8 1338.7,748.5 1339.1,748.1 1339.6,746.8 1340.0,746.0 1340.5,746.3 1340.9,745.8 1341.3,746.5 1341.8,746.5 1342.2,746.2 1342.7,746.4 1343.1,746.1 1343.6,744.2 1344.0,741.8 1344.4,738.8 1344.9,734.4 1345.3,728.7 1345.8,721.9 1346.2,714.9 1346.7,707.7 1347.1,701.3 1347.6,698.7 1348.0,699.1 1348.4,702.7 1348.9,706.5 1349.3,710.7 1349.8,714.1 1350.2,716.1 1350.7,717.9 1351.1,720.6 1351.6,723.4 1352.0,728.1 1352.4,732.6 1352.9,737.6 1353.3,741.5 1353.8,744.7 1354.2,747.4 1354.7,749.3 1355.1,751.0 1355.6,752.2 1356.0,752.2 1356.4,753.6 1356.9,753.0 1357.3,754.2 1357.8,754.6 1358.2,754.4 1358.7,754.7 1359.1,754.6 1359.6,755.3 1360.0,754.0 1360.4,754.8 1360.9,754.5 1361.3,755.3 1361.8,755.7 1362.2,755.7 1362.7,755.6 1363.1,755.5 1363.6,755.1 1364.0,755.8 1364.4,755.6 1364.9,755.2 1365.3,755.0 1365.8,755.3 1366.2,755.9 1366.7,755.9 1367.1,756.0 1367.6,755.2 1368.0,755.4 1368.4,756.0 1368.9,755.6 1369.3,755.8 1369.8,755.1 1370.2,755.4 1370.7,755.5 1371.1,755.4 1371.6,755.4 1372.0,755.0 1372.4,756.1 1372.9,755.6 1373.3,755.1 1373.8,755.9 1374.2,755.6 1374.7,755.8 1375.1,755.5 1375.5,755.3 1376.0,755.3 1376.4,755.7 1376.9,755.8 1377.3,755.7 1377.8,755.8 1378.2,756.0 1378.7,755.7 1379.1,755.9 1379.5,755.9 1380.0,755.7 1380.4,755.5 1380.9,755.4 1381.3,755.2 1381.8,755.1 1382.2,756.0 1382.7,755.6 1383.1,755.4 1383.5,756.1 1384.0,755.9 1384.4,755.6 1384.9,755.9 1385.3,755.5 1385.8,755.7 1386.2,756.2 1386.7,755.9 1387.1,755.5 1387.5,755.8 1388.0,756.0 1388.4,755.5 1388.9,755.4 1389.3,756.2 1389.8,755.5 1390.2,755.2 1390.7,755.6 1391.1,756.4 1391.5,755.8 1392.0,755.9 1392.4,754.9 1392.9,755.4 1393.3,756.0 1393.8,755.5 1394.2,756.0 1394.7,755.8 1395.1,755.7 1395.5,756.2 1396.0,755.4 1396.4,755.5 1396.9,755.7 1397.3,755.7 1397.8,755.1 1398.2,756.0 1398.7,755.7 1399.1,755.6 1399.5,755.8 1400.0,755.5 1400.4,756.0 1400.9,755.6 1401.3,755.9 1401.8,755.3 1402.2,755.5 1402.7,755.7 1403.1,755.3 1403.5,755.4 1404.0,755.6 1404.4,756.0 1404.9,755.9 1405.3,755.9 1405.8,755.7 1406.2,755.9 1406.6,756.1 1407.1,755.7 1407.5,755.8 1408.0,755.8 1408.4,755.0 1408.9,755.6 1409.3,755.8 1409.8,755.9 1410.2,755.5 1410.6,755.9 1411.1,755.4 1411.5,755.6 1412.0,756.2 1412.4,755.2 1412.9,755.6 1413.3,755.6 1413.8,755.6 1414.2,755.4 1414.6,755.8 1415.1,755.3 1415.5,755.2 1416.0,755.8 1416.4,755.2 1416.9,755.7 1417.3,755.6 1417.8,755.4 1418.2,755.5 1418.6,755.6 1419.1,755.8 1419.5,755.4 1420.0,755.5 1420.4,755.1 1420.9,755.5 1421.3,755.0 1421.8,755.6 1422.2,755.5 1422.6,756.3 1423.1,756.0 1423.5,755.6 1424.0,755.9 1424.4,755.7 1424.9,755.2 1425.3,754.8 1425.8,756.0 1426.2,755.7 1426.6,755.0 1427.1,755.8 1427.5,755.9 1428.0,755.4 1428.4,755.8 1428.9,755.0 1429.3,755.5 1429.8,755.6 1430.2,755.8 1430.6,755.7 1431.1,755.7 1431.5,755.8 1432.0,755.4 1432.4,756.1 1432.9,755.5 1433.3,755.8 1433.8,755.6 1434.2,755.5 1434.6,755.8 1435.1,755.7 1435.5,756.0 1436.0,755.9 1436.4,755.4 1436.9,755.8 1437.3,755.6 1437.7,755.3 1438.2,755.2 1438.6,755.7 1439.1,755.4 1439.5,755.2 1440.0,755.6 1440.4,755.7 1440.9,755.6 1441.3,755.2 1441.7,755.4 1442.2,756.0 1442.6,755.3 1443.1,755.5 1443.5,756.3 1444.0,755.7 1444.4,755.4 1444.9,755.0 1445.3,755.7 1445.7,755.1 1446.2,755.6 1446.6,755.3 1447.1,755.1 1447.5,756.1 1448.0,755.6 1448.4,755.9 1448.9,755.8 1449.3,755.4 1449.7,755.6 1450.2,755.5 1450.6,755.9 1451.1,755.7 1451.5,755.5 1452.0,756.1 1452.4,755.7 1452.9,755.7 1453.3,755.3 1453.7,755.7 1454.2,755.1 1454.6,755.7 1455.1,755.3 1455.5,755.6 1456.0,755.5 1456.4,755.6 1456.9,755.7 1457.3,755.5 1457.7,755.5 1458.2,755.1 1458.6,754.9 1459.1,755.9 1459.5,755.7 1460.0,755.0 1460.4,756.1 1460.9,755.2 1461.3,755.6 1461.7,755.6 1462.2,755.4 1462.6,755.6 1463.1,754.9 1463.5,755.3 1464.0,755.2 1464.4,755.2 1464.9,755.0 1465.3,754.8 1465.7,754.6 1466.2,755.0 1466.6,754.2 1467.1,754.3 1467.5,754.0 1468.0,753.4 1468.4,753.0 1468.8,752.3 1469.3,750.9 1469.7,749.8 1470.2,748.5 1470.6,745.1 1471.1,742.1 1471.5,737.6 1472.0,732.7 1472.4,724.4 1472.8,715.8 1473.3,705.7 1473.7,694.0 1474.2,683.9 1474.6,675.8 1475.1,671.5 1475.5,672.2 1476.0,676.2 1476.4,681.8 1476.8,687.9 1477.3,692.9 1477.7,696.4 1478.2,697.9 1478.6,700.5 1479.1,703.0 1479.5,706.9 1480.0,712.7 1480.4,719.2 1480.8,725.0 1481.3,729.6 1481.7,734.4 1482.2,736.6 1482.6,737.6 1483.1,737.3 1483.5,735.9 1484.0,732.4 1484.4,727.8 1484.8,720.6 1485.3,711.8 1485.7,700.9 1486.2,689.2 1486.6,679.1 1487.1,670.5 1487.5,666.7 1488.0,667.2 1488.4,671.3 1488.8,678.2 1489.3,684.1 1489.7,690.3 1490.2,693.3 1490.6,696.2 1491.1,698.5 1491.5,701.0 1492.0,705.5 1492.4,712.0 1492.8,718.6 1493.3,725.5 1493.7,731.2 1494.2,736.6 1494.6,741.6 1495.1,745.3 1495.5,747.2 1496.0,749.1 1496.4,750.9 1496.8,752.1 1497.3,752.9 1497.7,753.3 1498.2,753.3 1498.6,754.6 1499.1,754.3 1499.5,755.1 1499.9,754.3 1500.4,755.1 1500.8,755.0 1501.3,754.9 1501.7,755.5 1502.2,755.7 1502.6,755.2 1503.1,755.6 1503.5,755.1 1503.9,755.3 1504.4,755.4 1504.8,755.4 1505.3,755.7 1505.7,755.2 1506.2,755.8 1506.6,755.8 1507.1,755.5 1507.5,755.2 1507.9,754.8 1508.4,755.5 1508.8,755.4 1509.3,755.6 1509.7,755.3 1510.2,755.6 1510.6,755.6 1511.1,755.6 1511.5,755.7 1511.9,755.7 1512.4,755.9 1512.8,755.4 1513.3,755.8 1513.7,755.6 1514.2,755.5 1514.6,755.3 1515.1,756.0 1515.5,755.7 1515.9,755.4 1516.4,755.6 1516.8,755.6 1517.3,755.4 1517.7,755.2 1518.2,755.6 1518.6,755.6 1519.1,755.5 1519.5,755.9 1519.9,755.2 1520.4,755.3 1520.8,755.7 1521.3,755.9 1521.7,755.8 1522.2,755.8 1522.6,755.0 1523.1,755.8 1523.5,755.7 1523.9,755.8 1524.4,755.4 1524.8,755.8 1525.3,755.9 1525.7,756.1 1526.2,755.7 1526.6,755.2 1527.1,755.6 1527.5,755.8 1527.9,755.8 1528.4,756.2 1528.8,755.6 1529.3,755.3 1529.7,755.4 1530.2,755.8 1530.6,755.4 1531.0,755.3 1531.5,755.4 1531.9,756.0 1532.4,755.7 1532.8,755.5 1533.3,755.9 1533.7,755.8 1534.2,755.3 1534.6,755.9 1535.0,755.7 1535.5,755.0 1535.9,755.3 1536.4,755.7 1536.8,755.8 1537.3,755.5 1537.7,755.3 1538.2,755.7 1538.6,755.1 1539.0,755.8 1539.5,755.6 1539.9,755.6 1540.4,755.4 1540.8,755.8 1541.3,754.9 1541.7,755.3 1542.2,755.8 1542.6,755.4 1543.0,756.0 1543.5,755.7 1543.9,755.4 1544.4,755.9 1544.8,755.6 1545.3,755.7 1545.7,755.4 1546.2,755.4 1546.6,755.8 1547.0,755.6 1547.5,755.3 1547.9,755.3 1548.4,755.7 1548.8,756.0 1549.3,755.2 1549.7,755.6 1550.2,754.5 1550.6,754.9 1551.0,755.5 1551.5,755.7 1551.9,755.1 1552.4,755.1 1552.8,754.9 1553.3,754.9 1553.7,754.1 1554.2,754.3 1554.6,753.5 1555.0,753.0 1555.5,752.4 1555.9,751.4 1556.4,750.0 1556.8,748.5 1557.3,746.1 1557.7,743.9 1558.2,740.0 1558.6,735.0 1559.0,730.0 1559.5,723.6 1559.9,716.8 1560.4,710.5 1560.8,706.2 1561.3,704.0 1561.7,704.5 1562.1,706.3 1562.6,709.8 1563.0,714.4 1563.5,717.4 1563.9,719.3 1564.4,720.4 1564.8,721.9 1565.3,723.3 1565.7,725.2 1566.1,728.0 1566.6,731.3 1567.0,735.4 1567.5,738.7 1567.9,742.2 1568.4,745.1 1568.8,747.4 1569.3,750.0 1569.7,750.4 1570.1,752.1 1570.6,752.5 1571.0,753.1 1571.5,754.0 1571.9,753.8 1572.4,754.5 1572.8,755.5 1573.3,754.9 1573.7,755.2 1574.1,754.9 1574.6,755.4 1575.0,754.9 1575.5,755.4 1575.9,755.4 1576.4,756.1 1576.8,755.5 1577.3,755.4 1577.7,755.4 1578.1,755.2 1578.6,755.8 1579.0,756.0 1579.5,755.5 1579.9,755.8 1580.4,755.5 1580.8,755.7 1581.3,755.7 1581.7,755.2 1582.1,755.4 1582.6,755.9 1583.0,755.0 1583.5,755.6 1583.9,755.5 1584.4,755.3 1584.8,755.6 1585.3,755.7 1585.7,755.8 1586.1,754.8 1586.6,756.1 1587.0,755.5 1587.5,755.9 1587.9,755.6 1588.4,755.5 1588.8,755.6 1589.3,756.6 1589.7,756.1 1590.1,755.5 1590.6,755.7 1591.0,756.0 1591.5,755.8 1591.9,755.7 1592.4,755.6 1592.8,755.3 1593.2,755.9 1593.7,756.0 1594.1,756.3 1594.6,755.5 1595.0,755.8 1595.5,755.6 1595.9,756.0 1596.4,755.6 1596.8,755.4 1597.2,755.1 1597.7,755.8 1598.1,755.7 1598.6,756.0 1599.0,755.5 1599.5,756.4 1599.9,755.4 1600.4,755.8 1600.8,755.8 1601.2,756.0 1601.7,755.6 1602.1,755.4 1602.6,755.3 1603.0,755.9 1603.5,755.7 1603.9,755.7 1604.4,755.4 1604.8,755.7 1605.2,755.7 1605.7,755.8 1606.1,755.2 1606.6,755.4 1607.0,756.2 1607.5,755.5 1607.9,755.6 1608.4,755.5 1608.8,755.2 1609.2,755.3 1609.7,755.7 1610.1,755.4 1610.6,756.2 1611.0,755.2 1611.5,755.1 1611.9,755.5 1612.4,755.3 1612.8,756.1 1613.2,755.5 1613.7,755.8 1614.1,755.2 1614.6,755.8 1615.0,755.8 1615.5,756.0 1615.9,755.7 1616.4,755.8 1616.8,755.7 1617.2,755.9 1617.7,755.5 1618.1,755.8 1618.6,755.5 1619.0,755.8 1619.5,755.6 1619.9,755.4 1620.4,755.4 1620.8,756.1 1621.2,755.2 1621.7,755.2 1622.1,755.8 1622.6,755.3 1623.0,755.5 1623.5,755.5 1623.9,756.3 1624.3,755.4 1624.8,755.4 1625.2,755.5 1625.7,755.7 1626.1,755.8 1626.6,755.2 1627.0,755.8 1627.5,756.2 1627.9,755.1 1628.3,755.8 1628.8,755.9 1629.2,755.7 1629.7,755.6 1630.1,754.9 1630.6,756.0 1631.0,755.5 1631.5,755.6 1631.9,756.0 1632.3,754.9 1632.8,755.6 1633.2,755.8 1633.7,755.9 1634.1,755.8 1634.6,756.3 1635.0,755.7 1635.5,755.9 1635.9,755.9 1636.3,755.2 1636.8,755.4 1637.2,756.3 1637.7,755.6 1638.1,755.6 1638.6,755.2 1639.0,755.5 1639.5,755.2 1639.9,755.5 1640.3,755.8 1640.8,755.4 1641.2,755.5 1641.7,756.0 1642.1,755.8 1642.6,755.8 1643.0,755.9 1643.5,755.5 1643.9,755.5 1644.3,755.0 1644.8,755.9 1645.2,755.6 1645.7,755.6 1646.1,755.3 1646.6,755.8 1647.0,755.8 1647.5,755.7 1647.9,755.2 1648.3,755.4 1648.8,755.6 1649.2,755.4 1649.7,755.8 1650.1,755.9 1650.6,755.4 1651.0,755.6 1651.5,755.4 1651.9,756.0 1652.3,755.9 1652.8,756.4 1653.2,755.7 1653.7,755.4 1654.1,755.8 1654.6,755.6 1655.0,755.7 1655.4,756.0 1655.9,755.6 1656.3,755.9 1656.8,755.0 1657.2,756.0 1657.7,755.7 1658.1,755.6 1658.6,755.5 1659.0,756.1 1659.4,755.5 1659.9,756.0 1660.3,755.5 1660.8,755.7 1661.2,755.8 1661.7,756.3 1662.1,755.7 1662.6,755.7 1663.0,755.6 1663.4,755.6 1663.9,755.5 1664.3,756.2 1664.8,756.1 1665.2,755.4 1665.7,755.7 1666.1,755.3 1666.6,755.9 1667.0,755.9 1667.4,755.7 1667.9,755.4 1668.3,755.9 1668.8,755.8 1669.2,755.6 1669.7,755.9 1670.1,755.3 1670.6,755.5 1671.0,755.4 1671.4,755.7 1671.9,756.2 1672.3,755.7 1672.8,756.0 1673.2,755.6 1673.7,755.5 1674.1,756.0 1674.6,755.8 1675.0,756.1 1675.4,755.9 1675.9,755.4 1676.3,754.9 1676.8,755.7 1677.2,755.3 1677.7,755.2 1678.1,755.2 1678.6,755.5 1679.0,755.6 1679.4,755.7 1679.9,756.3 1680.3,755.3 1680.8,755.7 1681.2,755.3 1681.7,755.4 1682.1,755.7 1682.6,755.8 1683.0,755.3 1683.4,756.0 1683.9,755.4 1684.3,755.9 1684.8,755.6 1685.2,755.9 1685.7,755.8 1686.1,755.6 1686.5,755.8 1687.0,755.3 1687.4,755.3 1687.9,755.6 1688.3,756.1 1688.8,755.4 1689.2,755.5 1689.7,756.2 1690.1,755.7 1690.5,755.7 1691.0,755.3 1691.4,755.7 1691.9,755.8 1692.3,755.6 1692.8,755.9 1693.2,755.8 1693.7,756.0 1694.1,755.9 1694.5,755.6 1695.0,755.9 1695.4,756.2 1695.9,755.7 1696.3,755.3 1696.8,755.7 1697.2,755.6 1697.7,756.4 1698.1,755.9 1698.5,755.3 1699.0,755.6 1699.4,756.1 1699.9,755.3 1700.3,755.5 1700.8,755.7 1701.2,755.6 1701.7,755.5 1702.1,755.7 1702.5,755.2 1703.0,755.5 1703.4,755.5 1703.9,755.6 1704.3,755.6 1704.8,755.7 1705.2,755.5 1705.7,755.5 1706.1,755.8 1706.5,755.9 1707.0,755.9 1707.4,755.3 1707.9,755.7 1708.3,755.9 1708.8,755.6 1709.2,755.8 1709.7,755.6 1710.1,755.8 1710.5,755.2 1711.0,755.8 1711.4,755.5 1711.9,755.4 1712.3,755.6 1712.8,755.9 1713.2,755.9 1713.7,755.7 1714.1,755.9 1714.5,755.5 1715.0,755.3 1715.4,755.1 1715.9,755.6 1716.3,755.6 1716.8,755.7 1717.2,755.7 1717.6,756.0 1718.1,755.4 1718.5,755.4 1719.0,756.2 1719.4,755.9 1719.9,755.5 1720.3,755.0 1720.8,755.4 1721.2,755.5 1721.6,755.6 1722.1,755.7 1722.5,755.6 1723.0,756.0 1723.4,755.3 1723.9,755.5 1724.3,755.4 1724.8,755.9 1725.2,755.7 1725.6,755.9 1726.1,755.6 1726.5,756.7 1727.0,755.8 1727.4,755.4 1727.9,755.6 1728.3,755.5 1728.8,755.8 1729.2,755.9 1729.6,755.7 1730.1,755.5 1730.5,755.4 1731.0,756.1 1731.4,755.9 1731.9,754.7 1732.3,755.6 1732.8,755.3 1733.2,755.4 1733.6,756.0 1734.1,755.2 1734.5,755.2 1735.0,756.2 1735.4,755.3 1735.9,755.4 1736.3,755.8 1736.8,755.3 1737.2,755.4 1737.6,755.5 1738.1,755.8 1738.5,754.9 1739.0,755.1 1739.4,755.2 1739.9,755.5 1740.3,755.0 1740.8,755.3 1741.2,754.9 1741.6,754.9 1742.1,755.3 1742.5,754.8 1743.0,755.7 1743.4,754.8 1743.9,754.9 1744.3,754.7 1744.8,753.8 1745.2,753.6 1745.6,754.0 1746.1,753.3 1746.5,753.2 1747.0,753.0 1747.4,752.4 1747.9,752.6 1748.3,752.0 1748.7,751.3 1749.2,750.8 1749.6,749.7 1750.1,749.4 1750.5,748.1 1751.0,747.9 1751.4,746.3 1751.9,745.3 1752.3,744.8 1752.7,743.7 1753.2,742.4 1753.6,742.1 1754.1,741.3 1754.5,740.9 1755.0,740.8 1755.4,740.8 1755.9,741.0 1756.3,741.1 1756.7,741.3 1757.2,741.6 1757.6,742.5 1758.1,742.3 1758.5,743.6 1759.0,744.2 1759.4,744.7 1759.9,744.6 1760.3,745.9 1760.7,746.3 1761.2,746.9 1761.6,748.2 1762.1,747.9 1762.5,748.6 1763.0,748.6 1763.4,748.8 1763.9,750.0 1764.3,750.4 1764.7,750.7 1765.2,750.7 1765.6,750.1 1766.1,750.8 1766.5,750.9 1767.0,750.9 1767.4,749.8 1767.9,749.5 1768.3,749.0 1768.7,748.4 1769.2,747.4 1769.6,746.9 1770.1,746.7 1770.5,744.9 1771.0,743.6 1771.4,742.9 1771.9,741.7 1772.3,741.0 1772.7,739.6 1773.2,738.9 1773.6,738.1 1774.1,737.6 1774.5,737.7 1775.0,737.6 1775.4,737.7 1775.9,738.2 1776.3,738.2 1776.7,739.0 1777.2,739.6 1777.6,740.5 1778.1,740.2 1778.5,741.3 1779.0,742.3 1779.4,742.7 1779.8,743.7 1780.3,744.8 1780.7,745.6 1781.2,745.8 1781.6,746.8 1782.1,747.2 1782.5,749.1 1783.0,749.7 1783.4,750.7 1783.8,751.0 1784.3,751.2 1784.7,752.3 1785.2,752.1 1785.6,752.8 1786.1,753.1 1786.5,753.7 1787.0,754.0 1787.4,753.8 1787.8,753.9 1788.3,754.3 1788.7,754.3 1789.2,754.9 1789.6,754.8 1790.1,755.2 1790.5,755.7 1791.0,754.7 1791.4,754.9 1791.8,755.3 1792.3,755.3 1792.7,755.1 1793.2,754.7 1793.6,756.1 1794.1,755.4 1794.5,755.0 1795.0,754.7 1795.4,755.8 1795.8,755.5 1796.3,755.5 1796.7,755.2 1797.2,755.5 1797.6,755.4 1798.1,754.8 1798.5,756.3 1799.0,755.7 1799.4,755.4 1799.8,755.3 1800.3,755.4 1800.7,756.3 1801.2,755.7 1801.6,755.2 1802.1,755.9 1802.5,755.8 1803.0,755.8 1803.4,755.6 1803.8,755.6 1804.3,755.7 1804.7,755.6 1805.2,755.2 1805.6,755.3 1806.1,755.6 1806.5,755.2 1807.0,755.6 1807.4,755.5 1807.8,755.9 1808.3,755.7 1808.7,755.6 1809.2,755.6 1809.6,755.8 1810.1,755.9 1810.5,755.3 1810.9,755.2 1811.4,755.4 1811.8,755.0 1812.3,755.4 1812.7,755.9 1813.2,756.0 1813.6,756.1 1814.1,755.7 1814.5,755.7 1814.9,755.5 1815.4,755.5 1815.8,755.8 1816.3,756.0 1816.7,755.8 1817.2,755.1 1817.6,755.8 1818.1,755.7 1818.5,755.5 1818.9,755.7 1819.4,756.0 1819.8,755.7 1820.3,755.5 1820.7,756.7 1821.2,755.5 1821.6,755.8 1822.1,756.1 1822.5,755.4"/></g>
<rect x="156.5" y="24.5" width="1777" height="1433" fill="none" stroke="#000" stroke-width="11"/>
<rect x="262.0" y="1429" width="11" height="24" fill="#000"/>
<rect x="373.0" y="1443" width="11" height="10" fill="#000"/>
<rect x="484.0" y="1429" width="11" height="24" fill="#000"/>
<rect x="595.0" y="1443" width="11" height="10" fill="#000"/>
<rect x="706.0" y="1429" width="11" height="24" fill="#000"/>
<rect x="817.0" y="1443" width="11" height="10" fill="#000"/>
<rect x="928.0" y="1429" width="11" height="24" fill="#000"/>
<rect x="1040.0" y="1443" width="11" height="10" fill="#000"/>
<rect x="1151.0" y="1429" width="11" height="24" fill="#000"/>
<rect x="1262.0" y="1443" width="11" height="10" fill="#000"/>
<rect x="1373.0" y="1429" width="11" height="24" fill="#000"/>
<rect x="1484.0" y="1443" width="11" height="10" fill="#000"/>
<rect x="1595.0" y="1429" width="11" height="24" fill="#000"/>
<rect x="1706.0" y="1443" width="11" height="10" fill="#000"/>
<rect x="1817.0" y="1429" width="11" height="24" fill="#000"/>
<text class="a" font-size="75" text-anchor="middle" transform="translate(268.0 1546) scale(1 1.04)">10</text>
<text class="a" font-size="75" text-anchor="middle" transform="translate(490.1 1546) scale(1 1.04)">20</text>
<text class="a" font-size="75" text-anchor="middle" transform="translate(712.3 1546) scale(1 1.04)">30</text>
<text class="a" font-size="75" text-anchor="middle" transform="translate(934.4 1546) scale(1 1.04)">40</text>
<text class="a" font-size="75" text-anchor="middle" transform="translate(1156.6 1546) scale(1 1.04)">50</text>
<text class="a" font-size="75" text-anchor="middle" transform="translate(1378.7 1546) scale(1 1.04)">60</text>
<text class="a" font-size="75" text-anchor="middle" transform="translate(1600.9 1546) scale(1 1.04)">70</text>
<text class="a" font-size="75" text-anchor="middle" transform="translate(1823.0 1546) scale(1 1.04)">80</text>
<rect x="229.5" y="1537.4" width="13.6" height="9.4" fill="#fff"/>
<rect x="254" y="1537.4" width="12.5" height="9.4" fill="#fff"/>
<text class="s" font-size="101.6" text-anchor="start" transform="translate(88.8 1058.2) rotate(-90)">Intensity (a.u.)</text>
<text class="s" font-size="102" text-anchor="start" transform="translate(801.6 1695.8)">2θ (degree)</text>
<text class="s" font-size="70" text-anchor="start" transform="translate(486.1 203.1) rotate(-90)">(003)</text>
<text class="s" font-size="70" text-anchor="start" transform="translate(826.9 540.1) rotate(-90)">(101)</text>
<text class="s" font-size="70" text-anchor="start" transform="translate(938.1 568.5) rotate(-90)">(006/102)</text>
<text class="s" font-size="70" text-anchor="start" transform="translate(1053.1 292.2) rotate(-90)">(104)</text>
<text class="s" font-size="70" text-anchor="start" transform="translate(1149.0 667.4) rotate(-90)">(105)</text>
<text class="s" font-size="70" text-anchor="start" transform="translate(1361.9 670.1) rotate(-90)">(107)</text>
<text class="s" font-size="70" text-anchor="start" transform="translate(1507.0 634.6) rotate(-90)">(018/110)</text>
<text class="s" font-size="84.3" text-anchor="start" transform="translate(1581.1 715.1)">900 <tspan dx="-2.3">°</tspan><tspan dx="-1">C</tspan></text>
<text class="s" font-size="84.3" text-anchor="start" transform="translate(1578.5 1036.3)">850 <tspan dx="-2.3">°</tspan><tspan dx="-1">C</tspan></text>
<text class="s" font-size="84.3" text-anchor="start" transform="translate(1575.6 1364.9)">800 <tspan dx="-2.3">°</tspan><tspan dx="-1">C</tspan></text>
</svg>
</body>
</html>
